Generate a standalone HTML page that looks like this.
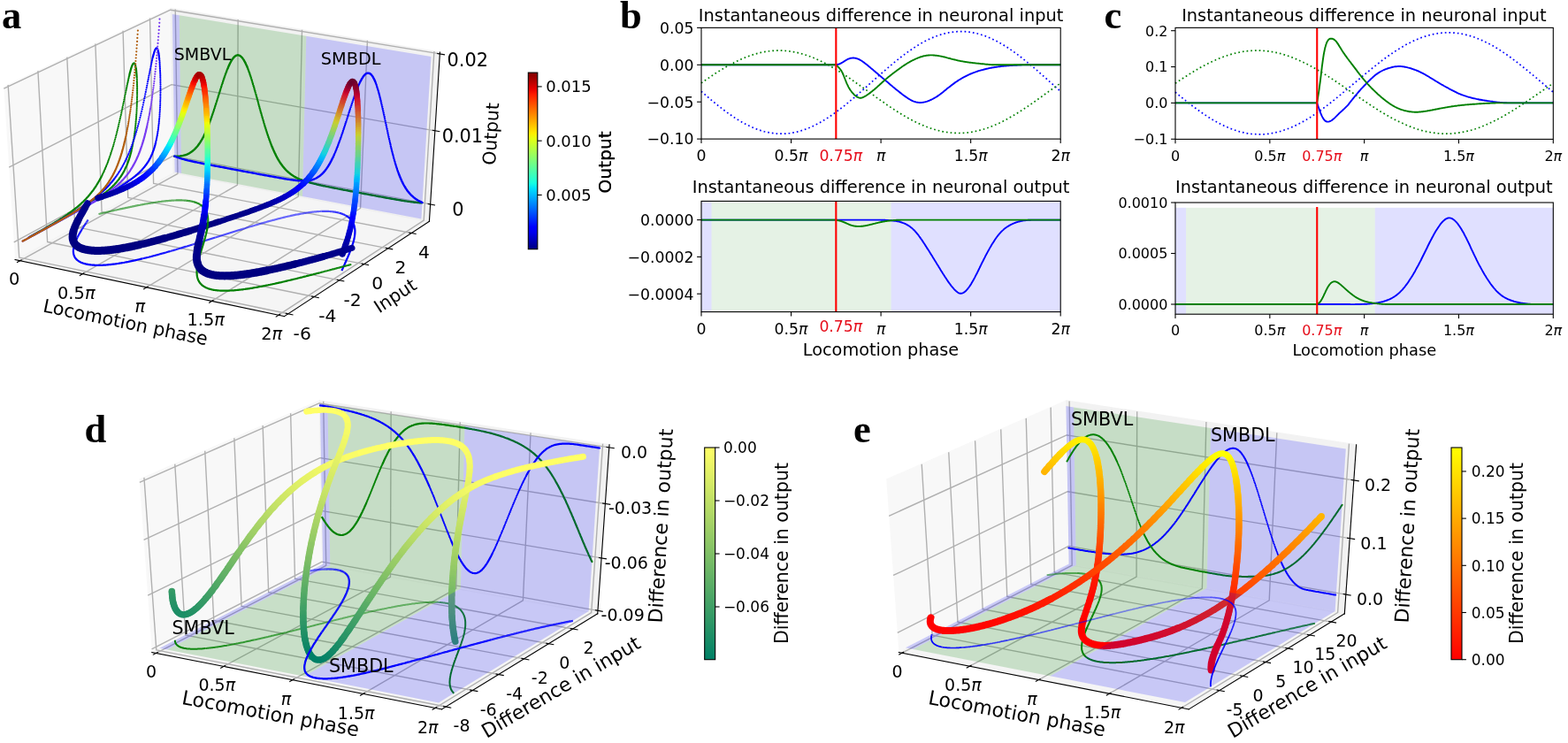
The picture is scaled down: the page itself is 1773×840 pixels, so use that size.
<!DOCTYPE html>
<html><head><meta charset="utf-8"><title>Figure</title>
<style>html,body{margin:0;padding:0;background:#fff;overflow:hidden}svg{display:block}</style></head>
<body>
<svg width="1773" height="840" viewBox="0 0 1276.56 604.80">
 <g id="figure_1" stroke-linejoin="round" stroke-linecap="butt">
  <g id="patch_1">
   <path d="M 0 604.8 
L 1276.56 604.8 
L 1276.56 0 
L 0 0 
z
" style="fill: #ffffff"/>
  </g>
  <g id="pane3d_1">
   <g id="patch_2">
    <path d="M 12.276018 211.436747 
L 140.888732 140.595865 
L 138.752524 6.84565 
L 3.013566 70.82768 
" style="fill: #f2f2f2; opacity: 0.5; stroke: #f2f2f2; stroke-linejoin: miter"/>
   </g>
  </g>
  <g id="pane3d_2">
   <g id="patch_3">
    <path d="M 140.888732 140.595865 
L 349.497506 180.225838 
L 358.179074 42.578621 
L 138.752524 6.84565 
" style="fill: #e6e6e6; opacity: 0.5; stroke: #e6e6e6; stroke-linejoin: miter"/>
   </g>
  </g>
  <g id="pane3d_3">
   <g id="patch_4">
    <path d="M 12.276018 211.436747 
L 231.538515 257.45241 
L 349.497506 180.225838 
L 140.888732 140.595865 
" style="fill: #ececec; opacity: 0.5; stroke: #ececec; stroke-linejoin: miter"/>
   </g>
  </g>
  <g id="grid3d_1">
   <g id="Line3DCollection_1">
    <path d="M 16.240963 212.268853 
L 144.672976 141.314768 
L 142.724705 7.492508 
" style="fill: none; stroke: #b0b0b0"/>
    <path d="M 67.208249 222.965135 
L 193.278152 150.548425 
L 193.770983 15.805245 
" style="fill: none; stroke: #b0b0b0"/>
    <path d="M 119.271057 233.891329 
L 242.852917 159.966277 
L 245.887652 24.292292 
" style="fill: none; stroke: #b0b0b0"/>
    <path d="M 172.465094 245.054929 
L 293.426577 169.573892 
L 299.108736 32.959189 
" style="fill: none; stroke: #b0b0b0"/>
    <path d="M 226.827633 256.463758 
L 345.029627 179.377063 
L 353.469716 41.811716 
" style="fill: none; stroke: #b0b0b0"/>
   </g>
  </g>
  <g id="grid3d_2">
   <g id="Line3DCollection_2">
    <path d="M 6.576123 69.14843 
L 15.63906 209.584358 
L 234.632669 255.426699 
" style="fill: none; stroke: #b0b0b0"/>
    <path d="M 30.897745 57.68417 
L 38.616512 196.928198 
L 255.759023 241.595486 
" style="fill: none; stroke: #b0b0b0"/>
    <path d="M 54.581526 46.520563 
L 61.021465 184.587376 
L 276.335573 228.124224 
" style="fill: none; stroke: #b0b0b0"/>
    <path d="M 77.652233 35.645935 
L 82.875053 172.55025 
L 296.383507 214.999042 
" style="fill: none; stroke: #b0b0b0"/>
    <path d="M 100.133367 25.049209 
L 104.197381 160.805746 
L 315.922937 202.206773 
" style="fill: none; stroke: #b0b0b0"/>
    <path d="M 122.047242 14.719866 
L 125.007588 149.343322 
L 334.972968 189.734909 
" style="fill: none; stroke: #b0b0b0"/>
   </g>
  </g>
  <g id="grid3d_3">
   <g id="Line3DCollection_3">
    <path d="M 350.37826 166.26139 
L 140.671597 127.000822 
L 11.337749 197.193309 
" style="fill: none; stroke: #b0b0b0"/>
    <path d="M 354.150973 106.444611 
L 139.742559 68.832766 
L 7.315053 136.126599 
" style="fill: none; stroke: #b0b0b0"/>
    <path d="M 358.098264 43.859869 
L 138.772367 8.088004 
L 3.099926 72.138676 
" style="fill: none; stroke: #b0b0b0"/>
   </g>
  </g>
  <g id="axis3d_1">
   <g id="line2d_1">
    <path d="M 12.276018 211.436747 
L 231.538515 257.45241 
" style="fill: none; stroke: #000000; stroke-width: 0.8; stroke-linecap: square"/>
   </g>
   <g id="xtick_1">
    <g id="line2d_2">
     <path d="M 17.345719 211.658515 
L 14.027422 213.491756 
" style="fill: none; stroke: #000000; stroke-width: 0.8; stroke-linecap: square"/>
    </g>
   </g>
   <g id="xtick_2">
    <g id="line2d_3">
     <path d="M 68.293493 222.341752 
L 65.033761 224.214198 
" style="fill: none; stroke: #000000; stroke-width: 0.8; stroke-linecap: square"/>
    </g>
   </g>
   <g id="xtick_3">
    <g id="line2d_4">
     <path d="M 120.335691 233.254479 
L 117.137824 235.167401 
" style="fill: none; stroke: #000000; stroke-width: 0.8; stroke-linecap: square"/>
    </g>
   </g>
   <g id="xtick_4">
    <g id="line2d_5">
     <path d="M 173.507961 244.404171 
L 170.375432 246.358896 
" style="fill: none; stroke: #000000; stroke-width: 0.8; stroke-linecap: square"/>
    </g>
   </g>
   <g id="xtick_5">
    <g id="line2d_6">
     <path d="M 227.847515 255.79863 
L 224.783985 257.796545 
" style="fill: none; stroke: #000000; stroke-width: 0.8; stroke-linecap: square"/>
    </g>
   </g>
  </g>
  <g id="axis3d_2">
   <g id="line2d_7">
    <path d="M 349.497506 180.225838 
L 231.538515 257.45241 
" style="fill: none; stroke: #000000; stroke-width: 0.8; stroke-linecap: square"/>
   </g>
   <g id="xtick_6">
    <g id="line2d_8">
     <path d="M 232.801337 255.043343 
L 238.299352 256.194252 
" style="fill: none; stroke: #000000; stroke-width: 0.8; stroke-linecap: square"/>
    </g>
   </g>
   <g id="xtick_7">
    <g id="line2d_9">
     <path d="M 253.944208 241.22217 
L 259.392582 242.342927 
" style="fill: none; stroke: #000000; stroke-width: 0.8; stroke-linecap: square"/>
    </g>
   </g>
   <g id="xtick_8">
    <g id="line2d_10">
     <path d="M 274.537042 227.760558 
L 279.936481 228.852333 
" style="fill: none; stroke: #000000; stroke-width: 0.8; stroke-linecap: square"/>
    </g>
   </g>
   <g id="xtick_9">
    <g id="line2d_11">
     <path d="M 294.601027 214.644657 
L 299.95223 215.70856 
" style="fill: none; stroke: #000000; stroke-width: 0.8; stroke-linecap: square"/>
    </g>
   </g>
   <g id="xtick_10">
    <g id="line2d_12">
     <path d="M 314.156277 201.861318 
L 319.459939 202.898402 
" style="fill: none; stroke: #000000; stroke-width: 0.8; stroke-linecap: square"/>
    </g>
   </g>
   <g id="xtick_11">
    <g id="line2d_13">
     <path d="M 333.221899 189.398051 
L 338.478708 190.409317 
" style="fill: none; stroke: #000000; stroke-width: 0.8; stroke-linecap: square"/>
    </g>
   </g>
  </g>
  <g id="axis3d_3">
   <g id="line2d_14">
    <path d="M 349.497506 180.225838 
L 358.179074 42.578621 
" style="fill: none; stroke: #000000; stroke-width: 0.8; stroke-linecap: square"/>
   </g>
   <g id="xtick_12">
    <g id="line2d_15">
     <path d="M 348.629663 165.934024 
L 353.879036 166.916793 
" style="fill: none; stroke: #000000; stroke-width: 0.8; stroke-linecap: square"/>
    </g>
   </g>
   <g id="xtick_13">
    <g id="line2d_16">
     <path d="M 352.361532 106.130705 
L 357.733604 107.073082 
" style="fill: none; stroke: #000000; stroke-width: 0.8; stroke-linecap: square"/>
    </g>
   </g>
   <g id="xtick_14">
    <g id="line2d_17">
     <path d="M 356.266027 43.561033 
L 361.766666 44.458182 
" style="fill: none; stroke: #000000; stroke-width: 0.8; stroke-linecap: square"/>
    </g>
   </g>
  </g>
  <g id="axes_1"/>
  <g id="pane3d_4">
   <g id="patch_5">
    <path d="M 123.697811 530.977229 
L 262.172992 459.787952 
L 259.821202 326.174883 
L 113.472647 390.424714 
" style="fill: #f2f2f2; opacity: 0.5; stroke: #f2f2f2; stroke-linejoin: miter"/>
   </g>
  </g>
  <g id="pane3d_5">
   <g id="patch_6">
    <path d="M 262.172992 459.787952 
L 486.52246 499.590237 
L 496.094791 362.034425 
L 259.821202 326.174883 
" style="fill: #e6e6e6; opacity: 0.5; stroke: #e6e6e6; stroke-linejoin: miter"/>
   </g>
  </g>
  <g id="pane3d_6">
   <g id="patch_7">
    <path d="M 123.697811 530.977229 
L 359.716682 577.317531 
L 486.52246 499.590237 
L 262.172992 459.787952 
" style="fill: #ececec; opacity: 0.5; stroke: #ececec; stroke-linejoin: miter"/>
   </g>
  </g>
  <g id="grid3d_4">
   <g id="Line3DCollection_4">
    <path d="M 127.162999 531.657589 
L 265.477705 460.374248 
L 263.293967 326.701949 
" style="fill: none; stroke: #b0b0b0"/>
    <path d="M 182.112708 542.446498 
L 317.839319 469.663825 
L 318.348525 335.057649 
" style="fill: none; stroke: #b0b0b0"/>
    <path d="M 238.268494 553.47221 
L 371.2661 479.142377 
L 374.581747 343.592237 
" style="fill: none; stroke: #b0b0b0"/>
    <path d="M 295.670507 564.742608 
L 425.790885 488.815728 
L 432.031894 352.311518 
" style="fill: none; stroke: #b0b0b0"/>
    <path d="M 354.360696 576.265929 
L 481.447874 498.689945 
L 490.7389 361.221555 
" style="fill: none; stroke: #b0b0b0"/>
   </g>
  </g>
  <g id="grid3d_5">
   <g id="Line3DCollection_5">
    <path d="M 117.30303 388.743102 
L 127.308144 529.121177 
L 363.033537 575.284421 
" style="fill: none; stroke: #b0b0b0"/>
    <path d="M 142.400016 377.725043 
L 150.98188 516.950649 
L 384.768551 561.961654 
" style="fill: none; stroke: #b0b0b0"/>
    <path d="M 166.855418 366.988651 
L 174.081395 505.075324 
L 405.952442 548.976705 
" style="fill: none; stroke: #b0b0b0"/>
    <path d="M 190.693528 356.523262 
L 196.627332 493.48459 
L 426.605909 536.316887 
" style="fill: none; stroke: #b0b0b0"/>
    <path d="M 213.937428 346.318743 
L 218.639353 482.168339 
L 446.748628 523.970138 
" style="fill: none; stroke: #b0b0b0"/>
    <path d="M 236.609061 336.36546 
L 240.136203 471.116935 
L 466.399314 511.924988 
" style="fill: none; stroke: #b0b0b0"/>
   </g>
  </g>
  <g id="grid3d_6">
   <g id="Line3DCollection_6">
    <path d="M 486.698097 497.066315 
L 262.129746 457.331032 
L 123.510518 528.402752 
" style="fill: none; stroke: #b0b0b0"/>
    <path d="M 489.677105 454.257521 
L 261.396787 415.689135 
L 120.331975 484.7113 
" style="fill: none; stroke: #b0b0b0"/>
    <path d="M 492.757134 409.997045 
L 260.640035 372.695515 
L 117.042 439.488139 
" style="fill: none; stroke: #b0b0b0"/>
    <path d="M 495.943411 364.20977 
L 259.858313 328.283272 
L 113.63463 392.651284 
" style="fill: none; stroke: #b0b0b0"/>
   </g>
  </g>
  <g id="axis3d_4">
   <g id="line2d_18">
    <path d="M 123.697811 530.977229 
L 359.716682 577.317531 
" style="fill: none; stroke: #000000; stroke-width: 0.8; stroke-linecap: square"/>
   </g>
   <g id="xtick_15">
    <g id="line2d_19">
     <path d="M 128.354273 531.043641 
L 124.776027 532.887764 
" style="fill: none; stroke: #000000; stroke-width: 0.8; stroke-linecap: square"/>
    </g>
   </g>
   <g id="xtick_16">
    <g id="line2d_20">
     <path d="M 183.282594 541.819153 
L 179.768545 543.703543 
" style="fill: none; stroke: #000000; stroke-width: 0.8; stroke-linecap: square"/>
    </g>
   </g>
   <g id="xtick_17">
    <g id="line2d_21">
     <path d="M 239.415761 552.831024 
L 235.969607 554.757015 
" style="fill: none; stroke: #000000; stroke-width: 0.8; stroke-linecap: square"/>
    </g>
   </g>
   <g id="xtick_18">
    <g id="line2d_22">
     <path d="M 296.793858 564.087119 
L 293.419495 566.056102 
" style="fill: none; stroke: #000000; stroke-width: 0.8; stroke-linecap: square"/>
    </g>
   </g>
   <g id="xtick_19">
    <g id="line2d_23">
     <path d="M 355.458763 575.595651 
L 352.160301 577.609084 
" style="fill: none; stroke: #000000; stroke-width: 0.8; stroke-linecap: square"/>
    </g>
   </g>
  </g>
  <g id="axis3d_5">
   <g id="line2d_24">
    <path d="M 486.52246 499.590237 
L 359.716682 577.317531 
" style="fill: none; stroke: #000000; stroke-width: 0.8; stroke-linecap: square"/>
   </g>
   <g id="xtick_20">
    <g id="line2d_25">
     <path d="M 361.060655 574.898061 
L 366.983715 576.058003 
" style="fill: none; stroke: #000000; stroke-width: 0.8; stroke-linecap: square"/>
    </g>
   </g>
   <g id="xtick_21">
    <g id="line2d_26">
     <path d="M 382.813003 561.585152 
L 388.683964 562.715489 
" style="fill: none; stroke: #000000; stroke-width: 0.8; stroke-linecap: square"/>
    </g>
   </g>
   <g id="xtick_22">
    <g id="line2d_27">
     <path d="M 404.013989 548.609688 
L 409.833573 549.711541 
" style="fill: none; stroke: #000000; stroke-width: 0.8; stroke-linecap: square"/>
    </g>
   </g>
   <g id="xtick_23">
    <g id="line2d_28">
     <path d="M 424.684314 535.959 
L 430.453236 537.033431 
" style="fill: none; stroke: #000000; stroke-width: 0.8; stroke-linecap: square"/>
    </g>
   </g>
   <g id="xtick_24">
    <g id="line2d_29">
     <path d="M 444.843655 523.621045 
L 450.562626 524.669066 
" style="fill: none; stroke: #000000; stroke-width: 0.8; stroke-linecap: square"/>
    </g>
   </g>
   <g id="xtick_25">
    <g id="line2d_30">
     <path d="M 464.510728 511.584369 
L 470.180453 512.606941 
" style="fill: none; stroke: #000000; stroke-width: 0.8; stroke-linecap: square"/>
    </g>
   </g>
  </g>
  <g id="axis3d_6">
   <g id="line2d_31">
    <path d="M 486.52246 499.590237 
L 496.094791 362.034425 
" style="fill: none; stroke: #000000; stroke-width: 0.8; stroke-linecap: square"/>
   </g>
   <g id="xtick_26">
    <g id="line2d_32">
     <path d="M 484.824567 496.734811 
L 490.449045 497.730011 
" style="fill: none; stroke: #000000; stroke-width: 0.8; stroke-linecap: square"/>
    </g>
   </g>
   <g id="xtick_27">
    <g id="line2d_33">
     <path d="M 487.771303 453.935532 
L 493.492731 454.902178 
" style="fill: none; stroke: #000000; stroke-width: 0.8; stroke-linecap: square"/>
    </g>
   </g>
   <g id="xtick_28">
    <g id="line2d_34">
     <path d="M 490.817929 409.685412 
L 496.639706 410.620979 
" style="fill: none; stroke: #000000; stroke-width: 0.8; stroke-linecap: square"/>
    </g>
   </g>
   <g id="xtick_29">
    <g id="line2d_35">
     <path d="M 493.969613 363.909405 
L 499.895316 364.811155 
" style="fill: none; stroke: #000000; stroke-width: 0.8; stroke-linecap: square"/>
    </g>
   </g>
  </g>
  <g id="axes_2"/>
  <g id="pane3d_7">
   <g id="patch_8">
    <path d="M 731.809811 530.977229 
L 870.284992 459.787952 
L 867.933202 326.174883 
L 721.584647 390.424714 
" style="fill: #f2f2f2; opacity: 0.5; stroke: #f2f2f2; stroke-linejoin: miter"/>
   </g>
  </g>
  <g id="pane3d_8">
   <g id="patch_9">
    <path d="M 870.284992 459.787952 
L 1094.63446 499.590237 
L 1104.206791 362.034425 
L 867.933202 326.174883 
" style="fill: #e6e6e6; opacity: 0.5; stroke: #e6e6e6; stroke-linejoin: miter"/>
   </g>
  </g>
  <g id="pane3d_9">
   <g id="patch_10">
    <path d="M 731.809811 530.977229 
L 967.828682 577.317531 
L 1094.63446 499.590237 
L 870.284992 459.787952 
" style="fill: #ececec; opacity: 0.5; stroke: #ececec; stroke-linejoin: miter"/>
   </g>
  </g>
  <g id="grid3d_7">
   <g id="Line3DCollection_7">
    <path d="M 734.442143 531.494065 
L 872.795449 460.233337 
L 870.571301 326.575271 
" style="fill: none; stroke: #b0b0b0"/>
    <path d="M 789.468297 542.297983 
L 925.231087 469.536048 
L 925.702866 334.942659 
" style="fill: none; stroke: #b0b0b0"/>
    <path d="M 845.704107 553.339407 
L 978.735087 479.028299 
L 982.016605 343.489466 
" style="fill: none; stroke: #b0b0b0"/>
    <path d="M 903.189903 564.626255 
L 1033.340437 488.715943 
L 1039.550953 352.221527 
" style="fill: none; stroke: #b0b0b0"/>
    <path d="M 961.967832 576.166803 
L 1089.081495 498.605075 
L 1098.34603 361.14493 
" style="fill: none; stroke: #b0b0b0"/>
   </g>
  </g>
  <g id="grid3d_8">
   <g id="Line3DCollection_8">
    <path d="M 750.400213 377.774126 
L 758.988346 517.004903 
L 992.783715 562.021011 
" style="fill: none; stroke: #b0b0b0"/>
    <path d="M 772.373455 368.12745 
L 779.741799 506.335675 
L 1011.817274 550.354137 
" style="fill: none; stroke: #b0b0b0"/>
    <path d="M 793.847744 358.699825 
L 800.047889 495.896433 
L 1030.422108 538.950055 
" style="fill: none; stroke: #b0b0b0"/>
    <path d="M 814.839882 349.483872 
L 819.920928 485.679821 
L 1048.612542 527.799986 
" style="fill: none; stroke: #b0b0b0"/>
    <path d="M 835.365927 340.472544 
L 839.374621 475.678792 
L 1066.402268 516.895536 
" style="fill: none; stroke: #b0b0b0"/>
    <path d="M 855.441234 331.659098 
L 858.422104 465.886593 
L 1083.804382 506.228678 
" style="fill: none; stroke: #b0b0b0"/>
   </g>
  </g>
  <g id="grid3d_9">
   <g id="Line3DCollection_9">
    <path d="M 1095.724252 483.92976 
L 870.016718 444.546442 
L 730.6475 515.000402 
" style="fill: none; stroke: #b0b0b0"/>
    <path d="M 1098.903326 438.245997 
L 869.234902 400.128824 
L 727.254233 468.357403 
" style="fill: none; stroke: #b0b0b0"/>
    <path d="M 1102.196979 390.915711 
L 868.426121 354.17925 
L 723.7345 419.976045 
" style="fill: none; stroke: #b0b0b0"/>
   </g>
  </g>
  <g id="axis3d_7">
   <g id="line2d_36">
    <path d="M 731.809811 530.977229 
L 967.828682 577.317531 
" style="fill: none; stroke: #000000; stroke-width: 0.8; stroke-linecap: square"/>
   </g>
   <g id="xtick_30">
    <g id="line2d_37">
     <path d="M 735.633736 530.880319 
L 732.054533 532.723835 
" style="fill: none; stroke: #000000; stroke-width: 0.8; stroke-linecap: square"/>
    </g>
   </g>
   <g id="xtick_31">
    <g id="line2d_38">
     <path d="M 790.638482 541.670823 
L 787.123535 543.554656 
" style="fill: none; stroke: #000000; stroke-width: 0.8; stroke-linecap: square"/>
    </g>
   </g>
   <g id="xtick_32">
    <g id="line2d_39">
     <path d="M 846.851651 552.698389 
L 843.404665 554.623875 
" style="fill: none; stroke: #000000; stroke-width: 0.8; stroke-linecap: square"/>
    </g>
   </g>
   <g id="xtick_33">
    <g id="line2d_40">
     <path d="M 904.313505 563.970914 
L 900.938389 565.939451 
" style="fill: none; stroke: #000000; stroke-width: 0.8; stroke-linecap: square"/>
    </g>
   </g>
   <g id="xtick_34">
    <g id="line2d_41">
     <path d="M 963.06612 575.496653 
L 959.766994 577.509701 
" style="fill: none; stroke: #000000; stroke-width: 0.8; stroke-linecap: square"/>
    </g>
   </g>
  </g>
  <g id="axis3d_8">
   <g id="line2d_42">
    <path d="M 1094.63446 499.590237 
L 967.828682 577.317531 
" style="fill: none; stroke: #000000; stroke-width: 0.8; stroke-linecap: square"/>
   </g>
   <g id="xtick_35">
    <g id="line2d_43">
     <path d="M 990.828089 561.644465 
L 996.699284 562.774934 
" style="fill: none; stroke: #000000; stroke-width: 0.8; stroke-linecap: square"/>
    </g>
   </g>
   <g id="xtick_36">
    <g id="line2d_44">
     <path d="M 1009.876998 549.986119 
L 1015.702061 551.090976 
" style="fill: none; stroke: #000000; stroke-width: 0.8; stroke-linecap: square"/>
    </g>
   </g>
   <g id="xtick_37">
    <g id="line2d_45">
     <path d="M 1028.496992 538.590278 
L 1034.276498 539.670385 
" style="fill: none; stroke: #000000; stroke-width: 0.8; stroke-linecap: square"/>
    </g>
   </g>
   <g id="xtick_38">
    <g id="line2d_46">
     <path d="M 1046.702393 527.448177 
L 1052.436916 528.504355 
" style="fill: none; stroke: #000000; stroke-width: 0.8; stroke-linecap: square"/>
    </g>
   </g>
   <g id="xtick_39">
    <g id="line2d_47">
     <path d="M 1064.506899 516.551433 
L 1070.197007 517.584469 
" style="fill: none; stroke: #000000; stroke-width: 0.8; stroke-linecap: square"/>
    </g>
   </g>
   <g id="xtick_40">
    <g id="line2d_48">
     <path d="M 1081.923605 505.89203 
L 1087.569863 506.902677 
" style="fill: none; stroke: #000000; stroke-width: 0.8; stroke-linecap: square"/>
    </g>
   </g>
  </g>
  <g id="axis3d_9">
   <g id="line2d_49">
    <path d="M 1094.63446 499.590237 
L 1104.206791 362.034425 
" style="fill: none; stroke: #000000; stroke-width: 0.8; stroke-linecap: square"/>
   </g>
   <g id="xtick_41">
    <g id="line2d_50">
     <path d="M 1093.840823 483.601124 
L 1099.495041 484.587719 
" style="fill: none; stroke: #000000; stroke-width: 0.8; stroke-linecap: square"/>
    </g>
   </g>
   <g id="xtick_42">
    <g id="line2d_51">
     <path d="M 1096.985444 437.927694 
L 1102.743162 438.88328 
" style="fill: none; stroke: #000000; stroke-width: 0.8; stroke-linecap: square"/>
    </g>
   </g>
   <g id="xtick_43">
    <g id="line2d_52">
     <path d="M 1100.243363 390.608706 
L 1106.108435 391.530386 
" style="fill: none; stroke: #000000; stroke-width: 0.8; stroke-linecap: square"/>
    </g>
   </g>
  </g>
  <g id="axes_3"/>
 </g>
<g transform="scale(0.72)">
<path d="M197.6 194.6L205.1 196.0L202.7 17.2L194.8 15.9Z" fill="#0000ff" fill-opacity="0.18"/>
<path d="M205.1 196.0L342.0 222.0L346.3 40.8L202.7 17.2Z" fill="#008000" fill-opacity="0.18"/>
<path d="M197.3 176.8h0L198.4 176.8L199.4 176.8L200.5 176.7L201.6 176.7L202.7 176.6L203.7 176.5L204.8 176.3L205.9 176.1L207.0 175.9L208.0 175.6L209.1 175.3L210.2 175.0L211.3 174.6L212.4 174.1L213.4 173.6L214.5 173.0L215.6 172.3L216.7 171.6L217.7 170.8L218.8 169.9L219.4 169.4L219.9 168.9L220.4 168.4L221.0 167.8L221.5 167.2L222.1 166.6L222.6 166.0L223.1 165.4L223.7 164.7L224.2 164.0L224.7 163.3L225.3 162.5L225.8 161.7L226.4 160.9L226.9 160.0L227.4 159.2L228.0 158.3L228.5 157.3L229.1 156.3L229.6 155.3L230.2 154.3L230.7 153.2L231.2 152.1L231.8 151.0L232.3 149.8L232.9 148.6L233.4 147.4L233.9 146.2L234.5 144.9L235.0 143.5L235.6 142.2L236.1 140.8M236.7 139.4h0M237.2 137.9h0M237.8 136.5h0M238.3 135.0h0M238.8 133.4h0M239.4 131.9h0M239.9 130.3h0M240.5 128.7h0M241.0 127.1h0M241.6 125.4h0M242.1 123.7h0M242.7 122.1h0M243.2 120.3h0M243.8 118.6h0M244.3 116.9h0M244.9 115.1h0M245.4 113.4h0M246.0 111.6h0M246.6 109.8h0M247.1 108.0h0M247.7 106.3h0M248.2 104.5h0M248.8 102.7h0M249.3 100.9h0M249.9 99.1h0M250.4 97.4h0M251.0 95.6h0M251.6 93.9h0M252.1 92.2h0M252.7 90.5h0M253.3 88.8h0M253.8 87.2h0M254.4 85.6h0M254.9 84.0h0M255.5 82.5h0M256.1 81.0h0M256.6 79.5h0M257.2 78.1h0L257.8 76.7L258.3 75.4L258.9 74.1L259.5 72.9L260.0 71.7L260.6 70.6L261.2 69.5L261.7 68.6L262.3 67.6L262.9 66.8L263.5 66.0L264.0 65.3L264.6 64.7L265.2 64.1L265.7 63.6L266.3 63.2L267.4 62.6L268.6 62.3L269.7 62.4L270.9 62.8L272.0 63.5L272.6 63.9L273.1 64.5L273.7 65.1L274.3 65.8L274.8 66.6L275.4 67.4L276.0 68.4L276.5 69.4L277.1 70.4L277.7 71.6L278.2 72.8L278.8 74.0L279.4 75.3L279.9 76.7M280.5 78.2h0M281.0 79.6h0M281.6 81.2h0M282.2 82.8h0M282.7 84.4h0M283.3 86.1h0M283.8 87.8h0M284.4 89.6h0M284.9 91.3h0M285.5 93.2h0M286.0 95.0h0M286.6 96.9h0M287.2 98.8h0M287.7 100.7h0M288.3 102.7h0M288.8 104.6h0M289.4 106.6h0M289.9 108.5h0M290.5 110.5h0M291.0 112.5h0M291.6 114.5h0M292.1 116.5h0M292.6 118.5h0M293.2 120.5h0M293.7 122.4h0M294.3 124.4h0M294.8 126.4h0M295.4 128.3h0M295.9 130.2h0M296.5 132.2h0M297.0 134.0h0M297.6 135.9h0M298.1 137.8h0M298.6 139.6h0M299.2 141.4h0M299.7 143.2h0M300.3 145.0h0M300.8 146.7h0M301.4 148.4h0M301.9 150.1h0M302.4 151.7h0M303.0 153.3h0M303.5 154.9h0M304.1 156.5h0M304.6 158.0h0M305.2 159.5h0M305.7 161.0h0M306.3 162.4h0M306.8 163.8h0L307.3 165.2L307.9 166.5L308.4 167.8L309.0 169.1L309.5 170.3L310.1 171.5L310.6 172.7L311.2 173.8L311.7 174.9L312.2 176.0L312.8 177.1L313.3 178.1L313.9 179.1L314.4 180.1L315.0 181.0L315.5 181.9L316.1 182.8L316.6 183.6L317.2 184.5L317.7 185.3L318.3 186.0L318.8 186.8L319.4 187.5L319.9 188.2L320.5 188.9L321.0 189.6L321.6 190.2L322.1 190.8L322.7 191.4L323.2 192.0L323.8 192.6L324.3 193.1L324.9 193.6L325.4 194.2L326.0 194.6L326.5 195.1L327.1 195.6L327.7 196.0L328.2 196.5L329.3 197.3L330.4 198.1L331.5 198.8L332.7 199.5L333.8 200.1L334.9 200.7L336.0 201.3L337.1 201.8L338.2 202.3L339.4 202.8L340.5 203.2L341.6 203.7L342.7 204.1L343.8 204.5L345.0 204.8L346.1 205.2L347.2 205.5L348.3 205.9L349.4 206.2L350.6 206.5L351.7 206.8L352.8 207.1L354.0 207.4L355.1 207.7L356.2 207.9L357.3 208.2L358.5 208.5L359.6 208.7L360.7 209.0L361.8 209.2L363.0 209.5L364.1 209.7L365.2 210.0L366.4 210.2L367.5 210.4L368.6 210.7L369.8 210.9L370.9 211.1L372.0 211.3L373.2 211.6L374.3 211.8L375.4 212.0L376.6 212.3L377.7 212.5L378.8 212.7L380.0 212.9L381.1 213.1L382.3 213.4L383.4 213.6L384.5 213.8L385.7 214.0L386.8 214.2L387.9 214.5L389.1 214.7L390.2 214.9L391.4 215.1L392.5 215.3L393.6 215.5L394.8 215.8L395.9 216.0L397.1 216.2L398.2 216.4L399.4 216.6L400.5 216.8L401.6 217.0L402.8 217.3L403.9 217.5L405.1 217.7L406.2 217.9L407.4 218.1L408.5 218.3L409.7 218.6L410.8 218.8L411.9 219.0L413.1 219.2L414.2 219.4L415.4 219.6L416.5 219.8L417.7 220.1L418.8 220.3L420.0 220.5L421.1 220.7L422.3 220.9L423.4 221.1L424.6 221.3L425.7 221.6L426.9 221.8L428.0 222.0L429.2 222.2L430.4 222.4L431.5 222.6L432.7 222.8L433.8 223.0L435.0 223.3L436.1 223.5L437.3 223.7L438.4 223.9L439.6 224.1L440.7 224.3L441.9 224.5L443.1 224.7L444.2 224.9L445.4 225.1L446.5 225.3L447.7 225.5L448.9 225.7L450.0 225.9L451.2 226.1L452.3 226.3L453.5 226.5L454.7 226.7L455.8 226.9L457.0 227.1L458.2 227.3L459.3 227.4L460.5 227.6L461.7 227.8L462.8 227.9L464.0 228.1L465.2 228.2L466.3 228.4L467.5 228.5L468.7 228.7L469.8 228.8L471.0 228.9L472.2 229.0L473.4 229.1L474.5 229.2L475.7 229.2L476.9 229.3" stroke="#008000" stroke-width="2.40" fill="none" stroke-linecap="round" stroke-linejoin="round"/>
<path d="M197.3 176.5h0L198.4 177.0L199.4 177.4L200.5 177.8L201.6 178.2L202.7 178.6L203.8 178.9L204.9 179.3L205.9 179.6L207.0 179.9L208.1 180.2L209.2 180.5L210.3 180.8L211.4 181.0L212.4 181.3L213.5 181.6L214.6 181.8L215.7 182.0L216.8 182.3L217.9 182.5L218.9 182.8L220.0 183.0L221.1 183.2L222.2 183.4L223.3 183.7L224.4 183.9L225.5 184.1L226.5 184.3L227.6 184.5L228.7 184.7L229.8 185.0L230.9 185.2L232.0 185.4L233.1 185.6L234.2 185.8L235.3 186.0L236.3 186.2L237.4 186.4L238.5 186.6L239.6 186.8L240.7 187.1L241.8 187.3L242.9 187.5L244.0 187.7L245.1 187.9L246.2 188.1L247.3 188.3L248.4 188.5L249.5 188.7L250.6 188.9L251.7 189.1L252.7 189.3L253.8 189.5L254.9 189.7L256.0 189.9L257.1 190.2L258.2 190.4L259.3 190.6L260.4 190.8L261.5 191.0L262.6 191.2L263.7 191.4L264.8 191.6L265.9 191.8L267.0 192.0L268.1 192.2L269.2 192.4L270.3 192.6L271.4 192.8L272.5 193.0L273.6 193.3L274.7 193.5L275.8 193.7L276.9 193.9L278.0 194.1L279.1 194.3L280.3 194.5L281.4 194.7L282.5 194.9L283.6 195.1L284.7 195.3L285.8 195.5L286.9 195.7L288.0 195.9L289.1 196.1L290.2 196.4L291.3 196.6L292.4 196.8L293.5 197.0L294.6 197.2L295.7 197.4L296.9 197.6L298.0 197.8L299.1 198.0L300.2 198.2L301.3 198.4L302.4 198.6L303.5 198.8L304.6 199.0L305.7 199.2L306.9 199.4L308.0 199.6L309.1 199.8L310.2 200.0L311.3 200.2L312.4 200.4L313.5 200.6L314.7 200.8L315.8 201.0L316.9 201.2L318.0 201.4L319.1 201.6L320.2 201.8L321.4 202.0L322.5 202.2L323.6 202.4L324.7 202.6L325.8 202.7L327.0 202.9L328.1 203.1L329.2 203.2L330.3 203.4L331.4 203.5L332.6 203.7L333.7 203.8L334.8 204.0L335.9 204.1L337.1 204.2L338.2 204.3L339.3 204.3L340.4 204.4L341.6 204.4L342.7 204.5L343.8 204.5L345.0 204.4L346.1 204.4L347.2 204.3L348.4 204.2L349.5 204.0L350.6 203.8L351.8 203.6L352.9 203.3L354.1 202.9L355.2 202.5L356.4 202.0L357.5 201.5L358.7 200.8L359.8 200.1L361.0 199.3L361.6 198.9L362.2 198.4L362.7 197.9L363.3 197.4L363.9 196.9L364.5 196.3L365.1 195.7L365.7 195.1L366.3 194.4L366.9 193.7L367.5 193.0L368.1 192.2L368.7 191.4L369.3 190.6L369.9 189.7L370.5 188.8L371.1 187.9L371.7 186.9L372.3 185.9L372.9 184.9L373.5 183.8L374.1 182.6L374.7 181.5L375.3 180.2L375.9 179.0L376.6 177.7L377.2 176.4M377.8 175.0h0M378.4 173.6h0M379.1 172.1h0M379.7 170.6h0M380.3 169.1h0M380.9 167.5h0M381.6 165.9h0M382.2 164.2h0M382.8 162.5h0M383.5 160.8h0M384.1 159.0h0M384.8 157.2h0M385.4 155.4h0M386.1 153.5h0M386.7 151.6h0M387.4 149.7h0M388.0 147.7h0M388.7 145.8h0M389.3 143.8h0M390.0 141.8h0M390.6 139.7h0M391.3 137.7h0M392.0 135.6h0M392.6 133.6h0M393.3 131.5h0M393.9 129.4h0M394.6 127.3h0M395.3 125.3h0M395.9 123.2h0M396.6 121.1h0M397.3 119.1h0M397.9 117.1h0M398.6 115.1h0M399.3 113.1h0M399.9 111.2h0M400.6 109.2h0M401.3 107.4h0M401.9 105.5h0M402.6 103.7h0M403.2 102.0h0M403.9 100.3h0M404.6 98.7h0M405.2 97.1h0M405.9 95.6h0M406.5 94.2h0M407.2 92.8h0L407.8 91.5L408.5 90.3L409.1 89.1L409.8 88.1L410.4 87.1L411.0 86.2L411.7 85.4L412.3 84.7L412.9 84.1L413.5 83.6L414.1 83.2L415.4 82.7L416.6 82.6L417.7 82.9L418.9 83.6L419.5 84.1L420.1 84.7L420.6 85.4L421.2 86.2L421.8 87.1L422.3 88.1L422.9 89.2L423.4 90.3L424.0 91.6L424.5 92.9M425.0 94.3h0M425.6 95.8h0M426.1 97.4h0M426.6 99.1h0M427.1 100.8h0M427.7 102.5h0M428.2 104.4h0M428.7 106.3h0M429.2 108.2h0M429.7 110.2h0M430.2 112.2h0M430.7 114.3h0M431.2 116.5h0M431.7 118.6h0M432.2 120.8h0M432.7 123.0h0M433.2 125.2h0M433.7 127.5h0M434.2 129.7h0M434.7 132.0h0M435.1 134.3h0M435.6 136.6h0M436.1 138.9h0M436.6 141.2h0M437.1 143.5h0M437.6 145.7h0M438.1 148.0h0M438.5 150.2h0M439.0 152.5h0M439.5 154.7h0M440.0 156.9h0M440.5 159.1h0M441.0 161.2h0M441.5 163.3h0M441.9 165.4h0M442.4 167.5h0M442.9 169.5h0M443.4 171.5h0M443.9 173.4h0M444.4 175.3h0M444.9 177.2h0M445.4 179.1h0M445.9 180.9h0M446.4 182.6h0M446.9 184.4h0M447.4 186.0h0M447.9 187.7h0M448.4 189.3h0M448.9 190.8h0M449.4 192.4h0M449.9 193.8h0M450.5 195.3h0L451.0 196.7L451.5 198.0L452.0 199.3L452.5 200.6L453.1 201.9L453.6 203.1L454.1 204.2L454.6 205.3L455.2 206.4L455.7 207.5L456.2 208.5L456.8 209.5L457.3 210.4L457.9 211.3L458.4 212.2L458.9 213.1L459.5 213.9L460.0 214.7L460.6 215.5L461.1 216.2L461.7 216.9L462.2 217.6L462.8 218.2L463.3 218.9L463.9 219.5L464.4 220.1L465.0 220.6L465.6 221.2L466.1 221.7L466.7 222.2L467.2 222.7L467.8 223.2L468.4 223.6L468.9 224.0L469.5 224.5L470.6 225.2L471.8 226.0L472.9 226.7L474.1 227.3L475.2 227.9L476.3 228.4L477.5 229.0" stroke="#0000ff" stroke-width="2.40" fill="none" stroke-linecap="round" stroke-linejoin="round"/>
<path d="M110.8 223.8h0L111.5 223.3L112.3 222.8L113.0 222.3L113.8 221.7L114.5 221.2L115.3 220.7L116.0 220.1L116.7 219.6L117.5 219.0L118.2 218.5L118.9 217.9L119.7 217.4L120.4 216.8L121.1 216.2L121.8 215.6L122.5 215.1L123.2 214.5L123.9 213.9L124.6 213.2L125.3 212.6L125.9 212.0L126.6 211.4L127.3 210.7L127.9 210.1L128.6 209.4L129.3 208.7L129.9 208.0L130.5 207.3L131.2 206.6L131.8 205.9L132.4 205.1L133.0 204.4L133.7 203.6L134.3 202.9L134.8 202.1L135.4 201.2L136.0 200.4L136.6 199.6L137.2 198.7L137.7 197.8L138.3 196.9L138.8 196.0L139.4 195.1L139.9 194.1L140.4 193.2L140.9 192.2L141.4 191.1L141.9 190.1L142.4 189.0L142.9 188.0L143.4 186.8L143.8 185.7L144.3 184.6L144.7 183.4L145.2 182.2L145.6 180.9L146.0 179.7L146.4 178.4L146.8 177.1L147.2 175.7L147.6 174.3L148.0 173.0L148.3 171.5L148.7 170.1M149.1 168.6h0M149.4 167.1h0M149.7 165.6h0M150.0 164.0h0M150.3 162.4h0M150.6 160.8h0M150.9 159.2h0M151.2 157.5h0M151.5 155.8h0M151.7 154.1h0M152.0 152.3h0M152.2 150.6h0M152.5 148.8h0M152.7 147.0h0M152.9 145.2h0M153.1 143.3h0M153.3 141.4h0M153.5 139.6h0M153.6 137.7h0M153.8 135.7h0M154.0 133.8h0M154.1 131.9h0M154.2 129.9h0M154.4 128.0h0M154.5 126.0h0M154.6 124.1h0M154.7 122.1h0M154.8 120.1h0M154.8 118.2h0M154.9 116.2h0M155.0 114.3h0M155.0 112.3h0M155.0 110.4h0M155.1 108.5h0M155.1 106.6h0M155.1 104.8h0M155.1 102.9h0M155.1 101.1h0M155.1 99.3h0M155.1 97.5h0M155.0 95.8h0M155.0 94.1h0M154.9 92.5h0M154.9 90.9h0M154.8 89.3h0M154.7 87.8h0L154.6 86.3L154.5 84.9L154.4 83.6L154.3 82.3L154.2 81.1L154.1 79.9L154.0 78.8L153.8 77.8L153.7 76.8L153.5 75.9L153.4 75.1L153.2 74.4L152.8 73.1L152.4 72.2L152.0 71.6L151.4 71.4L150.6 71.9L150.1 72.6L149.6 73.8L149.3 74.4L149.0 75.2L148.7 76.0L148.4 76.9L148.1 77.9L147.8 79.0L147.5 80.1L147.2 81.4L146.8 82.6L146.5 84.0L146.2 85.4M145.8 86.9h0M145.5 88.4h0M145.1 90.0h0M144.8 91.7h0M144.4 93.4h0M144.0 95.1h0M143.6 96.9h0M143.3 98.8h0M142.9 100.7h0M142.5 102.6h0M142.1 104.6h0M141.7 106.5h0M141.2 108.6h0M140.8 110.6h0M140.4 112.7h0M140.0 114.8h0M139.5 116.9h0M139.1 119.0h0M138.6 121.2h0M138.2 123.3h0M137.7 125.5h0M137.3 127.7h0M136.8 129.9h0M136.3 132.0h0M135.8 134.2h0M135.3 136.4h0M134.8 138.5h0M134.3 140.7h0M133.8 142.9h0M133.3 145.0h0M132.8 147.1h0M132.3 149.2h0M131.8 151.3h0M131.2 153.4h0M130.7 155.5h0M130.1 157.5h0M129.6 159.5h0M129.0 161.5h0M128.5 163.5h0M127.9 165.4h0M127.3 167.3h0M126.7 169.2h0M126.1 171.1h0M125.5 172.9h0M125.0 174.7h0M124.3 176.5h0M123.7 178.3h0M123.1 180.0h0M122.5 181.7h0M121.9 183.4h0M121.3 185.0h0M120.6 186.6h0M120.0 188.2h0M119.3 189.7h0M118.7 191.2h0M118.0 192.7h0M117.4 194.2h0M116.7 195.6h0M116.0 197.0h0M115.4 198.4h0M114.7 199.7h0L114.0 201.0L113.3 202.3L112.6 203.6L111.9 204.8L111.2 206.0L110.5 207.2L109.8 208.3L109.1 209.5L108.4 210.6L107.7 211.7L106.9 212.7L106.2 213.8L105.5 214.8L104.8 215.8L104.0 216.7L103.3 217.7L102.5 218.6L101.8 219.5L101.1 220.4L100.3 221.3L99.6 222.2L98.8 223.0L98.1 223.8L97.3 224.7L96.5 225.5L95.8 226.2L95.0 227.0L94.3 227.8L93.5 228.5L92.7 229.2L92.0 229.9L91.2 230.6L90.4 231.3L89.6 232.0L88.9 232.7L88.1 233.3L87.3 234.0L86.6 234.6L85.8 235.2L85.0 235.8L84.3 236.4L83.5 237.0L82.7 237.6L82.0 238.2L81.2 238.8L80.4 239.4L79.7 239.9L78.9 240.5L78.1 241.0L77.4 241.5L76.6 242.1L75.9 242.6L75.1 243.1L74.3 243.6L73.6 244.1L72.8 244.6L72.1 245.1L71.4 245.6L70.6 246.1L69.9 246.6L69.2 247.0L68.4 247.5L67.7 248.0L67.0 248.4L66.3 248.9L65.5 249.3L64.8 249.8L64.1 250.2L63.4 250.6L62.7 251.0L62.0 251.5L61.4 251.9L60.7 252.3L60.0 252.7L59.3 253.1L58.7 253.5L58.0 253.9L57.4 254.3L56.7 254.6L56.1 255.0L55.4 255.4L54.8 255.8L54.2 256.1L53.6 256.5L53.0 256.8L51.8 257.5L50.6 258.2L49.5 258.9L48.4 259.5L47.3 260.1L46.3 260.7L45.3 261.3L44.3 261.8L43.4 262.3L42.5 262.8L41.6 263.3L40.8 263.8L40.0 264.2L39.3 264.6L38.5 265.0L37.9 265.4L37.3 265.7L36.4 266.2L35.7 266.6L35.0 267.0L34.3 267.4L33.6 267.8L34.4 267.4L35.1 267.0L35.8 266.6L36.5 266.2L37.4 265.8L38.3 265.3L39.0 264.9L39.7 264.5L40.4 264.1L41.2 263.7L42.0 263.2L42.9 262.8L43.7 262.3L44.7 261.8L45.6 261.3L46.6 260.7L47.6 260.2L48.6 259.6L49.7 259.0L50.8 258.4L51.9 257.8L53.1 257.2L54.3 256.5L55.5 255.9L56.7 255.2L57.3 254.9L57.9 254.5L58.6 254.2L59.2 253.8L59.9 253.5L60.5 253.1L61.2 252.7L61.8 252.4L62.5 252.0L63.2 251.6L63.8 251.3L64.5 250.9L65.2 250.5L65.9 250.1L66.6 249.7L67.3 249.4L68.0 249.0L68.7 248.6L69.4 248.2L70.1 247.8L70.9 247.4L71.6 247.0L72.3 246.6L73.0 246.2L73.8 245.8L74.5 245.4L75.3 244.9L76.0 244.5L76.8 244.1L77.5 243.7L78.3 243.3L79.0 242.8L79.8 242.4L80.5 242.0L81.3 241.6L82.1 241.1L82.8 240.7L83.6 240.3L84.4 239.8L85.1 239.4L85.9 238.9L86.7 238.5L87.5 238.0L88.2 237.6L89.0 237.2L89.8 236.7L90.6 236.3L91.4 235.8L92.1 235.3L92.9 234.9L93.7 234.4L94.5 234.0L95.3 233.5L96.1 233.0L96.8 232.6L97.6 232.1L98.4 231.6L99.2 231.2L100.0 230.7L100.7 230.2L101.5 229.7L102.3 229.3L103.1 228.8L103.9 228.3L104.6 227.8L105.4 227.3L106.2 226.8L106.9 226.3L107.7 225.8L108.5 225.3L109.2 224.8L110.0 224.3L110.8 223.8" stroke="#008000" stroke-width="2.20" fill="none" stroke-linecap="round" stroke-linejoin="round"/>
<path d="M98.9 230.0h0L97.9 230.6L96.9 231.3L95.9 232.0L94.9 232.6L93.9 233.3L93.0 233.9L92.0 234.6L91.0 235.2L90.0 235.8L89.0 236.4L88.1 237.0L87.1 237.6L86.1 238.2L85.2 238.8L84.2 239.4L83.3 240.0L82.3 240.6L81.4 241.1L80.4 241.7L79.5 242.3L78.6 242.8L77.6 243.4L76.7 243.9L75.8 244.4L74.9 245.0L74.0 245.5L73.1 246.0L72.2 246.5L71.4 247.0L70.5 247.5L69.6 248.0L68.8 248.5L67.9 249.0L67.1 249.5L66.2 249.9L65.4 250.4L64.6 250.9L63.8 251.3L63.0 251.8L62.2 252.2L61.4 252.7L60.6 253.1L59.9 253.5L59.1 253.9L58.4 254.4L57.6 254.8L56.9 255.2L56.2 255.6L55.5 256.0L54.8 256.4L54.1 256.7L53.4 257.1L52.7 257.5L52.1 257.9L51.4 258.2L50.8 258.6L50.2 258.9L49.6 259.3L48.4 259.9L47.2 260.6L46.1 261.2L45.0 261.8L44.0 262.4L43.0 262.9L42.0 263.4L41.1 263.9L40.3 264.4L39.4 264.8L38.7 265.3L37.9 265.7L37.2 266.0L36.6 266.4L35.7 266.9L34.9 267.3L34.2 267.7L33.5 268.1L32.7 268.5L32.1 268.8L32.8 268.5L33.5 268.1L34.3 267.6L35.0 267.3L35.9 266.8L36.8 266.3L37.5 265.9L38.2 265.5L38.9 265.1L39.8 264.7L40.6 264.2L41.5 263.7L42.5 263.2L43.5 262.7L44.5 262.1L45.6 261.5L46.8 260.9L48.0 260.2L49.2 259.5L49.8 259.2L50.5 258.8L51.2 258.5L51.8 258.1L52.5 257.7L53.2 257.4L53.9 257.0L54.6 256.6L55.4 256.2L56.1 255.8L56.8 255.4L57.6 255.0L58.4 254.5L59.2 254.1L60.0 253.7L60.8 253.2L61.6 252.8L62.4 252.3L63.2 251.9L64.1 251.4L64.9 251.0L65.8 250.5L66.7 250.0L67.6 249.5L68.5 249.0L69.4 248.5L70.3 248.0L71.2 247.5L72.1 247.0L73.1 246.5L74.0 246.0L75.0 245.5L75.9 245.0L76.9 244.4L77.9 243.9L78.9 243.3L79.8 242.8L80.8 242.3L81.8 241.7L82.9 241.1L83.9 240.6L84.9 240.0L85.9 239.5L87.0 238.9L88.0 238.3L89.0 237.7L90.1 237.2L91.2 236.6L92.2 236.0L93.3 235.4L94.3 234.8L95.4 234.2L96.5 233.6L97.6 233.1L98.6 232.5L99.7 231.9L100.8 231.3L101.9 230.7L103.0 230.0L104.1 229.4L105.1 228.8L106.2 228.2L107.3 227.6L108.4 227.0L109.5 226.4L110.6 225.8L111.7 225.2L112.8 224.6L113.8 223.9L114.9 223.3L116.0 222.7L117.1 222.1L118.2 221.5L119.2 220.9L120.3 220.3L121.4 219.6L122.4 219.0L123.5 218.4L124.6 217.8L125.6 217.2L126.7 216.6L127.7 215.9L128.7 215.3L129.8 214.7L130.8 214.1L131.8 213.5L132.8 212.9L133.8 212.2L134.8 211.6L135.8 211.0L136.8 210.4L137.8 209.8L138.8 209.1L139.7 208.5L140.7 207.9L141.6 207.3L142.6 206.6L143.5 206.0L144.4 205.4L145.3 204.7L146.2 204.1L147.1 203.5L148.0 202.8L148.9 202.2L149.8 201.5L150.6 200.9L151.5 200.2L152.3 199.5L153.1 198.9L153.9 198.2L154.7 197.5L155.5 196.8L156.3 196.1L157.1 195.4L157.8 194.7L158.6 193.9L159.3 193.2L160.0 192.5L160.7 191.7L161.4 190.9L162.1 190.1L162.8 189.3L163.5 188.5L164.1 187.7L164.8 186.8L165.4 186.0L166.0 185.1L166.6 184.2L167.2 183.3L167.8 182.4L168.4 181.4L168.9 180.4L169.5 179.4L170.0 178.4L170.5 177.4L171.0 176.3L171.5 175.2L172.0 174.1L172.4 172.9L172.9 171.7L173.3 170.5L173.8 169.3L174.2 168.0L174.6 166.7L175.0 165.4L175.4 164.0L175.7 162.6L176.1 161.2M176.4 159.7h0M176.8 158.2h0M177.1 156.7h0M177.4 155.1h0M177.7 153.5h0M178.0 151.9h0M178.3 150.2h0M178.5 148.6h0M178.8 146.8h0M179.0 145.1h0M179.2 143.3h0M179.4 141.4h0M179.7 139.6h0M179.8 137.7h0M180.0 135.7h0M180.2 133.8h0M180.4 131.8h0M180.5 129.8h0M180.6 127.8h0M180.8 125.7h0M180.9 123.6h0M181.0 121.5h0M181.1 119.4h0M181.2 117.3h0M181.2 115.1h0M181.3 113.0h0M181.4 110.8h0M181.4 108.6h0M181.4 106.5h0M181.5 104.3h0M181.5 102.1h0M181.5 99.9h0M181.5 97.8h0M181.5 95.6h0M181.4 93.5h0M181.4 91.4h0M181.4 89.3h0M181.3 87.2h0M181.3 85.2h0M181.2 83.2h0M181.1 81.2h0M181.0 79.3h0M180.9 77.4h0M180.8 75.6h0M180.7 73.8h0M180.6 72.1h0M180.5 70.4h0M180.4 68.8h0M180.2 67.3h0L180.1 65.9L179.9 64.5L179.8 63.2L179.6 61.9L179.4 60.8L179.3 59.7L179.1 58.8L178.9 57.9L178.7 57.1L178.5 56.4L178.0 55.3L177.6 54.6L176.8 54.4L176.1 55.1L175.5 56.0L175.2 56.7L174.9 57.4L174.6 58.3L174.3 59.2L174.0 60.2L173.7 61.4L173.3 62.6L173.0 63.9L172.6 65.3M172.3 66.8h0M171.9 68.3h0M171.6 70.0h0M171.2 71.7h0M170.8 73.5h0M170.5 75.3h0M170.1 77.3h0M169.7 79.2h0M169.3 81.3h0M168.9 83.4h0M168.4 85.5h0M168.0 87.7h0M167.6 89.9h0M167.1 92.2h0M166.7 94.5h0M166.2 96.8h0M165.8 99.2h0M165.3 101.5h0M164.8 103.9h0M164.3 106.4h0M163.8 108.8h0M163.3 111.2h0M162.8 113.7h0M162.3 116.1h0M161.8 118.6h0M161.2 121.0h0M160.7 123.4h0M160.1 125.9h0M159.5 128.3h0M159.0 130.7h0M158.4 133.1h0M157.8 135.5h0M157.2 137.8h0M156.6 140.1h0M156.0 142.4h0M155.3 144.7h0M154.7 147.0h0M154.1 149.2h0M153.4 151.4h0M152.7 153.6h0M152.1 155.7h0M151.4 157.8h0M150.7 159.8h0M150.0 161.9h0M149.3 163.9h0M148.6 165.8h0M147.9 167.8h0M147.1 169.7h0M146.4 171.5h0M145.6 173.3h0M144.9 175.1h0M144.1 176.9h0M143.3 178.6h0M142.5 180.2h0M141.7 181.9h0M140.9 183.5h0M140.1 185.1h0M139.3 186.6h0M138.5 188.1h0M137.6 189.6h0M136.8 191.0h0M136.0 192.4h0M135.1 193.8h0M134.2 195.1h0M133.4 196.5h0M132.5 197.7h0M131.6 199.0h0M130.7 200.2h0M129.8 201.4h0L128.9 202.6L128.0 203.8L127.1 204.9L126.2 206.0L125.2 207.1L124.3 208.1L123.4 209.2L122.4 210.2L121.5 211.2L120.5 212.2L119.6 213.1L118.6 214.1L117.6 215.0L116.7 215.9L115.7 216.8L114.7 217.7L113.8 218.5L112.8 219.4L111.8 220.2L110.8 221.0L109.8 221.8L108.8 222.6L107.8 223.4L106.9 224.2L105.9 224.9L104.9 225.7L103.9 226.4L102.9 227.1L101.9 227.9L100.9 228.6L99.9 229.3L98.9 230.0" stroke="#0000ff" stroke-width="2.20" fill="none" stroke-linecap="round" stroke-linejoin="round"/>
<path d="M25.7 272.6h0L26.4 272.2L27.2 271.8L28.0 271.4L28.8 270.9L29.6 270.5L30.3 270.1L31.1 269.7L31.9 269.2L32.7 268.8L33.4 268.4L34.2 268.0L35.0 267.5L35.8 267.1L36.6 266.7L37.3 266.3L38.1 265.9L38.9 265.4L39.7 265.0L40.4 264.6L41.2 264.2L42.0 263.7L42.7 263.3L43.5 262.9L44.3 262.5L45.1 262.1L45.8 261.6L46.6 261.2L47.4 260.8L48.1 260.4L48.9 260.0L49.7 259.5L50.4 259.1L51.2 258.7L52.0 258.3L52.7 257.9L53.5 257.5L54.3 257.0L55.0 256.6L55.8 256.2L56.6 255.8L57.3 255.4L58.1 255.0L58.8 254.5L59.6 254.1L60.4 253.7L61.1 253.3L61.9 252.9L62.7 252.5L63.4 252.0L64.2 251.6L64.9 251.2L65.7 250.8L66.4 250.4L67.2 250.0L68.0 249.5L68.7 249.1L69.5 248.7L70.2 248.3L71.0 247.9L71.7 247.5L72.5 247.1L73.2 246.6L74.0 246.2L74.7 245.8L75.5 245.4L76.2 245.0L77.0 244.6L77.7 244.1L78.5 243.7L79.2 243.3L80.0 242.9L80.7 242.5L81.5 242.1L82.2 241.7L83.0 241.2L83.7 240.8L84.5 240.4L85.2 240.0L86.0 239.6L86.7 239.2L87.5 238.7L88.2 238.3L88.9 237.9L89.7 237.5L90.4 237.1L91.2 236.6L91.9 236.2L92.7 235.8L93.4 235.4L94.1 235.0L94.9 234.5L95.6 234.1L96.4 233.7L97.1 233.3L97.8 232.8L98.6 232.4L99.3 232.0L100.0 231.6L100.8 231.1L101.5 230.7L102.2 230.3L103.0 229.8L103.7 229.4L104.4 229.0L105.2 228.5L105.9 228.1L106.6 227.7L107.4 227.2L108.1 226.8L108.8 226.3L109.6 225.9L110.3 225.4L111.0 225.0L111.7 224.5L112.5 224.1L113.2 223.6L113.9 223.1L114.7 222.7L115.4 222.2L116.1 221.7L116.8 221.2L117.6 220.8L118.3 220.3L119.0 219.8L119.7 219.3L120.4 218.8L121.2 218.3L121.9 217.8L122.6 217.3L123.3 216.8L124.0 216.2L124.8 215.7L125.5 215.2L126.2 214.6L126.9 214.1L127.6 213.5L128.3 212.9L129.1 212.4L129.8 211.8L130.5 211.2L131.2 210.6L131.9 210.0L132.6 209.4L133.3 208.7L134.0 208.1L134.7 207.4L135.5 206.7L136.2 206.1L136.9 205.4L137.6 204.6L138.3 203.9L139.0 203.2L139.7 202.4L140.4 201.6L141.1 200.8L141.8 200.0L142.5 199.1L143.2 198.3L143.9 197.4L144.6 196.5L145.3 195.5L146.0 194.6L146.7 193.6L147.4 192.5L148.0 191.5L148.7 190.4L149.4 189.3L150.1 188.1L150.8 186.9L151.1 186.3L151.5 185.7L151.8 185.0L152.2 184.4L152.5 183.7L152.9 183.1L153.2 182.4L153.5 181.7L153.9 181.0L154.2 180.3L154.6 179.5L154.9 178.8L155.2 178.0L155.6 177.3L155.9 176.5L156.3 175.7L156.6 174.9L156.9 174.0L157.3 173.2L157.6 172.3L157.9 171.5L158.3 170.6L158.6 169.7L158.9 168.7L159.3 167.8L159.6 166.8L159.9 165.8L160.3 164.8L160.6 163.8L160.9 162.8L161.3 161.7L161.6 160.6L161.9 159.5L162.3 158.4L162.6 157.2L162.9 156.1L163.3 154.9L163.6 153.6L163.9 152.4L164.2 151.1L164.6 149.8L164.9 148.5L165.2 147.1L165.5 145.7L165.9 144.3L166.2 142.9M166.5 141.4h0M166.8 139.9h0M167.2 138.3h0M167.5 136.8h0M167.8 135.2h0M168.1 133.5h0M168.4 131.8h0M168.8 130.1h0M169.1 128.4h0M169.4 126.6h0M169.7 124.7h0M170.0 122.9h0M170.3 121.0h0M170.7 119.0h0M171.0 117.0h0M171.3 115.0h0M171.6 112.9h0M171.9 110.7h0M172.2 108.5h0M172.5 106.3h0M172.8 104.0h0M173.1 101.7h0M173.5 99.3h0M173.8 96.8h0M174.1 94.3h0M174.4 91.8h0M174.7 89.1h0M175.0 86.5h0M175.3 83.7h0M175.6 80.9h0M175.9 78.0h0M176.2 75.1h0M176.5 72.1h0M176.8 69.0h0M177.1 65.8h0M177.4 62.6h0M177.7 59.3h0M178.0 55.9h0M178.2 52.5h0M178.5 48.9h0M178.8 45.3h0M179.1 41.6h0M179.4 37.8h0M179.7 33.9h0M180.0 29.9h0M180.3 25.8h0M180.5 21.6h0" stroke="#783bf2" stroke-width="2.20" fill="none" stroke-linecap="round" stroke-linejoin="round"/>
<path d="M25.6 272.6h0L26.4 272.2L27.2 271.8L28.0 271.3L28.8 270.9L29.6 270.5L30.3 270.1L31.1 269.6L31.9 269.2L32.7 268.8L33.4 268.4L34.2 267.9L35.0 267.5L35.8 267.1L36.6 266.7L37.3 266.2L38.1 265.8L38.9 265.4L39.7 265.0L40.4 264.5L41.2 264.1L42.0 263.7L42.7 263.3L43.5 262.8L44.3 262.4L45.1 262.0L45.8 261.6L46.6 261.1L47.4 260.7L48.1 260.3L48.9 259.9L49.7 259.5L50.4 259.0L51.2 258.6L52.0 258.2L52.7 257.8L53.5 257.3L54.3 256.9L55.0 256.5L55.8 256.1L56.6 255.6L57.3 255.2L58.1 254.8L58.8 254.4L59.6 253.9L60.4 253.5L61.1 253.1L61.9 252.7L62.6 252.2L63.4 251.8L64.2 251.4L64.9 251.0L65.7 250.5L66.4 250.1L67.2 249.7L67.9 249.2L68.7 248.8L69.4 248.4L70.2 248.0L71.0 247.5L71.7 247.1L72.5 246.7L73.2 246.2L74.0 245.8L74.7 245.3L75.5 244.9L76.2 244.5L77.0 244.0L77.7 243.6L78.5 243.1L79.2 242.7L80.0 242.3L80.7 241.8L81.5 241.4L82.2 240.9L82.9 240.5L83.7 240.0L84.4 239.5L85.2 239.1L85.9 238.6L86.7 238.2L87.4 237.7L88.2 237.2L88.9 236.8L89.6 236.3L90.4 235.8L91.1 235.3L91.9 234.8L92.6 234.4L93.3 233.9L94.1 233.4L94.8 232.9L95.5 232.4L96.3 231.8L97.0 231.3L97.7 230.8L98.5 230.3L99.2 229.7L99.9 229.2L100.7 228.7L101.4 228.1L102.1 227.6L102.9 227.0L103.6 226.4L104.3 225.8L105.0 225.2L105.8 224.6L106.5 224.0L107.2 223.4L107.9 222.8L108.7 222.1L109.4 221.5L110.1 220.8L110.8 220.1L111.6 219.4L112.3 218.7L113.0 218.0L113.7 217.3L114.4 216.5L115.1 215.7L115.8 214.9L116.6 214.1L117.3 213.3L118.0 212.5L118.7 211.6L119.4 210.7L120.1 209.8L120.8 208.8L121.5 207.8L122.2 206.8L122.9 205.8L123.6 204.7L124.3 203.6L125.0 202.5L125.7 201.3L126.4 200.1L126.8 199.5L127.1 198.9L127.5 198.2L127.8 197.6L128.2 196.9L128.5 196.3L128.9 195.6L129.2 194.9L129.5 194.2L129.9 193.5L130.2 192.7L130.6 192.0L130.9 191.2L131.3 190.4L131.6 189.7L131.9 188.9L132.3 188.0L132.6 187.2L133.0 186.4L133.3 185.5L133.6 184.6L134.0 183.7L134.3 182.8L134.6 181.9L135.0 180.9L135.3 180.0L135.7 179.0L136.0 178.0L136.3 177.0L136.7 175.9L137.0 174.8L137.3 173.8L137.7 172.6L138.0 171.5L138.3 170.4L138.6 169.2L139.0 168.0L139.3 166.8L139.6 165.5L140.0 164.2L140.3 162.9L140.6 161.6L140.9 160.2L141.3 158.8L141.6 157.4L141.9 156.0M142.2 154.5h0M142.6 153.0h0M142.9 151.4h0M143.2 149.9h0M143.5 148.3h0M143.8 146.6h0M144.1 144.9h0M144.5 143.2h0M144.8 141.5h0M145.1 139.7h0M145.4 137.8h0M145.7 136.0h0M146.0 134.0h0M146.3 132.1h0M146.6 130.1h0M147.0 128.0h0M147.3 125.9h0M147.6 123.8h0M147.9 121.6h0M148.2 119.4h0M148.5 117.1h0M148.8 114.7h0M149.1 112.3h0M149.4 109.9h0M149.7 107.4h0M150.0 104.8h0M150.3 102.2h0M150.6 99.5h0M150.9 96.8h0M151.2 94.0h0M151.4 91.1h0M151.7 88.1h0M152.0 85.1h0M152.3 82.1h0M152.6 78.9h0M152.9 75.7h0M153.2 72.4h0M153.4 69.0h0M153.7 65.5h0M154.0 62.0h0M154.3 58.3h0M154.5 54.6h0M154.8 50.8h0M155.1 46.9h0M155.3 42.9h0M155.6 38.8h0M155.9 34.6h0" stroke="#b05c0a" stroke-width="2.20" fill="none" stroke-linecap="round" stroke-linejoin="round"/>
<path d="M99.7 248.5L99.2 249.2L98.8 249.8L98.4 250.5L97.9 251.1L97.5 251.8" stroke="#0000ff" stroke-width="2.20" fill="none" stroke-linejoin="round" stroke-linecap="butt" stroke-opacity="0.75"/>
<path d="M97.5 251.8L97.1 252.4L96.6 253.1L96.2 253.7L95.8 254.4L95.4 255.0L94.9 255.7L94.5 256.3L94.1 257.0L93.7 257.6L93.3 258.3L92.9 258.9" stroke="#0000ff" stroke-width="2.20" fill="none" stroke-linejoin="round" stroke-linecap="butt" stroke-opacity="0.83"/>
<path d="M92.9 258.9L92.5 259.5L92.1 260.2L91.8 260.8L91.4 261.4L91.0 262.1L90.7 262.7L90.3 263.3L90.0 263.9L89.6 264.5L89.3 265.1L89.0 265.7L88.6 266.3L88.3 266.9L88.0 267.5L87.7 268.1L87.4 268.7" stroke="#0000ff" stroke-width="2.20" fill="none" stroke-linejoin="round" stroke-linecap="butt" stroke-opacity="0.92"/>
<path d="M87.4 268.7L87.1 269.3L86.9 269.9L86.6 270.4L86.3 271.0L86.1 271.6L85.8 272.1L85.6 272.7L85.4 273.2L85.2 273.8L85.0 274.3L84.8 274.9L84.6 275.4L84.4 275.9L84.2 276.5L84.1 277.0L83.9 277.5L83.8 278.0L83.7 278.5L83.5 279.0L83.4 279.5L83.3 280.0L83.3 280.4L83.2 280.9L83.1 281.4L83.1 281.9L83.0 282.3L83.0 282.8L82.9 283.2L82.9 283.7L82.9 284.1L82.9 284.5L82.9 284.9L83.0 285.4L83.0 285.8L83.1 286.2L83.1 286.6L83.2 287.0L83.3 287.4L83.4 287.8L83.5 288.1L83.6 288.5L83.7 288.9L83.9 289.2L84.0 289.6L84.2 289.9L84.3 290.3L84.5 290.6L84.7 290.9L84.9 291.3L85.1 291.6L85.3 291.9L85.6 292.2L85.8 292.5L86.1 292.8L86.3 293.1L86.6 293.4L86.9 293.6L87.2 293.9L87.5 294.2L87.8 294.4L88.2 294.7L88.5 294.9L88.9 295.2L89.2 295.4L89.6 295.6L90.0 295.9L90.4 296.1L90.8 296.3L91.2 296.5L91.7 296.7L92.1 296.9L92.5 297.1L93.0 297.2L93.5 297.4L94.0 297.6L94.4 297.7L95.0 297.9L95.5 298.1L96.0 298.2L96.5 298.3L97.1 298.5L97.6 298.6L98.2 298.7L98.8 298.8L99.4 298.9L100.0 299.1L100.6 299.1L101.2 299.2L101.8 299.3L102.5 299.4L103.1 299.5L103.8 299.5L104.5 299.6L105.1 299.7L105.8 299.7L106.6 299.7L107.3 299.8L108.0 299.8L108.7 299.8L109.5 299.8L110.3 299.9L111.0 299.9L111.8 299.9L112.6 299.9L113.4 299.8L114.2 299.8L115.1 299.8L115.9 299.8L116.8 299.7L117.6 299.7L118.5 299.6L119.4 299.6L120.3 299.5L121.2 299.4L122.1 299.3L123.0 299.2L124.0 299.2L124.9 299.1L125.9 298.9L126.9 298.8L127.8 298.7L128.8 298.6L129.9 298.5L130.9 298.3L131.9 298.2L133.0 298.0L134.0 297.9L135.1 297.7L136.2 297.5L137.2 297.3L138.3 297.1L139.5 297.0L140.6 296.8L141.7 296.5L142.9 296.3L144.0 296.1L145.2 295.9L146.4 295.6L147.6 295.4L148.8 295.2L150.0 294.9L151.2 294.6L152.5 294.4L153.7 294.1L155.0 293.8L156.2 293.5L157.5 293.2L158.8 292.9L160.1 292.6L161.4 292.3" stroke="#0000ff" stroke-width="2.20" fill="none" stroke-linejoin="round" stroke-linecap="butt"/>
<path d="M161.4 292.3L162.7 292.0L164.1 291.7L165.4 291.3L166.8 291.0L168.1 290.7L169.5 290.3L170.9 290.0L172.3 289.6L173.7 289.2L175.1 288.9L176.5 288.5L177.9 288.1L179.4 287.7L180.8 287.3L182.3 286.9L183.7 286.5L185.2 286.1L186.7 285.7L188.2 285.3L189.7 284.8L191.2 284.4L192.7 284.0" stroke="#0000ff" stroke-width="2.20" fill="none" stroke-linejoin="round" stroke-linecap="butt" stroke-opacity="0.92"/>
<path d="M192.7 284.0L194.2 283.5L195.7 283.1L197.3 282.6L198.8 282.2L200.3 281.7L201.9 281.3L203.4 280.8L205.0 280.4L206.6 279.9L208.1 279.4L209.7 278.9L211.3 278.5L212.9 278.0L214.5 277.5L216.1 277.0L217.7 276.5" stroke="#0000ff" stroke-width="2.20" fill="none" stroke-linejoin="round" stroke-linecap="butt" stroke-opacity="0.83"/>
<path d="M217.7 276.5L219.3 276.0L220.9 275.5L222.5 275.0L224.1 274.5L225.7 274.0L227.3 273.5L228.9 273.0L230.5 272.5L232.1 272.0L233.7 271.5L235.4 271.0L237.0 270.5L238.6 270.0L240.2 269.5L241.8 269.0L243.5 268.5" stroke="#0000ff" stroke-width="2.20" fill="none" stroke-linejoin="round" stroke-linecap="butt" stroke-opacity="0.75"/>
<path d="M243.5 268.5L245.1 268.0L246.7 267.5L248.3 267.0L249.9 266.5L251.5 266.0L253.1 265.5L254.7 265.0L256.3 264.5L257.9 264.0L259.5 263.5L261.1 263.0L262.7 262.5L264.3 262.0L265.9 261.5L267.4 261.0L269.0 260.5L270.6 260.0L272.1 259.6L273.7 259.1" stroke="#0000ff" stroke-width="2.20" fill="none" stroke-linejoin="round" stroke-linecap="butt" stroke-opacity="0.67"/>
<path d="M273.7 259.1L275.2 258.6L276.8 258.2L278.3 257.7L279.8 257.2L281.3 256.8L282.9 256.3L284.4 255.9L285.9 255.4L287.4 255.0L288.8 254.5L290.3 254.1L291.8 253.7L293.2 253.3L294.7 252.8L296.1 252.4L297.6 252.0L299.0 251.6L300.4 251.2L301.8 250.8L303.2 250.4L304.6 250.0L306.0 249.7L307.4 249.3L308.7 248.9L310.1 248.6L311.4 248.2L312.7 247.9L314.0 247.5L315.4 247.2L316.6 246.9L317.9 246.5L319.2 246.2L320.5 245.9L321.7 245.6L323.0 245.3L324.2 245.0L325.4 244.7L326.6 244.5L327.8 244.2L329.0 243.9L330.2 243.7L331.3 243.4L332.5 243.2L333.6 242.9L334.8 242.7L335.9 242.5L337.0 242.3L338.1 242.1L339.2 241.9L340.2 241.7L341.3 241.5L342.4 241.3L343.4 241.1L344.4 240.9L345.4 240.8L346.4 240.6L347.4 240.5L348.4 240.3L349.4 240.2L350.4 240.1L351.3 239.9L352.2 239.8L353.2 239.7L354.1 239.6L355.0 239.5L355.9 239.4L356.8 239.3L357.6 239.3L358.5 239.2L359.4 239.1L360.2 239.1L361.0 239.0L361.9 239.0L362.7 238.9L363.5 238.9" stroke="#0000ff" stroke-width="2.20" fill="none" stroke-linejoin="round" stroke-linecap="butt" stroke-opacity="0.58"/>
<path d="M363.5 238.9L364.3 238.9L365.0 238.8L365.8 238.8L366.6 238.8L367.3 238.8L368.1 238.8L368.8 238.8L369.5 238.8L370.2 238.9L370.9 238.9L371.6 238.9L372.3 239.0L373.0 239.0L373.6 239.1L374.3 239.1L374.9 239.2L375.6 239.2" stroke="#0000ff" stroke-width="2.20" fill="none" stroke-linejoin="round" stroke-linecap="butt" stroke-opacity="0.67"/>
<path d="M375.6 239.2L376.2 239.3L376.8 239.4L377.5 239.5L378.1 239.6L378.7 239.6L379.2 239.7L379.8 239.9L380.4 240.0L381.0 240.1L381.5 240.2L382.1 240.3L382.6 240.4L383.1 240.6L383.6 240.7" stroke="#0000ff" stroke-width="2.20" fill="none" stroke-linejoin="round" stroke-linecap="butt" stroke-opacity="0.75"/>
<path d="M383.6 240.7L384.2 240.9L384.7 241.0L385.2 241.2L385.7 241.3L386.1 241.5L386.6 241.7L387.1 241.8L387.5 242.0L388.0 242.2L388.4 242.4L388.9 242.6L389.3 242.8L389.7 243.0L390.1 243.2L390.6 243.4L391.0 243.6" stroke="#0000ff" stroke-width="2.20" fill="none" stroke-linejoin="round" stroke-linecap="butt" stroke-opacity="0.83"/>
<path d="M391.0 243.6L391.3 243.8L391.7 244.1L392.1 244.3L392.5 244.5L392.8 244.8L393.2 245.0L393.5 245.3L393.9 245.5L394.2 245.8L394.5 246.1L394.9 246.3L395.2 246.6L395.5 246.9L395.8 247.2L396.1 247.5L396.3 247.7L396.6 248.0L396.9 248.4L397.1 248.7L397.4 249.0L397.6 249.3L397.9 249.6L398.1 249.9L398.3 250.3L398.5 250.6L398.8 251.0L399.0 251.3L399.1 251.7L399.3 252.0L399.5 252.4L399.7 252.8" stroke="#0000ff" stroke-width="2.20" fill="none" stroke-linejoin="round" stroke-linecap="butt" stroke-opacity="0.92"/>
<path d="M399.7 252.8L399.8 253.1L400.0 253.5L400.1 253.9L400.3 254.3L400.4 254.7L400.5 255.1L400.6 255.5L400.7 255.9L400.8 256.3L400.9 256.7L401.0 257.2L401.1 257.6L401.2 258.0L401.2 258.5L401.3 258.9L401.3 259.4L401.3 259.8L401.4 260.3L401.4 260.8L401.4 261.2L401.4 261.7L401.4 262.2L401.4 262.7L401.4 263.2L401.3 263.7L401.3 264.2L401.3 264.7L401.2 265.2L401.1 265.7L401.1 266.3L401.0 266.8L400.9 267.3L400.8 267.9L400.7 268.4L400.6 269.0L400.5 269.5L400.4 270.1L400.3 270.7L400.2 271.2L400.0 271.8L399.9 272.4L399.7 273.0L399.6 273.6L399.4 274.2L399.2 274.8L399.0 275.4L398.8 276.0L398.6 276.6L398.4 277.2L398.2 277.8L398.0 278.5L397.8 279.1L397.6 279.7L397.4 280.4L397.1 281.0L396.9 281.7L396.6 282.3L396.4 283.0L396.1 283.6L395.9 284.3L395.6 285.0L395.3 285.6L395.1 286.3L394.8 287.0L394.5 287.7L394.2 288.4L393.9 289.0L393.6 289.7L393.4 290.4L393.1 291.1L392.8 291.8L392.4 292.5L392.1 293.2L391.8 293.9L391.5 294.6L391.2 295.3L390.9 296.0L390.6 296.7L390.3 297.4L389.9 298.1L389.6 298.9L389.3 299.6L389.0 300.3L388.7 301.0L388.3 301.7L388.0 302.4L387.7 303.2L387.4 303.9L387.1 304.6L386.7 305.3L386.4 306.0" stroke="#0000ff" stroke-width="2.20" fill="none" stroke-linejoin="round" stroke-linecap="butt"/>
<g fill="none" stroke-linecap="round" stroke-linejoin="round"><path d="M98.9 230.0h0L98.5 230.7L98.0 231.5L97.6 232.3L97.1 233.1L96.7 233.8" stroke="#000096" stroke-width="7.5"/><path d="M96.3 234.6h0L95.9 235.3" stroke="#000089" stroke-width="7.5"/><path d="M95.4 236.1h0L95.0 236.8L94.6 237.5L94.2 238.3L93.8 239.0L93.4 239.7L93.0 240.4L92.6 241.1L92.2 241.8L91.8 242.5L91.4 243.1L91.0 243.8L90.6 244.5L90.3 245.2L89.9 245.8L89.6 246.5L89.2 247.1L88.9 247.8L88.5 248.4" stroke="#000089" stroke-width="8.0"/><path d="M88.2 249.0h0L87.9 249.7L87.6 250.3L87.3 250.9" stroke="#000089" stroke-width="8.5"/><path d="M87.0 251.5h0L86.7 252.1L86.4 252.7L86.1 253.3L85.8 253.9L85.6 254.5L85.3 255.1L85.1 255.6L84.8 256.2L84.6 256.8L84.4 257.3L84.2 257.9L84.0 258.4L83.8 259.0L83.6 259.5L83.5 260.0L83.3 260.5L83.2 261.1" stroke="#000080" stroke-width="8.5"/><path d="M83.0 261.6h0L82.9 262.1L82.8 262.6L82.7 263.1L82.5 264.0L82.3 265.0L82.2 265.9L82.2 266.8L82.1 267.7L82.2 268.6L82.2 269.4L82.3 270.2L82.5 271.0L82.7 271.7L82.9 272.5L83.2 273.2L83.6 273.9L83.9 274.5L84.3 275.2L84.8 275.8L85.3 276.4L85.9 277.0L86.5 277.5L87.1 278.0L87.8 278.5L88.5 279.0L88.9 279.2L89.3 279.4L89.6 279.7L90.1 279.9L90.5 280.1L90.9 280.3L91.4 280.5L91.8 280.6L92.3 280.8L92.7 281.0L93.2 281.2L93.7 281.3L94.2 281.5L94.7 281.6L95.3 281.8L95.8 281.9L96.4 282.1L96.9 282.2L97.5 282.3L98.1 282.4L98.7 282.5L99.3 282.6L99.9 282.7L100.5 282.8L101.1 282.9L101.8 283.0L102.4 283.0L103.1 283.1L103.8 283.2L104.5 283.2L105.2 283.3L105.9 283.3L106.6 283.4L107.3 283.4L108.1 283.4L108.8 283.4L109.6 283.4L110.4 283.4L111.2 283.4L112.0 283.4L112.8 283.4L113.6 283.4L114.4 283.4L115.3 283.3L116.1 283.3L117.0 283.2L117.9 283.2L118.8 283.1L119.7 283.1L120.6 283.0L121.5 282.9L122.4 282.8L123.4 282.7L124.3 282.6L125.3 282.5L126.3 282.4L127.3 282.3L128.3 282.2L129.3 282.0L130.3 281.9L131.3 281.7L132.4 281.6L133.5 281.4L134.5 281.3L135.6 281.1L136.7 280.9L137.8 280.7L138.9 280.5L140.1 280.3L141.2 280.1L142.4 279.9L143.5 279.7L144.7 279.5L145.9 279.2L147.1 279.0L148.3 278.8L149.5 278.5L150.7 278.2L152.0 278.0L153.2 277.7L154.5 277.4L155.8 277.1L157.1 276.8" stroke="#000080" stroke-width="9.0"/><path d="M158.4 276.5h0L159.7 276.2L161.0 275.9L162.3 275.6L163.7 275.3L165.0 275.0L166.4 274.6L167.7 274.3L169.1 273.9L170.5 273.6L171.9 273.2L173.3 272.8L174.7 272.5L176.2 272.1L177.6 271.7L179.0 271.3L180.5 270.9L182.0 270.5L183.4 270.1L184.9 269.7L186.4 269.3" stroke="#000080" stroke-width="8.5"/><path d="M187.9 268.9h0L189.4 268.5L190.9 268.0L192.4 267.6L193.9 267.2L195.5 266.7L197.0 266.3L198.5 265.8L200.1 265.4L201.6 264.9L203.2 264.4L204.8 264.0L206.4 263.5L207.9 263.0L209.5 262.6L211.1 262.1L212.7 261.6L214.3 261.1" stroke="#000080" stroke-width="8.0"/><path d="M215.9 260.6h0L217.5 260.1L219.1 259.6L220.7 259.1L222.3 258.6L223.9 258.1L225.5 257.6L227.2 257.1L228.8 256.6L230.4 256.1L232.0 255.6" stroke="#000080" stroke-width="7.5"/><path d="M233.7 255.1h0L235.3 254.5L236.9 254.0L238.5 253.5L240.2 253.0L241.8 252.5L243.4 251.9L245.0 251.4L246.6 250.9" stroke="#000080" stroke-width="7.0"/><path d="M248.3 250.4h0" stroke="#000080" stroke-width="6.5"/><path d="M249.9 249.8h0L251.5 249.3L253.1 248.8L254.7 248.3L256.3 247.7L257.9 247.2L259.5 246.7L261.1 246.1L262.7 245.6L264.3 245.1L265.9 244.6L267.5 244.0L269.1 243.5L270.6 243.0L272.2 242.4L273.8 241.9L275.3 241.4L276.9 240.8L278.4 240.3L279.9 239.8L281.5 239.3L283.0 238.7L284.5 238.2L286.0 237.6L287.5 237.1" stroke="#000089" stroke-width="6.5"/><path d="M289.0 236.6h0L290.5 236.0L292.0 235.5L293.4 234.9L294.9 234.4L296.4 233.8L297.8 233.3L299.2 232.7L300.7 232.2L302.1 231.6" stroke="#000096" stroke-width="6.5"/><path d="M303.5 231.1h0L304.9 230.5L306.3 229.9L307.6 229.3L309.0 228.7L310.4 228.1" stroke="#0000a4" stroke-width="6.5"/><path d="M311.7 227.5h0L313.1 226.9L314.4 226.3L315.7 225.7L317.0 225.1" stroke="#0000ad" stroke-width="6.5"/><path d="M318.3 224.4h0L319.6 223.8L320.9 223.1L322.1 222.4" stroke="#0000bb" stroke-width="6.5"/><path d="M323.4 221.7h0L324.7 221.0L325.9 220.3" stroke="#0000c8" stroke-width="6.5"/><path d="M327.1 219.6h0L328.3 218.8L329.5 218.1" stroke="#0000d1" stroke-width="6.5"/><path d="M330.7 217.3h0L331.9 216.5L333.1 215.7" stroke="#0000df" stroke-width="6.5"/><path d="M334.2 214.9h0L335.4 214.0" stroke="#0000ed" stroke-width="6.5"/><path d="M336.5 213.1h0L337.7 212.2" stroke="#0000f6" stroke-width="6.5"/><path d="M338.8 211.3h0L339.9 210.4" stroke="#0000ff" stroke-width="6.5"/><path d="M341.0 209.4h0L342.1 208.4" stroke="#0000ff" stroke-width="6.5"/><path d="M343.2 207.4h0" stroke="#000cff" stroke-width="6.5"/><path d="M344.2 206.4h0L345.3 205.3" stroke="#0014ff" stroke-width="6.5"/><path d="M346.3 204.2h0" stroke="#0020ff" stroke-width="6.5"/><path d="M347.4 203.1h0L348.4 201.9" stroke="#002cff" stroke-width="6.5"/><path d="M349.4 200.7h0" stroke="#0034ff" stroke-width="6.5"/><path d="M350.4 199.5h0" stroke="#0040ff" stroke-width="6.5"/><path d="M351.4 198.2h0L352.4 196.9" stroke="#004cff" stroke-width="6.5"/><path d="M353.4 195.6h0" stroke="#0054ff" stroke-width="6.5"/><path d="M354.4 194.3h0" stroke="#0060ff" stroke-width="6.5"/><path d="M355.4 192.9h0" stroke="#006cff" stroke-width="6.5"/><path d="M356.3 191.5h0" stroke="#0074ff" stroke-width="6.5"/><path d="M357.2 190.0h0" stroke="#0080ff" stroke-width="6.5"/><path d="M358.2 188.5h0" stroke="#008cff" stroke-width="6.5"/><path d="M359.1 187.0h0" stroke="#0098ff" stroke-width="6.5"/><path d="M360.0 185.4h0" stroke="#00a0ff" stroke-width="6.5"/><path d="M360.9 183.8h0" stroke="#00acff" stroke-width="6.5"/><path d="M361.8 182.2h0" stroke="#00b8ff" stroke-width="6.5"/><path d="M362.7 180.5h0" stroke="#00c0ff" stroke-width="6.5"/><path d="M363.6 178.8h0" stroke="#00d8ff" stroke-width="6.5"/><path d="M364.5 177.1h0" stroke="#00e0fb" stroke-width="6.5"/><path d="M365.3 175.3h0" stroke="#06ecf1" stroke-width="6.5"/><path d="M366.2 173.6h0" stroke="#0ff8e7" stroke-width="6.5"/><path d="M367.0 171.7h0" stroke="#1fffd7" stroke-width="6.5"/><path d="M367.9 169.9h0" stroke="#29ffce" stroke-width="6.5"/><path d="M368.7 168.0h0" stroke="#33ffc4" stroke-width="6.5"/><path d="M369.5 166.1h0" stroke="#39ffbe" stroke-width="6.5"/><path d="M370.4 164.1h0" stroke="#4dffaa" stroke-width="6.5"/><path d="M371.2 162.1h0" stroke="#53ffa4" stroke-width="6.5"/><path d="M372.0 160.2h0" stroke="#66ff90" stroke-width="6.5"/><path d="M372.8 158.1h0" stroke="#6dff8a" stroke-width="6.5"/><path d="M373.5 156.1h0" stroke="#77ff80" stroke-width="6.5"/><path d="M374.3 154.0h0" stroke="#8aff6d" stroke-width="6.5"/><path d="M375.1 152.0h0" stroke="#90ff66" stroke-width="6.5"/><path d="M375.8 149.9h0" stroke="#a4ff53" stroke-width="6.5"/><path d="M376.6 147.8h0" stroke="#aaff4d" stroke-width="6.5"/><path d="M377.3 145.7h0" stroke="#beff39" stroke-width="6.5"/><path d="M378.1 143.6h0" stroke="#c4ff33" stroke-width="6.5"/><path d="M378.8 141.5h0" stroke="#d7ff1f" stroke-width="6.5"/><path d="M379.5 139.3h0" stroke="#deff19" stroke-width="6.5"/><path d="M380.2 137.2h0" stroke="#f1fc06" stroke-width="6.5"/><path d="M380.9 135.1h0" stroke="#fbf100" stroke-width="6.5"/><path d="M381.6 133.0h0" stroke="#ffde00" stroke-width="6.5"/><path d="M382.3 130.9h0" stroke="#ffd300" stroke-width="6.5"/><path d="M383.0 128.9h0" stroke="#ffc100" stroke-width="6.5"/><path d="M383.7 126.8h0" stroke="#ffb600" stroke-width="6.5"/><path d="M384.3 124.8h0" stroke="#ffa300" stroke-width="6.5"/><path d="M385.0 122.8h0" stroke="#ff9800" stroke-width="6.5"/><path d="M385.6 120.8h0" stroke="#ff8600" stroke-width="6.5"/><path d="M386.3 118.9h0" stroke="#ff7a00" stroke-width="6.5"/><path d="M386.9 117.0h0" stroke="#ff6f00" stroke-width="6.5"/><path d="M387.5 115.1h0" stroke="#ff5d00" stroke-width="6.5"/><path d="M388.1 113.3h0" stroke="#ff5200" stroke-width="6.5"/><path d="M388.7 111.5h0" stroke="#ff4a00" stroke-width="6.5"/><path d="M389.3 109.8h0" stroke="#ff3400" stroke-width="6.5"/><path d="M389.9 108.2h0" stroke="#ff2d00" stroke-width="6.5"/><path d="M390.5 106.6h0" stroke="#ff2200" stroke-width="6.5"/><path d="M391.0 105.0h0" stroke="#ff1600" stroke-width="6.5"/><path d="M391.6 103.6h0" stroke="#f60b00" stroke-width="6.5"/><path d="M392.1 102.2h0" stroke="#ed0400" stroke-width="6.5"/><path d="M392.7 100.9h0" stroke="#df0000" stroke-width="6.5"/><path d="M393.2 99.7h0" stroke="#d10000" stroke-width="6.5"/><path d="M393.7 98.5h0" stroke="#c80000" stroke-width="6.5"/><path d="M394.2 97.4h0" stroke="#bb0000" stroke-width="6.5"/><path d="M394.7 96.5h0L395.2 95.6" stroke="#ad0000" stroke-width="6.5"/><path d="M395.6 94.8h0" stroke="#a40000" stroke-width="6.5"/><path d="M396.1 94.1h0L396.5 93.5" stroke="#960000" stroke-width="6.5"/><path d="M397.0 93.0h0L397.4 92.6L397.8 92.3" stroke="#890000" stroke-width="6.5"/><path d="M398.2 92.1h0L399.0 92.0L399.7 92.4L400.0 92.7L400.4 93.2L400.7 93.7" stroke="#800000" stroke-width="6.5"/><path d="M401.0 94.4h0L401.3 95.2L401.6 96.0" stroke="#890000" stroke-width="6.5"/><path d="M401.9 97.0h0L402.1 98.1" stroke="#960000" stroke-width="6.5"/><path d="M402.4 99.2h0" stroke="#a40000" stroke-width="6.5"/><path d="M402.6 100.5h0L402.9 101.9" stroke="#ad0000" stroke-width="6.5"/><path d="M403.1 103.3h0" stroke="#bb0000" stroke-width="6.5"/><path d="M403.3 104.9h0" stroke="#c80000" stroke-width="6.5"/><path d="M403.5 106.5h0" stroke="#d10000" stroke-width="6.5"/><path d="M403.7 108.2h0" stroke="#df0000" stroke-width="6.5"/><path d="M403.8 110.0h0" stroke="#ed0400" stroke-width="6.5"/><path d="M404.0 111.8h0" stroke="#f60b00" stroke-width="6.5"/><path d="M404.2 113.8h0" stroke="#ff1600" stroke-width="6.5"/><path d="M404.3 115.8h0" stroke="#ff2200" stroke-width="6.5"/><path d="M404.4 117.9h0" stroke="#ff2d00" stroke-width="6.5"/><path d="M404.5 120.0h0" stroke="#ff3400" stroke-width="6.5"/><path d="M404.7 122.2h0" stroke="#ff4a00" stroke-width="6.5"/><path d="M404.8 124.5h0" stroke="#ff5200" stroke-width="6.5"/><path d="M404.8 126.8h0" stroke="#ff5d00" stroke-width="6.5"/><path d="M404.9 129.1h0" stroke="#ff6f00" stroke-width="6.5"/><path d="M405.0 131.5h0" stroke="#ff7a00" stroke-width="6.5"/><path d="M405.1 134.0h0" stroke="#ff8600" stroke-width="6.5"/><path d="M405.1 136.4h0" stroke="#ff9800" stroke-width="6.5"/><path d="M405.2 138.9h0" stroke="#ffa300" stroke-width="6.5"/><path d="M405.2 141.5h0" stroke="#ffb600" stroke-width="6.5"/><path d="M405.2 144.0h0" stroke="#ffc100" stroke-width="6.5"/><path d="M405.2 146.6h0" stroke="#ffd300" stroke-width="6.5"/><path d="M405.2 149.2h0" stroke="#ffde00" stroke-width="6.5"/><path d="M405.2 151.8h0" stroke="#fbf100" stroke-width="6.5"/><path d="M405.2 154.4h0" stroke="#f1fc06" stroke-width="6.5"/><path d="M405.2 157.0h0" stroke="#deff19" stroke-width="6.5"/><path d="M405.2 159.7h0" stroke="#d7ff1f" stroke-width="6.5"/><path d="M405.1 162.3h0" stroke="#c4ff33" stroke-width="6.5"/><path d="M405.1 164.9h0" stroke="#beff39" stroke-width="6.5"/><path d="M405.0 167.5h0" stroke="#aaff4d" stroke-width="6.5"/><path d="M405.0 170.1h0" stroke="#a4ff53" stroke-width="6.5"/><path d="M404.9 172.7h0" stroke="#90ff66" stroke-width="6.5"/><path d="M404.9 175.3h0" stroke="#8aff6d" stroke-width="6.5"/><path d="M404.8 177.9h0" stroke="#80ff77" stroke-width="6.5"/><path d="M404.7 180.4h0" stroke="#6dff8a" stroke-width="6.5"/><path d="M404.6 183.0h0" stroke="#66ff90" stroke-width="6.5"/><path d="M404.5 185.5h0" stroke="#53ffa4" stroke-width="6.5"/><path d="M404.4 188.0h0" stroke="#4dffaa" stroke-width="6.5"/><path d="M404.3 190.4h0" stroke="#43ffb4" stroke-width="6.5"/><path d="M404.1 192.9h0" stroke="#33ffc4" stroke-width="6.5"/><path d="M404.0 195.3h0" stroke="#29ffce" stroke-width="6.5"/><path d="M403.9 197.7h0" stroke="#1fffd7" stroke-width="6.5"/><path d="M403.7 200.0h0" stroke="#0ff8e7" stroke-width="6.5"/><path d="M403.6 202.3h0" stroke="#06ecf1" stroke-width="6.5"/><path d="M403.4 204.6h0" stroke="#00e0fb" stroke-width="6.5"/><path d="M403.3 206.8h0" stroke="#00d8ff" stroke-width="6.5"/><path d="M403.1 209.0h0" stroke="#00c0ff" stroke-width="6.5"/><path d="M403.0 211.2h0" stroke="#00b8ff" stroke-width="6.5"/><path d="M402.8 213.4h0" stroke="#00acff" stroke-width="6.5"/><path d="M402.6 215.5h0" stroke="#00a0ff" stroke-width="6.5"/><path d="M402.4 217.5h0" stroke="#0098ff" stroke-width="6.5"/><path d="M402.2 219.6h0" stroke="#008cff" stroke-width="6.5"/><path d="M402.0 221.6h0" stroke="#0080ff" stroke-width="6.5"/><path d="M401.8 223.5h0" stroke="#0074ff" stroke-width="6.5"/><path d="M401.6 225.4h0" stroke="#006cff" stroke-width="6.5"/><path d="M401.4 227.3h0" stroke="#0060ff" stroke-width="6.5"/><path d="M401.2 229.2h0L400.9 231.0" stroke="#0054ff" stroke-width="6.5"/><path d="M400.7 232.8h0" stroke="#004cff" stroke-width="6.5"/><path d="M400.5 234.5h0" stroke="#0040ff" stroke-width="6.5"/><path d="M400.2 236.2h0" stroke="#0034ff" stroke-width="6.5"/><path d="M400.0 237.9h0L399.8 239.6" stroke="#002cff" stroke-width="6.5"/><path d="M399.5 241.2h0" stroke="#0020ff" stroke-width="6.5"/><path d="M399.2 242.8h0L399.0 244.3" stroke="#0014ff" stroke-width="6.5"/><path d="M398.7 245.8h0" stroke="#000cff" stroke-width="6.5"/><path d="M398.4 247.3h0L398.2 248.8" stroke="#0000ff" stroke-width="6.5"/><path d="M397.9 250.2h0L397.6 251.6" stroke="#0000ff" stroke-width="6.5"/><path d="M397.3 253.0h0L397.0 254.3" stroke="#0000f6" stroke-width="6.5"/><path d="M396.8 255.7h0L396.5 257.0" stroke="#0000ed" stroke-width="6.5"/><path d="M396.2 258.3h0L395.9 259.5L395.6 260.7" stroke="#0000df" stroke-width="6.5"/><path d="M395.2 261.9h0L394.9 263.1L394.6 264.3" stroke="#0000d1" stroke-width="6.5"/><path d="M394.3 265.5h0L394.0 266.6L393.7 267.7" stroke="#0000c8" stroke-width="6.5"/><path d="M393.4 268.8h0L393.0 269.9L392.7 270.9L392.4 272.0" stroke="#0000bb" stroke-width="6.5"/><path d="M392.1 273.0h0" stroke="#0000ad" stroke-width="6.5"/><path d="M391.7 274.0h0L391.4 275.0L391.1 276.0L390.7 277.0" stroke="#0000ad" stroke-width="7.0"/><path d="M390.4 277.9h0L390.1 278.9L389.7 279.8L389.4 280.8L389.1 281.7L388.8 282.6" stroke="#0000a4" stroke-width="7.0"/><path d="M388.4 283.5h0L388.1 284.4L387.8 285.2L387.4 286.1L387.1 287.0" stroke="#000096" stroke-width="7.5"/></g>
<path d="M342.0 222.0L476.4 247.5L487.5 63.9L346.3 40.8Z" fill="#0000ff" fill-opacity="0.18"/>
<path d="M111.5 242.0L112.8 241.7L114.1 241.4L115.4 241.1L116.7 240.8L118.0 240.5L119.3 240.2L120.6 239.9L121.9 239.6L123.1 239.3L124.4 239.0L125.7 238.7L127.0 238.4L128.2 238.1L129.5 237.8L130.7 237.5L132.0 237.3L133.3 237.0L134.5 236.7L135.7 236.4L137.0 236.2L138.2 235.9L139.4 235.6L140.7 235.4L141.9 235.1L143.1 234.8L144.3 234.6L145.5 234.3L146.7 234.1L147.9 233.8L149.1 233.6L150.2 233.3L151.4 233.1L152.6 232.9L153.7 232.6L154.9 232.4L156.0 232.2L157.2 232.0L158.3 231.8L159.4 231.5L160.5 231.3L161.6 231.1L162.8 230.9L163.8 230.7L164.9 230.5L166.0 230.3L167.1 230.2L168.2 230.0L169.2 229.8L170.3 229.6L171.3 229.4L172.4 229.3L173.4 229.1L174.4 229.0L175.4 228.8L176.4 228.7L177.4 228.5L178.4 228.4L179.4 228.2L180.4 228.1L181.4 228.0L182.3 227.9L183.3 227.7L184.2 227.6L185.1 227.5L186.1 227.4L187.0 227.3L187.9 227.2L188.8 227.1L189.7 227.1L190.5 227.0L191.4 226.9L192.3 226.8L193.1 226.8L194.0 226.7L194.8 226.7L195.6 226.6L196.5 226.6L197.3 226.5L198.1 226.5" stroke="#008000" stroke-width="2.20" fill="none" stroke-linejoin="round" stroke-linecap="butt" stroke-opacity="0.58"/>
<path d="M198.1 226.5L198.8 226.5L199.6 226.4L200.4 226.4L201.2 226.4L201.9 226.4L202.7 226.4L203.4 226.4L204.1 226.4L204.8 226.4L205.6 226.4L206.3 226.5L206.9 226.5L207.6 226.5L208.3 226.6L209.0 226.6L209.6 226.6L210.3 226.7" stroke="#008000" stroke-width="2.20" fill="none" stroke-linejoin="round" stroke-linecap="butt" stroke-opacity="0.67"/>
<path d="M210.3 226.7L210.9 226.8L211.5 226.8L212.1 226.9L212.7 227.0L213.3 227.1L213.9 227.1L214.5 227.2L215.1 227.3L215.6 227.4L216.2 227.5L216.7 227.6L217.3 227.8L217.8 227.9L218.3 228.0L218.8 228.1" stroke="#008000" stroke-width="2.20" fill="none" stroke-linejoin="round" stroke-linecap="butt" stroke-opacity="0.75"/>
<path d="M218.8 228.1L219.3 228.3L219.8 228.4L220.3 228.6L220.8 228.7L221.2 228.9L221.7 229.0L222.2 229.2L222.6 229.4L223.0 229.6L223.4 229.7L223.9 229.9L224.3 230.1L224.7 230.3L225.1 230.5L225.4 230.7L225.8 230.9L226.2 231.1" stroke="#008000" stroke-width="2.20" fill="none" stroke-linejoin="round" stroke-linecap="butt" stroke-opacity="0.83"/>
<path d="M226.2 231.1L226.5 231.4L226.9 231.6L227.2 231.8L227.6 232.1L227.9 232.3L228.2 232.5L228.5 232.8L228.8 233.0L229.1 233.3L229.4 233.6L229.7 233.8L229.9 234.1L230.2 234.4L230.5 234.7L230.7 235.0L230.9 235.2L231.2 235.5L231.4 235.8L231.6 236.1L231.8 236.4L232.0 236.8L232.2 237.1L232.4 237.4L232.6 237.7L232.8 238.0L233.0 238.4L233.1 238.7L233.3 239.1L233.4 239.4L233.6 239.8L233.7 240.1L233.8 240.5L234.0 240.8L234.1 241.2L234.2 241.6L234.3 241.9L234.4 242.3L234.5 242.7L234.6 243.1L234.7 243.5L234.7 243.8L234.8 244.2L234.9 244.6L234.9 245.0L235.0 245.5L235.0 245.9L235.1 246.3L235.1 246.7L235.1 247.1L235.2 247.5L235.2 248.0L235.2 248.4L235.2 248.8L235.2 249.3L235.2 249.7L235.2 250.1L235.2 250.6L235.2 251.0L235.1 251.5L235.1 252.0L235.1 252.4L235.0 252.9L235.0 253.3L235.0 253.8L234.9 254.3L234.9 254.8L234.8 255.2L234.7 255.7L234.7 256.2L234.6 256.7L234.5 257.2L234.4 257.7" stroke="#008000" stroke-width="2.20" fill="none" stroke-linejoin="round" stroke-linecap="butt" stroke-opacity="0.92"/>
<path d="M234.4 257.7L234.4 258.2L234.3 258.7L234.2 259.2L234.1 259.7L234.0 260.2L233.9 260.7L233.8 261.2L233.7 261.7L233.5 262.2L233.4 262.7L233.3 263.2L233.2 263.7L233.1 264.3L232.9 264.8L232.8 265.3L232.7 265.8L232.5 266.4L232.4 266.9L232.3 267.4L232.1 268.0L232.0 268.5L231.8 269.1L231.7 269.6L231.5 270.1L231.4 270.7L231.2 271.2L231.0 271.8L230.9 272.3L230.7 272.9L230.6 273.4L230.4 274.0L230.2 274.5L230.1 275.1L229.9 275.6L229.7 276.2L229.5 276.7L229.4 277.3L229.2 277.9L229.0 278.4L228.9 279.0L228.7 279.5L228.5 280.1L228.3 280.7L228.2 281.2L228.0 281.8L227.8 282.3L227.7 282.9L227.5 283.5L227.3 284.0L227.1 284.6L227.0 285.2L226.8 285.7L226.6 286.3L226.5 286.8L226.3 287.4L226.2 288.0L226.0 288.5L225.8 289.1L225.7 289.6L225.5 290.2L225.4 290.7L225.2 291.3L225.1 291.8L224.9 292.4L224.8 292.9L224.7 293.5L224.5 294.0L224.4 294.6L224.3 295.1L224.1 295.7L224.0 296.2L223.9 296.8L223.8 297.3L223.7 297.8L223.6 298.4L223.5 298.9L223.4 299.4L223.3 299.9L223.2 300.5L223.1 301.0L223.0 301.5L223.0 302.0L222.9 302.5L222.8 303.0L222.8 303.5L222.7 304.0L222.7 304.5L222.6 305.0L222.6 305.5L222.6 306.0L222.6 306.5L222.6 307.0L222.5 307.5L222.5 307.9L222.6 308.4L222.6 308.9L222.6 309.3L222.6 309.8L222.7 310.3L222.7 310.7L222.7 311.2L222.8 311.6L222.9 312.0L222.9 312.5L223.0 312.9L223.1 313.3L223.2 313.7L223.3 314.2L223.4 314.6L223.6 315.0L223.7 315.4L223.8 315.8L224.0 316.2L224.1 316.5L224.3 316.9L224.5 317.3L224.7 317.7L224.9 318.0L225.1 318.4L225.3 318.7L225.5 319.1L225.8 319.4L226.0 319.8L226.3 320.1L226.5 320.4L226.8 320.7L227.1 321.0L227.4 321.3L227.7 321.6L228.0 321.9L228.3 322.2L228.6 322.5L229.0 322.8L229.3 323.1L229.7 323.3L230.1 323.6L230.5 323.8L230.8 324.1L231.3 324.3L231.7 324.5L232.1 324.8L232.5 325.0L233.0 325.2L233.4 325.4L233.9 325.6L234.4 325.8L234.9 326.0L235.4 326.2L235.9 326.4L236.4 326.5L236.9 326.7L237.5 326.8L238.0 327.0L238.6 327.1L239.2 327.3L239.7 327.4L240.3 327.5L240.9 327.7L241.6 327.8L242.2 327.9L242.8 328.0L243.5 328.1L244.1 328.1L244.8 328.2L245.5 328.3L246.2 328.4L246.8 328.4L247.6 328.5L248.3 328.5L249.0 328.6L249.7 328.6L250.5 328.6L251.2 328.7L252.0 328.7L252.8 328.7L253.6 328.7L254.4 328.7L255.2 328.7L256.0 328.7L256.8 328.7L257.7 328.6L258.5 328.6L259.3 328.6L260.2 328.5L261.1 328.5L262.0 328.4L262.9 328.4L263.7 328.3L264.7 328.3L265.6 328.2L266.5 328.1L267.4 328.0L268.4 327.9L269.3 327.8L270.3 327.7L271.2 327.6L272.2 327.5L273.2 327.4L274.2 327.3L275.2 327.1L276.2 327.0L277.2 326.9L278.2 326.7L279.3 326.6L280.3 326.4L281.3 326.3L282.4 326.1L283.5 325.9L284.5 325.8L285.6 325.6L286.7 325.4L287.8 325.2L288.9 325.0L290.0 324.8L291.1 324.6L292.2 324.4L293.3 324.2L294.4 324.0L295.6 323.8L296.7 323.6L297.8 323.4L299.0 323.2L300.1 322.9L301.3 322.7L302.5 322.5L303.6 322.2L304.8 322.0L306.0 321.7L307.2 321.5L308.4 321.2L309.6 321.0L310.8 320.7L312.0 320.4L313.2 320.2L314.4 319.9L315.7 319.6L316.9 319.3L318.1 319.1L319.4 318.8L320.6 318.5L321.8 318.2L323.1 317.9L324.3 317.6L325.6 317.3L326.8 317.0L328.1 316.7L329.4 316.4L330.6 316.1L331.9 315.8L333.2 315.5L334.5 315.2L335.8 314.9L337.0 314.5L338.3 314.2L339.6 313.9L340.9 313.6L342.2 313.3L343.5 312.9L344.8 312.6L346.1 312.3L347.4 311.9L348.7 311.6L350.0 311.3L351.3 310.9L352.6 310.6L353.9 310.3L355.3 309.9L356.6 309.6L357.9 309.2L359.2 308.9L360.5 308.6L361.8 308.2" stroke="#008000" stroke-width="2.20" fill="none" stroke-linejoin="round" stroke-linecap="butt"/>
<path d="M361.8 308.2L363.2 307.9L364.5 307.5L365.8 307.2L367.1 306.8L368.4 306.5L369.7 306.2L371.1 305.8L372.4 305.5L373.7 305.1L375.0 304.8L376.3 304.4L377.7 304.1L379.0 303.7L380.3 303.4L381.6 303.0L382.9 302.7L384.2 302.4L385.5 302.0L386.9 301.7L388.2 301.3L389.5 301.0L390.8 300.6L392.1 300.3L393.4 300.0L394.7 299.6L396.0 299.3L397.3 299.0" stroke="#008000" stroke-width="2.20" fill="none" stroke-linejoin="round" stroke-linecap="butt" stroke-opacity="0.92"/>
<g fill="none" stroke-linecap="round" stroke-linejoin="round"><path d="M110.8 223.8h0L112.1 223.4L113.4 223.0L114.7 222.6" stroke="#000096" stroke-width="7.0"/><path d="M116.0 222.2h0L117.3 221.7L118.6 221.3L119.9 220.9L121.2 220.5" stroke="#000096" stroke-width="6.5"/><path d="M122.4 220.0h0L123.7 219.6L125.0 219.1L126.3 218.7L127.5 218.2L128.8 217.7L130.1 217.3L131.3 216.8" stroke="#0000a4" stroke-width="6.5"/><path d="M132.6 216.3h0L133.8 215.8L135.1 215.3L136.3 214.8L137.5 214.2L138.7 213.7" stroke="#0000ad" stroke-width="6.5"/><path d="M140.0 213.2h0L141.2 212.6L142.4 212.1L143.6 211.5" stroke="#0000bb" stroke-width="6.5"/><path d="M144.8 210.9h0L146.0 210.3L147.2 209.7L148.3 209.1" stroke="#0000c8" stroke-width="6.5"/><path d="M149.5 208.5h0L150.7 207.8L151.8 207.1" stroke="#0000d1" stroke-width="6.5"/><path d="M153.0 206.5h0L154.1 205.8L155.3 205.1" stroke="#0000df" stroke-width="6.5"/><path d="M156.4 204.3h0L157.5 203.6L158.7 202.8" stroke="#0000ed" stroke-width="6.5"/><path d="M159.8 202.1h0L160.9 201.3" stroke="#0000f6" stroke-width="6.5"/><path d="M162.0 200.5h0L163.1 199.6" stroke="#0000ff" stroke-width="6.5"/><path d="M164.2 198.8h0L165.2 197.9" stroke="#0000ff" stroke-width="6.5"/><path d="M166.3 197.0h0L167.4 196.1" stroke="#000cff" stroke-width="6.5"/><path d="M168.4 195.2h0L169.5 194.2" stroke="#0014ff" stroke-width="6.5"/><path d="M170.5 193.2h0L171.5 192.2" stroke="#0020ff" stroke-width="6.5"/><path d="M172.6 191.2h0" stroke="#002cff" stroke-width="6.5"/><path d="M173.6 190.1h0L174.6 189.0" stroke="#0034ff" stroke-width="6.5"/><path d="M175.6 187.9h0" stroke="#0040ff" stroke-width="6.5"/><path d="M176.6 186.8h0L177.5 185.6" stroke="#004cff" stroke-width="6.5"/><path d="M178.5 184.4h0" stroke="#0054ff" stroke-width="6.5"/><path d="M179.5 183.2h0" stroke="#0060ff" stroke-width="6.5"/><path d="M180.4 182.0h0" stroke="#006cff" stroke-width="6.5"/><path d="M181.4 180.7h0L182.3 179.4" stroke="#0074ff" stroke-width="6.5"/><path d="M183.2 178.1h0" stroke="#0080ff" stroke-width="6.5"/><path d="M184.2 176.7h0" stroke="#008cff" stroke-width="6.5"/><path d="M185.1 175.3h0" stroke="#0098ff" stroke-width="6.5"/><path d="M186.0 173.9h0" stroke="#00a0ff" stroke-width="6.5"/><path d="M186.9 172.5h0" stroke="#00acff" stroke-width="6.5"/><path d="M187.8 171.0h0" stroke="#00b8ff" stroke-width="6.5"/><path d="M188.6 169.5h0" stroke="#00c0ff" stroke-width="6.5"/><path d="M189.5 168.0h0" stroke="#00ccff" stroke-width="6.5"/><path d="M190.4 166.5h0" stroke="#00d8ff" stroke-width="6.5"/><path d="M191.2 164.9h0" stroke="#00e0fb" stroke-width="6.5"/><path d="M192.1 163.3h0" stroke="#06ecf1" stroke-width="6.5"/><path d="M192.9 161.7h0" stroke="#0ff8e7" stroke-width="6.5"/><path d="M193.7 160.1h0" stroke="#19ffde" stroke-width="6.5"/><path d="M194.5 158.4h0" stroke="#29ffce" stroke-width="6.5"/><path d="M195.3 156.7h0" stroke="#33ffc4" stroke-width="6.5"/><path d="M196.1 155.0h0" stroke="#39ffbe" stroke-width="6.5"/><path d="M196.9 153.2h0" stroke="#43ffb4" stroke-width="6.5"/><path d="M197.7 151.5h0" stroke="#4dffaa" stroke-width="6.5"/><path d="M198.5 149.7h0" stroke="#5dff9a" stroke-width="6.5"/><path d="M199.2 147.9h0" stroke="#66ff90" stroke-width="6.5"/><path d="M200.0 146.1h0" stroke="#6dff8a" stroke-width="6.5"/><path d="M200.7 144.3h0" stroke="#77ff80" stroke-width="6.5"/><path d="M201.5 142.5h0" stroke="#8aff6d" stroke-width="6.5"/><path d="M202.2 140.6h0" stroke="#90ff66" stroke-width="6.5"/><path d="M202.9 138.8h0" stroke="#9aff5d" stroke-width="6.5"/><path d="M203.6 136.9h0" stroke="#a4ff53" stroke-width="6.5"/><path d="M204.3 135.0h0" stroke="#b4ff43" stroke-width="6.5"/><path d="M205.0 133.2h0" stroke="#beff39" stroke-width="6.5"/><path d="M205.7 131.3h0" stroke="#c4ff33" stroke-width="6.5"/><path d="M206.4 129.4h0" stroke="#d7ff1f" stroke-width="6.5"/><path d="M207.0 127.6h0" stroke="#deff19" stroke-width="6.5"/><path d="M207.7 125.7h0" stroke="#e7ff0f" stroke-width="6.5"/><path d="M208.3 123.8h0" stroke="#fbf100" stroke-width="6.5"/><path d="M209.0 122.0h0" stroke="#ffea00" stroke-width="6.5"/><path d="M209.6 120.2h0" stroke="#ffde00" stroke-width="6.5"/><path d="M210.2 118.4h0" stroke="#ffcc00" stroke-width="6.5"/><path d="M210.8 116.6h0" stroke="#ffc100" stroke-width="6.5"/><path d="M211.5 114.8h0" stroke="#ffb600" stroke-width="6.5"/><path d="M212.0 113.0h0" stroke="#ffae00" stroke-width="6.5"/><path d="M212.6 111.3h0" stroke="#ff9800" stroke-width="6.5"/><path d="M213.2 109.6h0" stroke="#ff8d00" stroke-width="6.5"/><path d="M213.8 107.9h0" stroke="#ff8600" stroke-width="6.5"/><path d="M214.3 106.3h0" stroke="#ff7a00" stroke-width="6.5"/><path d="M214.9 104.7h0" stroke="#ff6f00" stroke-width="6.5"/><path d="M215.4 103.1h0" stroke="#ff5d00" stroke-width="6.5"/><path d="M216.0 101.6h0" stroke="#ff5200" stroke-width="6.5"/><path d="M216.5 100.1h0" stroke="#ff4a00" stroke-width="6.5"/><path d="M217.0 98.7h0" stroke="#ff3f00" stroke-width="6.5"/><path d="M217.5 97.4h0" stroke="#ff3400" stroke-width="6.5"/><path d="M218.1 96.0h0" stroke="#ff2d00" stroke-width="6.5"/><path d="M218.5 94.8h0" stroke="#ff2200" stroke-width="6.5"/><path d="M219.0 93.6h0" stroke="#ff1600" stroke-width="6.5"/><path d="M219.5 92.5h0L220.0 91.4" stroke="#f60b00" stroke-width="6.5"/><path d="M220.5 90.4h0" stroke="#ed0400" stroke-width="6.5"/><path d="M220.9 89.4h0" stroke="#df0000" stroke-width="6.5"/><path d="M221.4 88.6h0L221.8 87.8" stroke="#d10000" stroke-width="6.5"/><path d="M222.2 87.1h0L222.6 86.4" stroke="#c80000" stroke-width="6.5"/><path d="M223.1 85.8h0L223.5 85.4" stroke="#bb0000" stroke-width="6.5"/><path d="M223.9 85.0h0L224.3 84.6L224.6 84.4" stroke="#ad0000" stroke-width="6.5"/><path d="M225.0 84.2h0L225.8 84.2L226.5 84.5L226.8 84.8L227.1 85.1L227.4 85.6L227.8 86.1" stroke="#a40000" stroke-width="6.5"/><path d="M228.1 86.7h0L228.4 87.4L228.7 88.2" stroke="#ad0000" stroke-width="6.5"/><path d="M228.9 89.1h0L229.2 90.0" stroke="#bb0000" stroke-width="6.5"/><path d="M229.5 91.0h0L229.8 92.1" stroke="#c80000" stroke-width="6.5"/><path d="M230.0 93.3h0" stroke="#d10000" stroke-width="6.5"/><path d="M230.3 94.6h0L230.5 95.9" stroke="#df0000" stroke-width="6.5"/><path d="M230.7 97.3h0" stroke="#ed0400" stroke-width="6.5"/><path d="M231.0 98.8h0" stroke="#f60b00" stroke-width="6.5"/><path d="M231.2 100.3h0" stroke="#ff1600" stroke-width="6.5"/><path d="M231.4 101.9h0" stroke="#ff2200" stroke-width="6.5"/><path d="M231.6 103.6h0L231.8 105.3" stroke="#ff2d00" stroke-width="6.5"/><path d="M232.0 107.0h0" stroke="#ff3400" stroke-width="6.5"/><path d="M232.2 108.9h0" stroke="#ff3f00" stroke-width="6.5"/><path d="M232.4 110.7h0" stroke="#ff5200" stroke-width="6.5"/><path d="M232.5 112.7h0" stroke="#ff5d00" stroke-width="6.5"/><path d="M232.7 114.6h0" stroke="#ff6800" stroke-width="6.5"/><path d="M232.9 116.6h0" stroke="#ff6f00" stroke-width="6.5"/><path d="M233.0 118.7h0" stroke="#ff7a00" stroke-width="6.5"/><path d="M233.2 120.8h0" stroke="#ff8600" stroke-width="6.5"/><path d="M233.3 122.9h0" stroke="#ff8d00" stroke-width="6.5"/><path d="M233.4 125.0h0" stroke="#ffa300" stroke-width="6.5"/><path d="M233.6 127.2h0" stroke="#ffae00" stroke-width="6.5"/><path d="M233.7 129.4h0" stroke="#ffb600" stroke-width="6.5"/><path d="M233.8 131.7h0" stroke="#ffc100" stroke-width="6.5"/><path d="M233.9 133.9h0" stroke="#ffd300" stroke-width="6.5"/><path d="M234.0 136.2h0" stroke="#ffde00" stroke-width="6.5"/><path d="M234.1 138.4h0" stroke="#ffea00" stroke-width="6.5"/><path d="M234.2 140.7h0" stroke="#f1fc06" stroke-width="6.5"/><path d="M234.3 143.0h0" stroke="#e7ff0f" stroke-width="6.5"/><path d="M234.3 145.3h0" stroke="#deff19" stroke-width="6.5"/><path d="M234.4 147.6h0" stroke="#ceff29" stroke-width="6.5"/><path d="M234.5 149.9h0" stroke="#c4ff33" stroke-width="6.5"/><path d="M234.5 152.2h0" stroke="#beff39" stroke-width="6.5"/><path d="M234.6 154.5h0" stroke="#aaff4d" stroke-width="6.5"/><path d="M234.6 156.8h0" stroke="#a4ff53" stroke-width="6.5"/><path d="M234.7 159.1h0" stroke="#9aff5d" stroke-width="6.5"/><path d="M234.7 161.4h0" stroke="#8aff6d" stroke-width="6.5"/><path d="M234.7 163.7h0" stroke="#80ff77" stroke-width="6.5"/><path d="M234.7 165.9h0" stroke="#77ff80" stroke-width="6.5"/><path d="M234.8 168.2h0" stroke="#6dff8a" stroke-width="6.5"/><path d="M234.8 170.4h0" stroke="#5dff9a" stroke-width="6.5"/><path d="M234.8 172.6h0" stroke="#53ffa4" stroke-width="6.5"/><path d="M234.8 174.8h0" stroke="#4dffaa" stroke-width="6.5"/><path d="M234.8 177.0h0" stroke="#43ffb4" stroke-width="6.5"/><path d="M234.8 179.1h0" stroke="#39ffbe" stroke-width="6.5"/><path d="M234.8 181.3h0" stroke="#29ffce" stroke-width="6.5"/><path d="M234.7 183.4h0" stroke="#1fffd7" stroke-width="6.5"/><path d="M234.7 185.4h0" stroke="#19ffde" stroke-width="6.5"/><path d="M234.7 187.5h0" stroke="#0ff8e7" stroke-width="6.5"/><path d="M234.7 189.5h0" stroke="#06ecf1" stroke-width="6.5"/><path d="M234.6 191.5h0" stroke="#00e0fb" stroke-width="6.5"/><path d="M234.6 193.5h0" stroke="#00d8ff" stroke-width="6.5"/><path d="M234.5 195.4h0" stroke="#00ccff" stroke-width="6.5"/><path d="M234.5 197.4h0" stroke="#00c0ff" stroke-width="6.5"/><path d="M234.4 199.2h0" stroke="#00b8ff" stroke-width="6.5"/><path d="M234.4 201.1h0" stroke="#00acff" stroke-width="6.5"/><path d="M234.3 202.9h0" stroke="#00a0ff" stroke-width="6.5"/><path d="M234.2 204.7h0" stroke="#0098ff" stroke-width="6.5"/><path d="M234.1 206.5h0" stroke="#008cff" stroke-width="6.5"/><path d="M234.1 208.2h0" stroke="#0080ff" stroke-width="6.5"/><path d="M234.0 209.9h0" stroke="#0074ff" stroke-width="6.5"/><path d="M233.9 211.6h0L233.8 213.3" stroke="#006cff" stroke-width="6.5"/><path d="M233.7 214.9h0" stroke="#0060ff" stroke-width="6.5"/><path d="M233.6 216.5h0" stroke="#0054ff" stroke-width="6.5"/><path d="M233.5 218.0h0L233.4 219.6" stroke="#004cff" stroke-width="6.5"/><path d="M233.3 221.1h0" stroke="#0040ff" stroke-width="6.5"/><path d="M233.2 222.6h0" stroke="#0034ff" stroke-width="6.5"/><path d="M233.1 224.0h0L233.0 225.4" stroke="#002cff" stroke-width="6.5"/><path d="M232.8 226.8h0" stroke="#0020ff" stroke-width="6.5"/><path d="M232.7 228.2h0" stroke="#0020ff" stroke-width="7.0"/><path d="M232.6 229.5h0" stroke="#0014ff" stroke-width="7.0"/><path d="M232.5 230.8h0L232.3 232.1" stroke="#000cff" stroke-width="7.0"/><path d="M232.2 233.4h0L232.0 234.6" stroke="#0000ff" stroke-width="7.0"/><path d="M231.9 235.9h0L231.8 237.1L231.6 238.2" stroke="#0000ff" stroke-width="7.0"/><path d="M231.5 239.4h0L231.3 240.5" stroke="#0000f6" stroke-width="7.0"/><path d="M231.2 241.6h0L231.0 242.7" stroke="#0000ed" stroke-width="7.0"/><path d="M230.9 243.8h0" stroke="#0000ed" stroke-width="7.5"/><path d="M230.7 244.8h0L230.5 245.9" stroke="#0000df" stroke-width="7.5"/><path d="M230.4 246.9h0L230.2 247.9L230.0 248.8L229.9 249.8" stroke="#0000d1" stroke-width="7.5"/><path d="M229.7 250.8h0L229.5 251.7L229.4 252.6L229.2 253.5" stroke="#0000c8" stroke-width="7.5"/><path d="M229.0 254.4h0L228.9 255.3L228.7 256.1L228.5 257.0" stroke="#0000bb" stroke-width="7.5"/><path d="M228.4 257.8h0L228.2 258.6L228.0 259.5L227.8 260.3L227.7 261.0L227.5 261.8" stroke="#0000ad" stroke-width="8.0"/><path d="M227.3 262.6h0L227.2 263.4L227.0 264.1L226.8 264.9L226.7 265.6L226.5 266.3L226.3 267.0L226.2 267.7" stroke="#0000a4" stroke-width="8.0"/><path d="M226.0 268.4h0L225.8 269.1L225.7 269.8L225.5 270.5L225.4 271.2L225.2 271.8L225.1 272.5L224.9 273.2L224.8 273.8" stroke="#000096" stroke-width="8.0"/><path d="M224.6 274.5h0L224.5 275.1L224.4 275.7" stroke="#000096" stroke-width="8.5"/><path d="M224.2 276.3h0L224.1 277.0L224.0 277.6L223.9 278.2L223.7 278.8L223.6 279.4L223.5 280.0L223.4 280.6L223.3 281.1L223.2 281.7L223.1 282.3L223.0 282.9L223.0 283.4L222.9 284.0L222.8 284.5L222.7 285.1L222.7 285.6L222.6 286.7L222.5 287.7L222.4 288.8" stroke="#000089" stroke-width="8.5"/><path d="M222.4 289.3h0L222.4 290.3L222.4 291.3L222.4 292.2L222.5 293.2L222.6 294.1L222.7 295.0L222.9 295.9L223.1 296.8" stroke="#000089" stroke-width="9.0"/><path d="M223.3 297.6h0L223.6 298.4L223.8 299.2L224.2 300.0L224.5 300.7L224.9 301.5L225.4 302.2L225.9 302.9L226.4 303.5L226.9 304.2L227.2 304.5L227.5 304.8L227.8 305.1L228.2 305.3L228.5 305.6L228.9 305.9L229.2 306.2L229.6 306.4L229.9 306.7L230.3 307.0L230.7 307.2L231.1 307.4L231.6 307.7L232.0 307.9L232.4 308.1L232.9 308.3L233.3 308.6L233.8 308.8L234.3 309.0L234.8 309.1L235.3 309.3L235.8 309.5L236.3 309.7L236.8 309.8L237.4 310.0L237.9 310.1L238.5 310.3L239.1 310.4L239.7 310.6L240.3 310.7L240.9 310.8L241.5 310.9L242.1 311.0L242.8 311.1L243.4 311.2L244.1 311.3L244.7 311.4L245.4 311.4L246.1 311.5L246.8 311.6L247.5 311.6L248.2 311.7L249.0 311.7L249.7 311.8L250.5 311.8L251.2 311.8L252.0 311.8L252.8 311.8L253.6 311.9L254.4 311.9L255.2 311.8L256.0 311.8L256.8 311.8L257.7 311.8L258.5 311.8L259.4 311.7L260.2 311.7L261.1 311.6L262.0 311.6L262.9 311.5L263.8 311.5L264.7 311.4L265.6 311.3L266.5 311.2L267.5 311.2L268.4 311.1L269.4 311.0L270.3 310.9L271.3 310.8L272.3 310.7L273.3 310.5L274.3 310.4L275.3 310.3L276.3 310.2L277.3 310.0L278.3 309.9L279.4 309.7L280.4 309.6L281.5 309.4L282.5 309.3L283.6 309.1L284.7 308.9L285.7 308.7L286.8 308.6L287.9 308.4L289.0 308.2L290.1 308.0L291.2 307.8L292.4 307.6L293.5 307.4L294.6 307.2L295.7 307.0L296.9 306.7L298.0 306.5L299.2 306.3L300.4 306.1L301.5 305.8" stroke="#000080" stroke-width="9.0"/><path d="M302.7 305.6h0L303.9 305.4L305.1 305.1L306.2 304.9L307.4 304.6L308.6 304.3L309.8 304.1L311.1 303.8L312.3 303.6L313.5 303.3L314.7 303.0L315.9 302.7L317.2 302.5L318.4 302.2L319.7 301.9L320.9 301.6L322.2 301.3L323.4 301.0L324.7 300.7L325.9 300.4L327.2 300.1L328.5 299.8L329.7 299.5L331.0 299.2L332.3 298.9L333.6 298.5" stroke="#000080" stroke-width="8.5"/><path d="M334.9 298.2h0L336.1 297.9L337.4 297.6L338.7 297.2" stroke="#000080" stroke-width="8.0"/><path d="M340.0 296.9h0L341.3 296.6L342.6 296.3L343.9 295.9L345.2 295.6L346.5 295.2L347.8 294.9L349.2 294.5L350.5 294.2L351.8 293.8L353.1 293.5L354.4 293.1L355.7 292.8L357.1 292.4L358.4 292.1L359.7 291.7L361.0 291.3L362.3 291.0L363.7 290.6L365.0 290.2" stroke="#000089" stroke-width="8.0"/><path d="M366.3 289.9h0L367.6 289.5L369.0 289.1L370.3 288.7L371.6 288.4L373.0 288.0L374.3 287.6L375.6 287.2L376.9 286.8L378.3 286.4L379.6 286.0L380.9 285.6L382.2 285.2L383.6 284.8L384.9 284.4" stroke="#000089" stroke-width="7.5"/><path d="M386.2 284.0h0L387.5 283.6L388.8 283.2L390.2 282.8L391.5 282.4" stroke="#000089" stroke-width="7.0"/><path d="M392.8 282.0h0L394.1 281.6L395.4 281.1L396.7 280.7L398.0 280.3" stroke="#000096" stroke-width="7.0"/></g>
<path d="M365.1 637.8L373.3 639.3L370.5 457.8L361.9 456.5Z" fill="#0000ff" fill-opacity="0.18"/>
<path d="M373.3 639.3L520.8 665.4L525.5 481.4L370.5 457.8Z" fill="#008000" fill-opacity="0.18"/>
<path d="M180.5 732.7L189.0 734.4L373.3 639.3L365.1 637.8Z" fill="#0000ff" fill-opacity="0.18"/>
<path d="M364.2 584.9h0L364.8 585.9L365.4 586.9L366.0 587.9L366.6 588.8L367.2 589.7L367.8 590.7L368.4 591.5L369.0 592.4L369.6 593.2L370.2 594.0L370.8 594.8L371.4 595.6L372.0 596.3L372.6 597.0L373.1 597.7L373.7 598.3L374.3 598.9L374.9 599.5L375.5 600.1L376.1 600.6L376.7 601.1L377.3 601.6L377.9 602.0L378.5 602.4L379.1 602.8L380.3 603.5L381.4 604.0L382.6 604.4L383.8 604.7L385.0 604.9L386.1 605.0L387.3 604.9L388.5 604.6L389.6 604.3L390.8 603.8L392.0 603.2L393.2 602.4L393.7 602.0L394.3 601.6L394.9 601.1L395.5 600.6L396.1 600.0L396.7 599.4L397.2 598.8L397.8 598.1L398.4 597.5L399.0 596.7L399.6 596.0L400.2 595.2L400.7 594.4L401.3 593.6L401.9 592.7L402.5 591.8L403.1 590.9L403.7 589.9L404.3 589.0L404.9 587.9L405.4 586.9L406.0 585.8L406.6 584.8L407.2 583.6L407.8 582.5L408.4 581.3L409.0 580.1L409.6 578.9L410.1 577.7L410.7 576.4L411.3 575.2L411.9 573.9L412.5 572.5L413.1 571.2L413.7 569.9L414.3 568.5M414.9 567.1h0M415.5 565.7h0M416.1 564.3h0M416.7 562.8h0M417.3 561.4h0M417.9 559.9h0M418.5 558.5h0M419.1 557.0h0M419.7 555.5h0M420.3 554.1h0M420.9 552.6h0M421.5 551.1h0M422.1 549.6h0M422.7 548.1h0M423.3 546.6h0M423.9 545.1h0M424.5 543.6h0M425.1 542.1h0M425.7 540.7h0M426.3 539.2h0M426.9 537.7h0M427.5 536.2h0M428.1 534.8h0M428.7 533.3h0M429.3 531.9h0M429.9 530.5h0M430.5 529.1h0M431.1 527.6h0M431.7 526.3h0M432.4 524.9h0L433.0 523.5L433.6 522.2L434.2 520.8L434.8 519.5L435.4 518.2L436.0 516.9L436.6 515.7L437.3 514.4L437.9 513.2L438.5 512.0L439.1 510.8L439.7 509.7L440.3 508.5L441.0 507.4L441.6 506.3L442.2 505.2L442.8 504.2L443.4 503.2L444.1 502.2L444.7 501.2L445.3 500.2L445.9 499.3L446.5 498.4L447.2 497.5L447.8 496.6L448.4 495.8L449.0 495.0L449.7 494.2L450.3 493.4L450.9 492.7L451.5 491.9L452.1 491.2L452.8 490.5L453.4 489.9L454.0 489.3L454.6 488.6L455.3 488.1L455.9 487.5L456.5 486.9L457.1 486.4L457.8 485.9L458.4 485.4L459.0 485.0L459.6 484.5L460.3 484.1L460.9 483.7L461.5 483.3L462.2 482.9L462.8 482.6L463.4 482.3L464.7 481.7L465.9 481.1L467.2 480.7L468.4 480.2L469.7 479.9L470.9 479.6L472.2 479.3L473.4 479.1L474.7 478.9L475.9 478.8L477.2 478.6L478.5 478.6L479.7 478.5L481.0 478.5L482.2 478.5L483.5 478.5L484.7 478.5L486.0 478.6L487.2 478.6L488.5 478.7L489.8 478.8L491.0 478.9L492.3 479.0L493.5 479.2L494.8 479.3L496.1 479.4L497.3 479.6L498.6 479.7L499.8 479.9L501.1 480.0L502.4 480.2L503.6 480.4L504.9 480.6L506.1 480.7L507.4 480.9L508.7 481.1L509.9 481.3L511.2 481.5L512.5 481.7L513.7 481.9L515.0 482.0L516.3 482.2L517.5 482.4L518.8 482.6L520.1 482.9L521.3 483.1L522.6 483.3L523.9 483.5L525.1 483.7L526.4 483.9L527.7 484.1L528.9 484.3L530.2 484.6L531.5 484.8L532.7 485.0L534.0 485.3L535.3 485.5L536.5 485.7L537.8 486.0L539.1 486.2L540.4 486.5L541.6 486.7L542.9 487.0L544.2 487.3L545.5 487.5L546.7 487.8L548.0 488.1L549.3 488.4L550.5 488.7L551.8 489.0L553.1 489.3L554.4 489.6L555.6 489.9L556.9 490.3L558.2 490.6L559.5 491.0L560.7 491.4L562.0 491.7L563.3 492.1L564.6 492.5L565.8 492.9L567.1 493.4L568.4 493.8L569.7 494.2L570.9 494.7L572.2 495.2L573.5 495.6L574.7 496.1L576.0 496.6L577.3 497.2L578.6 497.7L579.8 498.2L581.1 498.8L582.4 499.4L583.0 499.7L583.6 500.0L584.3 500.3L584.9 500.6L585.5 500.9L586.2 501.3L586.8 501.6L587.4 501.9L588.1 502.3L588.7 502.6L589.3 502.9L590.0 503.3L590.6 503.7L591.2 504.0L591.9 504.4L592.5 504.8L593.1 505.2L593.8 505.6L594.4 506.0L595.0 506.4L595.7 506.8L596.3 507.2L596.9 507.6L597.6 508.1L598.2 508.5L598.8 509.0L599.4 509.4L600.1 509.9L600.7 510.4L601.3 510.9L601.9 511.4L602.6 511.9L603.2 512.4L603.8 512.9L604.4 513.5L605.1 514.0L605.7 514.6L606.3 515.1L606.9 515.7L607.6 516.3L608.2 516.9L608.8 517.5L609.4 518.2L610.0 518.8L610.7 519.5L611.3 520.1L611.9 520.8L612.5 521.5L613.1 522.2L613.7 522.9L614.4 523.7L615.0 524.4L615.6 525.2L616.2 525.9L616.8 526.7L617.4 527.5L618.0 528.3L618.6 529.1L619.2 530.0L619.8 530.8L620.4 531.7L621.1 532.5L621.7 533.4L622.3 534.3L622.9 535.2L623.5 536.2L624.1 537.1L624.7 538.1L625.3 539.0L625.9 540.0L626.5 541.0L627.1 542.0L627.7 543.0L628.2 544.0L628.8 545.1L629.4 546.1L630.0 547.2L630.6 548.3L631.2 549.4L631.8 550.5L632.4 551.6L633.0 552.7L633.6 553.9L634.1 555.0L634.7 556.2L635.3 557.4L635.9 558.5L636.5 559.7L637.1 560.9L637.6 562.2L638.2 563.4L638.8 564.6L639.4 565.8L640.0 567.1L640.5 568.4L641.1 569.6L641.7 570.9L642.3 572.2L642.8 573.5L643.4 574.8L644.0 576.1L644.5 577.4L645.1 578.7L645.7 580.0L646.3 581.3L646.8 582.7L647.4 584.0L648.0 585.3L648.5 586.7L649.1 588.0L649.7 589.4L650.2 590.7L650.8 592.1L651.4 593.5L651.9 594.8L652.5 596.2L653.1 597.5L653.6 598.9L654.2 600.2L654.7 601.6L655.3 603.0L655.9 604.3L656.4 605.7L657.0 607.0L657.6 608.4L658.1 609.7L658.7 611.1L659.2 612.4L659.8 613.7L660.4 615.0L660.9 616.4L661.5 617.7L662.0 619.0L662.6 620.3L663.2 621.6L663.7 622.8L664.3 624.1L664.9 625.4L665.4 626.6L666.0 627.9L666.6 629.1L667.1 630.3L667.7 631.5L668.2 632.7L668.8 633.9L669.4 635.0" stroke="#008000" stroke-width="2.20" fill="none" stroke-linecap="round" stroke-linejoin="round"/>
<path d="M362.0 458.3h0L363.2 458.5L364.4 458.7L365.6 458.9L366.8 459.1L368.0 459.3L369.3 459.5L370.5 459.7L371.7 459.9L372.9 460.2L374.1 460.4L375.4 460.6L376.6 460.8L377.8 461.1L379.0 461.3L380.2 461.5L381.4 461.8L382.7 462.0L383.9 462.3L385.1 462.5L386.3 462.8L387.6 463.0L388.8 463.3L390.0 463.6L391.2 463.8L392.4 464.1L393.7 464.4L394.9 464.7L396.1 465.0L397.3 465.3L398.6 465.6L399.8 465.9L401.0 466.3L402.3 466.6L403.5 466.9L404.7 467.3L405.9 467.6L407.2 468.0L408.4 468.4L409.6 468.8L410.9 469.1L412.1 469.6L413.3 470.0L414.5 470.4L415.8 470.8L417.0 471.3L418.2 471.8L419.5 472.2L420.7 472.7L421.9 473.3L423.2 473.8L424.4 474.3L425.6 474.9L426.9 475.5L428.1 476.1L429.3 476.7L430.6 477.4L431.2 477.7L431.8 478.1L432.4 478.4L433.0 478.8L433.6 479.1L434.3 479.5L434.9 479.9L435.5 480.2L436.1 480.6L436.7 481.0L437.3 481.4L438.0 481.8L438.6 482.2L439.2 482.7L439.8 483.1L440.4 483.5L441.0 484.0L441.7 484.4L442.3 484.9L442.9 485.4L443.5 485.9L444.1 486.3L444.7 486.8L445.4 487.4L446.0 487.9L446.6 488.4L447.2 488.9L447.8 489.5L448.4 490.1L449.1 490.6L449.7 491.2L450.3 491.8L450.9 492.4L451.5 493.0L452.1 493.7L452.7 494.3L453.4 495.0L454.0 495.6L454.6 496.3L455.2 497.0L455.8 497.7L456.4 498.4L457.0 499.2L457.7 499.9L458.3 500.7L458.9 501.5L459.5 502.3L460.1 503.1L460.7 503.9L461.3 504.7L461.9 505.6L462.6 506.5L463.2 507.3L463.8 508.2L464.4 509.1L465.0 510.1L465.6 511.0L466.2 512.0L466.8 512.9L467.4 513.9L468.0 514.9L468.7 515.9L469.3 517.0L469.9 518.0L470.5 519.1L471.1 520.1L471.7 521.2L472.3 522.3L472.9 523.5L473.5 524.6L474.1 525.7L474.7 526.9L475.3 528.1L475.9 529.2L476.5 530.4L477.1 531.6L477.7 532.9L478.3 534.1L478.9 535.4L479.5 536.6L480.1 537.9L480.7 539.2L481.3 540.5L481.9 541.8L482.5 543.1L483.1 544.4L483.7 545.8L484.3 547.1L484.9 548.5L485.5 549.9M486.1 551.3h0M486.7 552.7h0M487.3 554.1h0M487.9 555.5h0M488.5 556.9h0M489.1 558.3h0M489.7 559.8h0M490.3 561.2h0M490.9 562.7h0M491.4 564.1h0M492.0 565.6h0M492.6 567.1h0M493.2 568.6h0M493.8 570.0h0M494.4 571.5h0M495.0 573.0h0M495.6 574.5h0M496.2 576.0h0M496.7 577.5h0M497.3 579.0h0M497.9 580.5h0M498.5 582.0h0M499.1 583.6h0M499.7 585.1h0M500.3 586.6h0M500.8 588.1h0M501.4 589.6h0M502.0 591.1h0M502.6 592.6h0M503.2 594.1h0M503.8 595.6h0M504.3 597.0h0M504.9 598.5h0M505.5 600.0h0M506.1 601.4h0M506.7 602.9h0M507.3 604.3h0M507.8 605.8h0M508.4 607.2h0M509.0 608.6h0M509.6 610.0h0M510.2 611.4h0L510.7 612.8L511.3 614.1L511.9 615.5L512.5 616.8L513.1 618.1L513.7 619.4L514.2 620.7L514.8 621.9L515.4 623.2L516.0 624.4L516.6 625.6L517.1 626.8L517.7 627.9L518.3 629.0L518.9 630.1L519.5 631.2L520.1 632.3L520.7 633.3L521.2 634.3L521.8 635.2L522.4 636.2L523.0 637.1L523.6 638.0L524.2 638.8L524.8 639.6L525.4 640.4L525.9 641.2L526.5 641.9L527.1 642.6L527.7 643.2L528.3 643.8L528.9 644.4L529.5 644.9L530.1 645.4L530.7 645.9L531.3 646.3L531.9 646.7L533.1 647.3L534.3 647.8L535.5 648.0L536.8 648.2L538.0 648.1L539.2 647.8L540.5 647.4L541.7 646.7L542.3 646.3L543.0 645.9L543.6 645.4L544.2 644.9L544.9 644.3L545.5 643.6L546.1 642.9L546.8 642.2L547.4 641.4L548.1 640.6L548.7 639.7L549.4 638.8L550.0 637.8L550.7 636.8L551.3 635.8L552.0 634.7L552.6 633.5L553.3 632.4L553.9 631.2L554.6 629.9L555.3 628.7L555.9 627.4L556.6 626.0M557.3 624.7h0M557.9 623.3h0M558.6 621.9h0M559.3 620.4h0M560.0 619.0h0M560.6 617.5h0M561.3 615.9h0M562.0 614.4h0M562.7 612.8h0M563.4 611.3h0M564.1 609.7h0M564.7 608.0h0M565.4 606.4h0M566.1 604.8h0M566.8 603.1h0M567.5 601.4h0M568.2 599.8h0M568.9 598.1h0M569.6 596.4h0M570.3 594.7h0M571.0 593.0h0M571.7 591.2h0M572.4 589.5h0M573.1 587.8h0M573.8 586.1h0M574.5 584.3h0M575.2 582.6h0M575.9 580.9h0M576.6 579.2h0M577.3 577.4h0M578.0 575.7h0M578.7 574.0h0M579.4 572.3h0M580.1 570.6h0M580.8 568.9h0M581.5 567.3h0M582.2 565.6h0M582.9 563.9h0M583.6 562.3h0M584.3 560.6h0M585.0 559.0h0M585.7 557.4h0M586.4 555.8h0M587.1 554.3h0M587.8 552.7h0M588.6 551.2h0M589.3 549.6h0M590.0 548.1h0M590.7 546.6h0M591.4 545.2h0M592.1 543.7h0M592.8 542.3h0M593.5 540.9h0M594.2 539.5h0M594.9 538.2h0M595.6 536.8h0L596.3 535.5L597.0 534.2L597.7 533.0L598.4 531.7L599.1 530.5L599.8 529.3L600.5 528.2L601.2 527.0L601.9 525.9L602.6 524.8L603.3 523.8L604.0 522.8L604.7 521.8L605.4 520.8L606.1 519.8L606.8 518.9L607.5 518.0L608.2 517.1L608.9 516.3L609.6 515.5L610.2 514.7L610.9 513.9L611.6 513.2L612.3 512.5L613.0 511.8L613.7 511.1L614.4 510.5L615.0 509.9L615.7 509.3L616.4 508.8L617.1 508.2L617.8 507.7L618.4 507.2L619.1 506.8L619.8 506.4L620.5 506.0L621.1 505.6L621.8 505.2L622.5 504.9L623.2 504.6L623.8 504.3L624.5 504.0L625.2 503.7L625.8 503.5L626.5 503.3L627.8 502.9L629.2 502.6L630.5 502.3L631.8 502.1L633.2 501.9L634.5 501.8L635.8 501.7L637.1 501.6L638.4 501.6L639.8 501.6L641.1 501.6L642.4 501.6L643.7 501.7L645.0 501.8L646.4 501.9L647.7 502.0L649.0 502.2L650.3 502.3L651.6 502.5L652.9 502.7L654.2 502.9L655.5 503.1L656.9 503.3L658.2 503.5L659.5 503.7L660.8 503.9L662.1 504.1L663.4 504.3L664.8 504.5L666.1 504.7L667.4 504.9L668.7 505.1L670.0 505.3L671.4 505.5L672.7 505.7L674.0 505.9L675.3 506.1L676.6 506.3L678.0 506.5" stroke="#0000ff" stroke-width="2.20" fill="none" stroke-linecap="round" stroke-linejoin="round"/>
<path d="M520.8 665.4L665.6 691.1L678.1 504.6L525.5 481.4Z" fill="#0000ff" fill-opacity="0.18"/>
<path d="M189.0 734.4L343.7 764.6L520.8 665.4L373.3 639.3Z" fill="#008000" fill-opacity="0.18"/>
<path d="M197.9 723.8L197.9 724.2L197.9 724.6L198.0 725.0L198.0 725.4L198.1 725.8L198.2 726.2L198.3 726.5L198.5 726.9L198.6 727.2L198.8 727.6L199.0 727.9L199.2 728.2L199.5 728.5L199.7 728.8L200.0 729.1L200.3 729.4L200.6 729.7L200.9 729.9L201.2 730.2L201.6 730.4L202.0 730.7L202.4 730.9L202.8 731.1L203.2 731.3L203.7 731.5L204.2 731.7L204.7 731.9L205.2 732.1L205.7 732.2L206.2 732.4L206.8 732.5L207.3 732.6L207.9 732.8L208.5 732.9L209.2 733.0L209.8 733.1L210.4 733.2L211.1 733.3" stroke="#008000" stroke-width="2.00" fill="none" stroke-linejoin="round" stroke-linecap="butt"/>
<path d="M211.1 733.3L211.8 733.4L212.5 733.4L213.2 733.5L213.9 733.6L214.7 733.6L215.4 733.7L216.2 733.7L217.0 733.7L217.8 733.7L218.6 733.7L219.5 733.7L220.3 733.7L221.2 733.7L222.0 733.7L222.9 733.7L223.8 733.6L224.7 733.6L225.7 733.5L226.6 733.5L227.6 733.4L228.5 733.4L229.5 733.3L230.5 733.2L231.5 733.1L232.5 733.0" stroke="#008000" stroke-width="2.00" fill="none" stroke-linejoin="round" stroke-linecap="butt" stroke-opacity="0.92"/>
<path d="M232.5 733.0L233.6 732.9L234.6 732.8L235.6 732.7L236.7 732.6L237.8 732.5L238.9 732.3L240.0 732.2L241.1 732.0L242.2 731.9L243.3 731.7L244.5 731.6L245.6 731.4L246.8 731.2L248.0 731.1L249.1 730.9L250.3 730.7L251.5 730.5L252.8 730.3L254.0 730.1L255.2 729.9L256.4 729.7L257.7 729.4" stroke="#008000" stroke-width="2.00" fill="none" stroke-linejoin="round" stroke-linecap="butt" stroke-opacity="0.83"/>
<path d="M257.7 729.4L259.0 729.2L260.2 729.0L261.5 728.8L262.8 728.5L264.1 728.3L265.4 728.0L266.7 727.8L268.0 727.5L269.3 727.3L270.7 727.0L272.0 726.7L273.3 726.4L274.7 726.2L276.1 725.9L277.4 725.6L278.8 725.3L280.2 725.0L281.6 724.7L283.0 724.4L284.4 724.1L285.8 723.8L287.2 723.5" stroke="#008000" stroke-width="2.00" fill="none" stroke-linejoin="round" stroke-linecap="butt" stroke-opacity="0.75"/>
<path d="M287.2 723.5L288.6 723.2L290.0 722.9L291.5 722.6L292.9 722.2L294.3 721.9L295.8 721.6L297.2 721.2L298.7 720.9L300.2 720.6L301.6 720.2L303.1 719.9L304.6 719.5L306.0 719.2L307.5 718.8L309.0 718.5L310.5 718.1L312.0 717.8L313.5 717.4L315.0 717.1L316.5 716.7L318.0 716.3L319.5 716.0L321.0 715.6L322.5 715.2" stroke="#008000" stroke-width="2.00" fill="none" stroke-linejoin="round" stroke-linecap="butt" stroke-opacity="0.67"/>
<path d="M322.5 715.2L324.1 714.9L325.6 714.5L327.1 714.1L328.6 713.7L330.2 713.4L331.7 713.0L333.2 712.6L334.8 712.2L336.3 711.8L337.8 711.4L339.4 711.1L340.9 710.7L342.4 710.3L344.0 709.9L345.5 709.5L347.1 709.1L348.6 708.7L350.1 708.4L351.7 708.0L353.2 707.6L354.8 707.2L356.3 706.8L357.9 706.4L359.4 706.0L360.9 705.6L362.5 705.2L364.0 704.9L365.5 704.5L367.1 704.1" stroke="#008000" stroke-width="2.00" fill="none" stroke-linejoin="round" stroke-linecap="butt" stroke-opacity="0.58"/>
<path d="M367.1 704.1L368.6 703.7L370.1 703.3L371.7 702.9L373.2 702.5L374.7 702.2L376.2 701.8L377.7 701.4L379.2 701.0L380.8 700.6L382.3 700.3L383.8 699.9L385.3 699.5L386.8 699.2L388.2 698.8L389.7 698.4L391.2 698.1L392.7 697.7L394.2 697.3L395.6 697.0L397.1 696.6L398.6 696.3L400.0 695.9L401.5 695.6L402.9 695.2L404.4 694.9L405.8 694.5L407.2 694.2L408.7 693.9L410.1 693.5L411.5 693.2L412.9 692.9L414.3 692.6L415.7 692.3L417.1 691.9L418.4 691.6L419.8 691.3L421.2 691.0L422.5 690.7L423.9 690.4L425.2 690.1L426.6 689.8L427.9 689.5L429.2 689.3L430.6 689.0L431.9 688.7L433.2 688.4L434.5 688.2L435.7 687.9L437.0 687.7L438.3 687.4L439.6 687.1L440.8 686.9L442.1 686.7L443.3 686.4L444.5 686.2L445.7 686.0L447.0 685.7L448.2 685.5L449.4 685.3L450.5 685.1L451.7 684.9L452.9 684.7L454.1 684.5L455.2 684.3L456.4 684.1L457.5 683.9L458.6 683.7L459.7 683.6L460.9 683.4L462.0 683.2L463.1 683.1L464.1 682.9L465.2 682.8L466.3 682.6L467.3 682.5L468.4 682.4L469.4 682.2L470.4 682.1L471.5 682.0L472.5 681.9L473.5 681.8L474.5 681.7L475.4 681.6L476.4 681.5L477.4 681.4L478.3 681.3L479.3 681.2L480.2 681.1L481.1 681.1" stroke="#008000" stroke-width="2.00" fill="none" stroke-linejoin="round" stroke-linecap="butt" stroke-opacity="0.50"/>
<path d="M481.1 681.1L482.0 681.0L482.9 681.0L483.8 680.9L484.7 680.9L485.6 680.8L486.4 680.8L487.3 680.8L488.1 680.8L489.0 680.7L489.8 680.7L490.6 680.7L491.4 680.7L492.2 680.7L493.0 680.8L493.7 680.8L494.5 680.8L495.2 680.8L496.0 680.9L496.7 680.9" stroke="#008000" stroke-width="2.00" fill="none" stroke-linejoin="round" stroke-linecap="butt" stroke-opacity="0.58"/>
<path d="M496.7 680.9L497.4 681.0L498.1 681.0L498.8 681.1L499.5 681.2L500.2 681.2L500.8 681.3L501.5 681.4L502.1 681.5L502.8 681.6L503.4 681.7L504.0 681.8L504.6 681.9L505.2 682.0L505.8 682.1" stroke="#008000" stroke-width="2.00" fill="none" stroke-linejoin="round" stroke-linecap="butt" stroke-opacity="0.67"/>
<path d="M505.8 682.1L506.4 682.2L507.0 682.4L507.5 682.5L508.1 682.7L508.6 682.8L509.2 683.0L509.7 683.1L510.2 683.3L510.7 683.5L511.2 683.6L511.7 683.8L512.2 684.0L512.6 684.2L513.1 684.4" stroke="#008000" stroke-width="2.00" fill="none" stroke-linejoin="round" stroke-linecap="butt" stroke-opacity="0.75"/>
<path d="M513.1 684.4L513.5 684.6L514.0 684.8L514.4 685.0L514.9 685.2L515.3 685.4L515.7 685.7L516.1 685.9L516.5 686.1L516.9 686.4L517.2 686.6L517.6 686.9L518.0 687.1L518.3 687.4L518.7 687.6L519.0 687.9L519.3 688.2L519.6 688.5L519.9 688.7" stroke="#008000" stroke-width="2.00" fill="none" stroke-linejoin="round" stroke-linecap="butt" stroke-opacity="0.83"/>
<path d="M519.9 688.7L520.2 689.0L520.5 689.3L520.8 689.6L521.1 689.9L521.4 690.2L521.6 690.5L521.9 690.9L522.1 691.2L522.4 691.5L522.6 691.8L522.8 692.2L523.0 692.5L523.3 692.9L523.5 693.2L523.7 693.6L523.8 693.9L524.0 694.3L524.2 694.7L524.4 695.0L524.5 695.4L524.7 695.8L524.8 696.2L524.9 696.6L525.1 696.9L525.2 697.3L525.3 697.7L525.4 698.1L525.5 698.6L525.6 699.0L525.7 699.4L525.8 699.8L525.9 700.2L525.9 700.7L526.0 701.1L526.0 701.5L526.1 702.0L526.1 702.4L526.2 702.9L526.2 703.3L526.2 703.8L526.2 704.3L526.2 704.7L526.2 705.2L526.2 705.7L526.2 706.2L526.2 706.7L526.2 707.1L526.2 707.6L526.1 708.1L526.1 708.6L526.0 709.1L526.0 709.6L525.9 710.1L525.9 710.7L525.8 711.2L525.7 711.7L525.6 712.2L525.5 712.8L525.4 713.3L525.3 713.8L525.2 714.4L525.1 714.9L525.0 715.5L524.9 716.0L524.8 716.6L524.6 717.1L524.5 717.7L524.3 718.3L524.2 718.8L524.0 719.4L523.9 720.0L523.7 720.6L523.5 721.1L523.4 721.7L523.2 722.3L523.0 722.9L522.8 723.5L522.6 724.1L522.4 724.7L522.2 725.3L522.0 725.9L521.8 726.5L521.6 727.1L521.4 727.8L521.2 728.4L521.0 729.0L520.7 729.6L520.5 730.2L520.3 730.9L520.1 731.5L519.8 732.1L519.6 732.7L519.4 733.4" stroke="#008000" stroke-width="2.00" fill="none" stroke-linejoin="round" stroke-linecap="butt" stroke-opacity="0.92"/>
<path d="M519.4 733.4L519.1 734.0L518.9 734.6L518.7 735.3L518.4 735.9L518.2 736.5L517.9 737.2L517.7 737.8L517.5 738.4L517.2 739.1L517.0 739.7L516.7 740.4L516.5 741.0L516.2 741.6L516.0 742.3L515.8 742.9L515.5 743.6L515.3 744.2L515.0 744.8L514.8 745.5L514.6 746.1L514.3 746.8L514.1 747.4L513.9 748.0L513.7 748.7L513.4 749.3L513.2 749.9L513.0 750.6L512.8 751.2L512.6 751.8L512.4 752.5L512.2 753.1L512.0 753.7L511.8 754.3L511.6 754.9L511.4 755.6L511.2 756.2L511.0 756.8L510.9 757.4L510.7 758.0L510.5 758.6L510.4 759.2L510.2 759.8L510.1 760.4L509.9 761.0L509.8 761.6L509.6 762.2L509.5 762.8L509.4 763.4L509.3 763.9L509.2 764.5L509.1 765.1L509.0 765.7L508.9 766.2L508.8 766.8L508.8 767.3L508.7 767.9L508.7 768.4L508.6 769.0L508.6 769.5L508.6 770.0L508.5 770.6L508.5 771.1L508.5 771.6L508.5 772.1L508.6 772.6L508.6 773.1L508.6 773.6L508.7 774.1L508.8 774.6L508.8 775.1L508.9 775.5L509.0 776.0L509.1 776.5L509.2 776.9L509.3 777.4L509.5 777.8L509.6 778.2L509.8 778.7L510.0 779.1L510.1 779.5L510.3 779.9L510.6 780.3L510.8 780.7L511.0 781.1L511.3 781.4L511.5 781.8L511.8 782.1L512.1 782.5L512.4 782.8L512.7 783.2L513.0 783.5L513.4 783.8" stroke="#008000" stroke-width="2.00" fill="none" stroke-linejoin="round" stroke-linecap="butt"/>
<g fill="none" stroke-linecap="round" stroke-linejoin="round"><path d="M194.3 668.5h0" stroke="#389c66" stroke-width="7.5"/><path d="M194.4 669.9h0L194.5 671.2" stroke="#359a66" stroke-width="7.5"/><path d="M194.6 672.6h0" stroke="#339966" stroke-width="7.5"/><path d="M194.7 673.8h0L194.8 675.1" stroke="#309866" stroke-width="7.5"/><path d="M195.0 676.3h0L195.1 677.5L195.3 678.6" stroke="#2d9666" stroke-width="7.5"/><path d="M195.5 679.7h0L195.8 680.8" stroke="#2b9566" stroke-width="7.5"/><path d="M196.0 681.8h0L196.3 682.8" stroke="#289366" stroke-width="7.5"/><path d="M196.6 683.8h0L196.9 684.7L197.2 685.6" stroke="#259266" stroke-width="7.5"/><path d="M197.5 686.4h0L197.8 687.2L198.2 688.0L198.6 688.7" stroke="#239166" stroke-width="7.5"/><path d="M199.0 689.4h0L199.4 690.0L199.8 690.6L200.3 691.2" stroke="#209066" stroke-width="7.5"/><path d="M200.7 691.7h0L201.2 692.2L201.7 692.7L202.2 693.1L202.7 693.4L203.3 693.8L203.8 694.1L204.4 694.3L205.0 694.5L205.6 694.7L206.2 694.8L206.8 694.9L207.4 694.9L208.1 694.9L208.7 694.8L209.4 694.7L210.1 694.6L210.8 694.4L211.5 694.2L212.3 693.9" stroke="#1d8e66" stroke-width="7.5"/><path d="M213.0 693.6h0L213.8 693.3L214.6 692.9L215.3 692.5" stroke="#209066" stroke-width="7.5"/><path d="M216.1 692.0h0L217.0 691.5L217.8 691.0" stroke="#239166" stroke-width="7.5"/><path d="M218.6 690.4h0L219.5 689.7L220.3 689.0" stroke="#259266" stroke-width="7.5"/><path d="M221.2 688.3h0L222.1 687.6" stroke="#289366" stroke-width="7.5"/><path d="M223.0 686.8h0L223.9 685.9" stroke="#2b9566" stroke-width="7.5"/><path d="M224.8 685.0h0L225.7 684.1" stroke="#2d9666" stroke-width="7.5"/><path d="M226.7 683.2h0L227.6 682.2" stroke="#309866" stroke-width="7.5"/><path d="M228.6 681.1h0L229.6 680.1" stroke="#339966" stroke-width="7.5"/><path d="M230.6 678.9h0L231.6 677.8" stroke="#359a66" stroke-width="7.5"/><path d="M232.6 676.6h0" stroke="#389c66" stroke-width="7.5"/><path d="M233.6 675.4h0L234.6 674.1" stroke="#3b9d66" stroke-width="7.5"/><path d="M235.7 672.9h0" stroke="#3d9e66" stroke-width="7.5"/><path d="M236.7 671.5h0L237.8 670.2" stroke="#40a066" stroke-width="7.5"/><path d="M238.9 668.8h0" stroke="#43a166" stroke-width="7.5"/><path d="M240.0 667.4h0" stroke="#46a266" stroke-width="7.5"/><path d="M241.1 665.9h0L242.2 664.4" stroke="#48a366" stroke-width="7.5"/><path d="M243.3 662.9h0" stroke="#4ba566" stroke-width="7.5"/><path d="M244.4 661.4h0" stroke="#4ea666" stroke-width="7.5"/><path d="M245.5 659.8h0" stroke="#50a866" stroke-width="7.5"/><path d="M246.7 658.2h0L247.8 656.6" stroke="#53a966" stroke-width="7.5"/><path d="M249.0 654.9h0" stroke="#56ab66" stroke-width="7.5"/><path d="M250.2 653.3h0" stroke="#58ac66" stroke-width="7.5"/><path d="M251.4 651.6h0" stroke="#5bad66" stroke-width="7.5"/><path d="M252.6 649.8h0" stroke="#5eae66" stroke-width="7.5"/><path d="M253.8 648.1h0" stroke="#61b066" stroke-width="7.5"/><path d="M255.0 646.3h0L256.2 644.5" stroke="#63b166" stroke-width="7.5"/><path d="M257.4 642.7h0" stroke="#66b266" stroke-width="7.5"/><path d="M258.7 640.9h0" stroke="#69b466" stroke-width="7.5"/><path d="M259.9 639.1h0" stroke="#6bb566" stroke-width="7.5"/><path d="M261.2 637.2h0" stroke="#6eb666" stroke-width="7.5"/><path d="M262.5 635.3h0" stroke="#71b866" stroke-width="7.5"/><path d="M263.7 633.5h0" stroke="#73b966" stroke-width="7.5"/><path d="M265.0 631.6h0" stroke="#76bb66" stroke-width="7.5"/><path d="M266.3 629.7h0" stroke="#79bc66" stroke-width="7.5"/><path d="M267.6 627.8h0" stroke="#7bbd66" stroke-width="7.5"/><path d="M268.9 625.8h0" stroke="#7ebe66" stroke-width="7.5"/><path d="M270.3 623.9h0" stroke="#81c066" stroke-width="7.5"/><path d="M271.6 622.0h0L272.9 620.1" stroke="#84c266" stroke-width="7.5"/><path d="M274.3 618.1h0" stroke="#86c266" stroke-width="7.5"/><path d="M275.6 616.2h0" stroke="#89c466" stroke-width="7.5"/><path d="M277.0 614.3h0" stroke="#8cc666" stroke-width="7.5"/><path d="M278.4 612.4h0" stroke="#8ec666" stroke-width="7.5"/><path d="M279.8 610.4h0" stroke="#91c866" stroke-width="7.5"/><path d="M281.1 608.5h0" stroke="#94ca66" stroke-width="7.5"/><path d="M282.5 606.6h0" stroke="#96cb66" stroke-width="7.5"/><path d="M283.9 604.7h0" stroke="#99cc66" stroke-width="7.5"/><path d="M285.4 602.8h0" stroke="#9cce66" stroke-width="7.5"/><path d="M286.8 600.9h0" stroke="#9ece66" stroke-width="7.5"/><path d="M288.2 599.0h0L289.6 597.1" stroke="#a1d066" stroke-width="7.5"/><path d="M291.1 595.2h0" stroke="#a4d266" stroke-width="7.5"/><path d="M292.5 593.4h0" stroke="#a7d366" stroke-width="7.5"/><path d="M294.0 591.5h0" stroke="#a9d466" stroke-width="7.5"/><path d="M295.4 589.7h0" stroke="#acd666" stroke-width="7.5"/><path d="M296.9 587.9h0" stroke="#afd766" stroke-width="7.5"/><path d="M298.4 586.1h0L299.9 584.3" stroke="#b1d866" stroke-width="7.5"/><path d="M301.3 582.5h0" stroke="#b4da66" stroke-width="7.5"/><path d="M302.8 580.8h0" stroke="#b7db66" stroke-width="7.5"/><path d="M304.3 579.0h0" stroke="#b9dc66" stroke-width="7.5"/><path d="M305.8 577.3h0L307.3 575.6" stroke="#bcde66" stroke-width="7.5"/><path d="M308.9 573.9h0" stroke="#bfdf66" stroke-width="7.5"/><path d="M310.4 572.3h0" stroke="#c2e066" stroke-width="7.5"/><path d="M311.9 570.6h0L313.4 569.0" stroke="#c4e266" stroke-width="7.5"/><path d="M315.0 567.4h0" stroke="#c7e366" stroke-width="7.5"/><path d="M316.5 565.8h0L318.1 564.3" stroke="#cae466" stroke-width="7.5"/><path d="M319.6 562.7h0" stroke="#cce666" stroke-width="7.5"/><path d="M321.2 561.2h0L322.7 559.7" stroke="#cfe766" stroke-width="7.5"/><path d="M324.3 558.3h0L325.9 556.8" stroke="#d2e866" stroke-width="7.5"/><path d="M327.4 555.4h0" stroke="#d4ea66" stroke-width="7.5"/><path d="M329.0 554.0h0L330.6 552.7" stroke="#d7eb66" stroke-width="7.5"/><path d="M332.1 551.3h0L333.7 550.0" stroke="#daec66" stroke-width="7.5"/><path d="M335.3 548.7h0L336.9 547.4" stroke="#dcee66" stroke-width="7.5"/><path d="M338.5 546.2h0L340.1 544.9" stroke="#dfef66" stroke-width="7.5"/><path d="M341.7 543.7h0L343.3 542.6" stroke="#e2f066" stroke-width="7.5"/><path d="M344.9 541.4h0L346.5 540.3L348.1 539.2" stroke="#e5f266" stroke-width="7.5"/><path d="M349.7 538.1h0L351.3 537.0" stroke="#e7f366" stroke-width="7.5"/><path d="M352.9 536.0h0L354.5 535.0L356.1 534.0" stroke="#eaf466" stroke-width="7.5"/><path d="M357.7 533.0h0L359.3 532.1L360.9 531.1" stroke="#edf666" stroke-width="7.5"/><path d="M362.5 530.2h0L364.1 529.3L365.7 528.5" stroke="#eff766" stroke-width="7.5"/><path d="M367.3 527.6h0" stroke="#eff766" stroke-width="7.0"/><path d="M368.9 526.8h0L370.5 526.0L372.1 525.2L373.6 524.5" stroke="#f2f866" stroke-width="7.0"/><path d="M375.2 523.7h0L376.8 523.0L378.4 522.3L380.0 521.6L381.5 520.9" stroke="#f5fa66" stroke-width="7.0"/><path d="M383.1 520.3h0L384.7 519.6L386.2 519.0L387.8 518.4L389.4 517.8L390.9 517.2" stroke="#f7fb66" stroke-width="7.0"/><path d="M392.5 516.6h0L394.0 516.1L395.5 515.5L397.1 515.0L398.6 514.5L400.1 514.0L401.7 513.5L403.2 513.0L404.7 512.6L406.2 512.1" stroke="#fafc66" stroke-width="7.0"/><path d="M407.7 511.7h0L409.2 511.2L410.6 510.8L412.1 510.4L413.6 510.0L415.1 509.6L416.5 509.2L418.0 508.8L419.4 508.4L420.8 508.1L422.3 507.7L423.7 507.4L425.1 507.0L426.5 506.7L427.9 506.4L429.3 506.1L430.7 505.8L432.1 505.4L433.4 505.2L434.8 504.9L436.2 504.6L437.5 504.3" stroke="#fdfe66" stroke-width="7.0"/><path d="M438.8 504.0h0L440.2 503.8L441.5 503.5L442.8 503.3L444.1 503.0L445.4 502.8L446.7 502.5L447.9 502.3L449.2 502.1L450.5 501.9L451.7 501.7L453.0 501.4L454.2 501.2L455.4 501.0L456.6 500.9L457.8 500.7L459.0 500.5L460.2 500.3L461.4 500.1L462.6 500.0L463.7 499.8L464.9 499.7L466.0 499.5L467.1 499.4L468.3 499.2L469.4 499.1L470.5 499.0L471.6 498.9L472.6 498.7L473.7 498.6L474.8 498.5L475.8 498.4L476.9 498.3L477.9 498.2L478.9 498.2L479.9 498.1L480.9 498.0L481.9 497.9L482.9 497.9L483.9 497.8L484.8 497.8L485.8 497.7L486.7 497.7L487.6 497.6L488.5 497.6L489.5 497.6L490.3 497.6L491.2 497.6L492.1 497.6L493.0 497.6L493.8 497.6L494.7 497.6L495.5 497.6L496.3 497.6L497.1 497.6L497.9 497.7L498.7 497.7L499.5 497.8L500.2 497.8L501.0 497.9L501.7 497.9L502.4 498.0L503.2 498.1L503.9 498.2L504.6 498.3L505.3 498.4L505.9 498.5L506.6 498.6L507.3 498.7L507.9 498.8L508.6 498.9L509.2 499.0L509.8 499.2L510.4 499.3L511.0 499.5L511.6 499.6L512.2 499.8" stroke="#ffff66" stroke-width="7.0"/><path d="M512.8 499.9h0L513.3 500.1L513.9 500.3L514.4 500.5L514.9 500.6L515.5 500.8L516.0 501.0L516.5 501.2L517.0 501.5L517.5 501.7L517.9 501.9L518.4 502.1L518.9 502.4L519.3 502.6L519.7 502.9L520.2 503.1L520.6 503.4L521.0 503.6L521.4 503.9L521.8 504.2L522.2 504.5L522.6 504.8L522.9 505.1L523.3 505.4L523.6 505.7L524.0 506.0L524.3 506.3L524.6 506.7L525.0 507.0L525.3 507.4L525.6 507.7L525.9 508.1" stroke="#fdfe66" stroke-width="7.0"/><path d="M526.1 508.4h0L526.4 508.8L526.7 509.2L526.9 509.6L527.2 510.0L527.4 510.4L527.7 510.8L527.9 511.2L528.1 511.6L528.3 512.1L528.5 512.5L528.7 512.9L528.9 513.4L529.1 513.8L529.3 514.3L529.4 514.8L529.6 515.3" stroke="#fafc66" stroke-width="7.0"/><path d="M529.7 515.8h0L529.9 516.2L530.0 516.7L530.1 517.3L530.2 517.8L530.4 518.3L530.5 518.8L530.6 519.4L530.6 519.9L530.7 520.4L530.8 521.0" stroke="#f7fb66" stroke-width="7.0"/><path d="M530.9 521.6h0L530.9 522.1L531.0 522.7L531.0 523.3L531.1 523.9L531.1 524.5L531.1 525.1L531.2 525.8L531.2 526.4L531.2 527.0" stroke="#f5fa66" stroke-width="7.0"/><path d="M531.2 527.7h0L531.2 528.3L531.1 529.0L531.1 529.7L531.1 530.3L531.1 531.0L531.0 531.7L531.0 532.4" stroke="#f2f866" stroke-width="7.0"/><path d="M530.9 533.2h0L530.9 533.9L530.8 534.6L530.7 535.4L530.6 536.1L530.5 536.9" stroke="#eff766" stroke-width="7.0"/><path d="M530.4 537.7h0L530.4 538.5L530.2 539.3L530.1 540.1L530.0 540.9L529.9 541.8" stroke="#edf666" stroke-width="7.0"/><path d="M529.8 542.6h0L529.6 543.5L529.5 544.3L529.3 545.2L529.2 546.1" stroke="#eaf466" stroke-width="7.0"/><path d="M529.0 547.0h0L528.9 547.9L528.7 548.9L528.5 549.8" stroke="#e7f366" stroke-width="7.0"/><path d="M528.3 550.8h0L528.1 551.8L527.9 552.7L527.7 553.7" stroke="#e5f266" stroke-width="7.0"/><path d="M527.5 554.8h0L527.3 555.8L527.1 556.8L526.9 557.9" stroke="#e2f066" stroke-width="7.0"/><path d="M526.7 559.0h0L526.5 560.1L526.2 561.2" stroke="#dfef66" stroke-width="7.0"/><path d="M526.0 562.3h0L525.8 563.4L525.5 564.6L525.3 565.7" stroke="#dcee66" stroke-width="7.0"/><path d="M525.0 566.9h0L524.8 568.1" stroke="#daec66" stroke-width="7.0"/><path d="M524.5 569.3h0L524.3 570.5" stroke="#d7eb66" stroke-width="7.0"/><path d="M524.0 571.7h0" stroke="#d7eb66" stroke-width="7.5"/><path d="M523.8 573.0h0L523.5 574.3L523.2 575.6" stroke="#d4ea66" stroke-width="7.5"/><path d="M523.0 576.8h0L522.7 578.2" stroke="#d2e866" stroke-width="7.5"/><path d="M522.4 579.5h0L522.2 580.8L521.9 582.2" stroke="#cfe766" stroke-width="7.5"/><path d="M521.6 583.6h0L521.4 584.9" stroke="#cce666" stroke-width="7.5"/><path d="M521.1 586.3h0L520.8 587.8" stroke="#cae466" stroke-width="7.5"/><path d="M520.5 589.2h0L520.3 590.6" stroke="#c7e366" stroke-width="7.5"/><path d="M520.0 592.1h0L519.7 593.6" stroke="#c4e266" stroke-width="7.5"/><path d="M519.5 595.1h0L519.2 596.6" stroke="#c2e066" stroke-width="7.5"/><path d="M518.9 598.1h0L518.7 599.6" stroke="#bfdf66" stroke-width="7.5"/><path d="M518.4 601.1h0L518.1 602.7" stroke="#bcde66" stroke-width="7.5"/><path d="M517.9 604.3h0L517.6 605.9" stroke="#b9dc66" stroke-width="7.5"/><path d="M517.3 607.4h0L517.1 609.1" stroke="#b7db66" stroke-width="7.5"/><path d="M516.8 610.7h0L516.6 612.3" stroke="#b4da66" stroke-width="7.5"/><path d="M516.3 613.9h0" stroke="#b1d866" stroke-width="7.5"/><path d="M516.1 615.6h0L515.8 617.3" stroke="#afd766" stroke-width="7.5"/><path d="M515.6 618.9h0L515.4 620.6" stroke="#acd666" stroke-width="7.5"/><path d="M515.1 622.3h0" stroke="#a9d466" stroke-width="7.5"/><path d="M514.9 624.0h0L514.7 625.7" stroke="#a7d366" stroke-width="7.5"/><path d="M514.4 627.4h0L514.2 629.2" stroke="#a4d266" stroke-width="7.5"/><path d="M514.0 630.9h0" stroke="#a1d066" stroke-width="7.5"/><path d="M513.8 632.7h0L513.6 634.4" stroke="#9ece66" stroke-width="7.5"/><path d="M513.4 636.2h0" stroke="#9cce66" stroke-width="7.5"/><path d="M513.2 637.9h0L513.0 639.7" stroke="#99cc66" stroke-width="7.5"/><path d="M512.9 641.5h0" stroke="#96cb66" stroke-width="7.5"/><path d="M512.7 643.3h0L512.5 645.1" stroke="#94ca66" stroke-width="7.5"/><path d="M512.3 646.9h0" stroke="#91c866" stroke-width="7.5"/><path d="M512.2 648.7h0L512.0 650.5" stroke="#8ec666" stroke-width="7.5"/><path d="M511.9 652.3h0" stroke="#8cc666" stroke-width="7.5"/><path d="M511.8 654.1h0" stroke="#89c466" stroke-width="7.5"/><path d="M511.6 655.9h0L511.5 657.7" stroke="#86c266" stroke-width="7.5"/><path d="M511.4 659.5h0" stroke="#84c266" stroke-width="7.5"/><path d="M511.3 661.3h0L511.2 663.2" stroke="#81c066" stroke-width="7.5"/><path d="M511.1 665.0h0" stroke="#7ebe66" stroke-width="7.5"/><path d="M511.0 666.8h0" stroke="#7bbd66" stroke-width="7.5"/><path d="M510.9 668.6h0L510.9 670.4" stroke="#79bc66" stroke-width="7.5"/><path d="M510.8 672.2h0" stroke="#76bb66" stroke-width="7.5"/><path d="M510.8 674.0h0L510.7 675.8" stroke="#73b966" stroke-width="7.5"/><path d="M510.7 677.7h0" stroke="#71b866" stroke-width="7.5"/><path d="M510.7 679.4h0" stroke="#6eb666" stroke-width="7.5"/><path d="M510.7 681.2h0L510.7 683.0" stroke="#6bb566" stroke-width="7.5"/><path d="M510.7 684.8h0" stroke="#69b466" stroke-width="7.5"/><path d="M510.7 686.6h0" stroke="#66b266" stroke-width="7.5"/><path d="M510.8 688.3h0L510.8 690.1" stroke="#63b166" stroke-width="7.5"/><path d="M510.9 691.8h0" stroke="#61b066" stroke-width="7.5"/><path d="M510.9 693.6h0L511.0 695.3" stroke="#5eae66" stroke-width="7.5"/><path d="M511.1 697.0h0" stroke="#5bad66" stroke-width="7.5"/><path d="M511.2 698.7h0" stroke="#58ac66" stroke-width="7.5"/><path d="M511.3 700.4h0L511.4 702.1" stroke="#56ab66" stroke-width="7.5"/><path d="M511.6 703.8h0" stroke="#53a966" stroke-width="7.5"/><path d="M511.7 705.4h0L511.9 707.1" stroke="#50a866" stroke-width="7.5"/><path d="M512.0 708.7h0" stroke="#4ea666" stroke-width="7.5"/><path d="M512.2 710.3h0L512.4 711.9" stroke="#4ba566" stroke-width="7.5"/><path d="M512.6 713.4h0" stroke="#48a366" stroke-width="7.5"/><path d="M512.9 715.0h0L513.1 716.5" stroke="#46a266" stroke-width="7.5"/><path d="M513.4 718.1h0" stroke="#43a166" stroke-width="7.5"/><path d="M513.6 719.6h0L513.9 721.0" stroke="#40a066" stroke-width="7.5"/><path d="M514.2 722.5h0" stroke="#3d9e66" stroke-width="7.5"/><path d="M514.5 723.9h0L514.8 725.3" stroke="#3b9d66" stroke-width="7.5"/></g>
<g fill="none" stroke-linecap="round" stroke-linejoin="round"><path d="M346.7 465.1h0L347.8 464.9L349.0 464.8L350.1 464.7" stroke="#ffff66" stroke-width="7.0"/><path d="M351.3 464.5h0L352.4 464.4L353.4 464.3L354.5 464.2L355.6 464.1L356.6 464.0L357.6 463.9L358.6 463.9L359.6 463.8L360.6 463.8L361.5 463.7L362.4 463.7L363.4 463.6L364.3 463.6L365.2 463.6L366.0 463.6L366.9 463.6L367.7 463.6L368.5 463.6L369.4 463.6L370.2 463.7L370.9 463.7L371.7 463.8L372.4 463.8L373.2 463.9L373.9 464.0L374.6 464.0L375.3 464.1L376.0 464.2L376.6 464.3L377.3 464.4L377.9 464.5L378.5 464.7L379.1 464.8L379.7 464.9L380.3 465.1L380.9 465.2L381.4 465.4L381.9 465.5L382.5 465.7L383.0 465.9" stroke="#ffff66" stroke-width="6.5"/><path d="M383.5 466.1h0L384.0 466.3L384.4 466.5L384.9 466.7L385.3 466.9L385.7 467.1L386.2 467.4L386.6 467.6L387.0 467.8L387.3 468.1L387.7 468.4L388.1 468.6L388.4 468.9L388.7 469.2L389.0 469.5L389.3 469.8L389.9 470.4L390.4 471.0L390.9 471.7L391.4 472.4L391.7 473.1" stroke="#fdfe66" stroke-width="6.5"/><path d="M391.9 473.5h0" stroke="#fdfe66" stroke-width="7.0"/><path d="M392.2 474.3h0L392.5 475.1L392.7 475.9L392.9 476.8L393.1 477.7L393.2 478.7L393.2 479.6L393.2 480.6" stroke="#fafc66" stroke-width="7.0"/><path d="M393.2 481.6h0L393.2 482.7L393.1 483.8L393.0 484.4L392.9 484.9L392.8 485.5L392.7 486.1L392.6 486.7L392.5 487.3L392.4 487.9" stroke="#f7fb66" stroke-width="7.0"/><path d="M392.3 488.5h0L392.1 489.2L392.0 489.8L391.8 490.4L391.7 491.1L391.5 491.8L391.3 492.5L391.1 493.1L390.9 493.8" stroke="#f5fa66" stroke-width="7.0"/><path d="M390.7 494.5h0L390.5 495.3L390.3 496.0L390.0 496.7L389.8 497.5L389.5 498.2L389.3 499.0" stroke="#f2f866" stroke-width="7.0"/><path d="M389.0 499.8h0L388.7 500.6L388.5 501.4L388.2 502.2L387.9 503.0L387.6 503.8" stroke="#eff766" stroke-width="7.0"/><path d="M387.3 504.7h0L386.9 505.5L386.6 506.4L386.3 507.3L385.9 508.2L385.6 509.1" stroke="#edf666" stroke-width="7.0"/><path d="M385.2 510.0h0L384.9 510.9L384.5 511.9L384.1 512.8" stroke="#eaf466" stroke-width="7.0"/><path d="M383.7 513.8h0L383.3 514.8L383.0 515.8L382.6 516.8L382.1 517.8" stroke="#e7f366" stroke-width="7.0"/><path d="M381.7 518.8h0L381.3 519.9L380.9 521.0L380.4 522.0" stroke="#e5f266" stroke-width="7.0"/><path d="M380.0 523.1h0L379.6 524.2L379.1 525.4" stroke="#e2f066" stroke-width="7.0"/><path d="M378.7 526.5h0L378.2 527.7L377.8 528.8" stroke="#dfef66" stroke-width="7.0"/><path d="M377.3 530.0h0L376.8 531.2L376.3 532.4L375.9 533.6" stroke="#dcee66" stroke-width="7.0"/><path d="M375.4 534.9h0L374.9 536.1" stroke="#daec66" stroke-width="7.0"/><path d="M374.4 537.4h0L373.9 538.7L373.4 540.0" stroke="#d7eb66" stroke-width="7.0"/><path d="M373.0 541.4h0L372.5 542.7L372.0 544.1" stroke="#d4ea66" stroke-width="7.0"/><path d="M371.5 545.5h0L371.0 546.9" stroke="#d2e866" stroke-width="7.0"/><path d="M370.5 548.3h0L370.0 549.7" stroke="#cfe766" stroke-width="7.0"/><path d="M369.5 551.1h0" stroke="#cce666" stroke-width="7.0"/><path d="M368.9 552.6h0L368.4 554.1" stroke="#cce666" stroke-width="7.5"/><path d="M367.9 555.6h0L367.4 557.1" stroke="#cae466" stroke-width="7.5"/><path d="M366.9 558.6h0L366.4 560.2" stroke="#c7e366" stroke-width="7.5"/><path d="M365.9 561.7h0L365.4 563.3" stroke="#c4e266" stroke-width="7.5"/><path d="M364.9 564.9h0L364.4 566.5" stroke="#c2e066" stroke-width="7.5"/><path d="M363.9 568.2h0" stroke="#bfdf66" stroke-width="7.5"/><path d="M363.4 569.8h0L362.9 571.5" stroke="#bcde66" stroke-width="7.5"/><path d="M362.4 573.1h0L361.9 574.8" stroke="#b9dc66" stroke-width="7.5"/><path d="M361.4 576.5h0L360.9 578.2" stroke="#b7db66" stroke-width="7.5"/><path d="M360.4 580.0h0" stroke="#b4da66" stroke-width="7.5"/><path d="M359.9 581.7h0L359.4 583.5" stroke="#b1d866" stroke-width="7.5"/><path d="M359.0 585.3h0L358.5 587.1" stroke="#afd766" stroke-width="7.5"/><path d="M358.0 588.9h0" stroke="#acd666" stroke-width="7.5"/><path d="M357.5 590.7h0L357.1 592.5" stroke="#a9d466" stroke-width="7.5"/><path d="M356.6 594.3h0" stroke="#a7d366" stroke-width="7.5"/><path d="M356.1 596.2h0L355.7 598.1" stroke="#a4d266" stroke-width="7.5"/><path d="M355.2 599.9h0" stroke="#a1d066" stroke-width="7.5"/><path d="M354.8 601.8h0L354.4 603.7" stroke="#9ece66" stroke-width="7.5"/><path d="M353.9 605.6h0" stroke="#9cce66" stroke-width="7.5"/><path d="M353.5 607.6h0" stroke="#99cc66" stroke-width="7.5"/><path d="M353.1 609.5h0L352.6 611.4" stroke="#96cb66" stroke-width="7.5"/><path d="M352.2 613.4h0" stroke="#94ca66" stroke-width="7.5"/><path d="M351.8 615.4h0" stroke="#91c866" stroke-width="7.5"/><path d="M351.4 617.3h0L351.0 619.3" stroke="#8ec666" stroke-width="7.5"/><path d="M350.6 621.3h0" stroke="#8cc666" stroke-width="7.5"/><path d="M350.3 623.3h0" stroke="#89c466" stroke-width="7.5"/><path d="M349.9 625.3h0L349.5 627.3" stroke="#86c266" stroke-width="7.5"/><path d="M349.2 629.3h0" stroke="#84c266" stroke-width="7.5"/><path d="M348.8 631.3h0" stroke="#81c066" stroke-width="7.5"/><path d="M348.5 633.4h0L348.1 635.4" stroke="#7ebe66" stroke-width="7.5"/><path d="M347.8 637.4h0" stroke="#7bbd66" stroke-width="7.5"/><path d="M347.5 639.5h0" stroke="#79bc66" stroke-width="7.5"/><path d="M347.2 641.5h0" stroke="#76bb66" stroke-width="7.5"/><path d="M346.9 643.5h0L346.6 645.6" stroke="#73b966" stroke-width="7.5"/><path d="M346.3 647.6h0" stroke="#71b866" stroke-width="7.5"/><path d="M346.1 649.7h0" stroke="#6eb666" stroke-width="7.5"/><path d="M345.8 651.7h0" stroke="#6bb566" stroke-width="7.5"/><path d="M345.5 653.8h0" stroke="#69b466" stroke-width="7.5"/><path d="M345.3 655.8h0L345.1 657.9" stroke="#66b266" stroke-width="7.5"/><path d="M344.8 659.9h0" stroke="#63b166" stroke-width="7.5"/><path d="M344.6 662.0h0" stroke="#61b066" stroke-width="7.5"/><path d="M344.4 664.0h0" stroke="#5eae66" stroke-width="7.5"/><path d="M344.2 666.0h0" stroke="#5bad66" stroke-width="7.5"/><path d="M344.1 668.1h0L343.9 670.1" stroke="#58ac66" stroke-width="7.5"/><path d="M343.7 672.1h0" stroke="#56ab66" stroke-width="7.5"/><path d="M343.6 674.1h0" stroke="#53a966" stroke-width="7.5"/><path d="M343.5 676.1h0" stroke="#50a866" stroke-width="7.5"/><path d="M343.4 678.1h0" stroke="#4ea666" stroke-width="7.5"/><path d="M343.2 680.0h0L343.2 682.0" stroke="#4ba566" stroke-width="7.5"/><path d="M343.1 684.0h0" stroke="#48a366" stroke-width="7.5"/><path d="M343.0 685.9h0" stroke="#46a266" stroke-width="7.5"/><path d="M342.9 687.8h0" stroke="#43a166" stroke-width="7.5"/><path d="M342.9 689.7h0L342.9 691.6" stroke="#40a066" stroke-width="7.5"/><path d="M342.9 693.5h0" stroke="#3d9e66" stroke-width="7.5"/><path d="M342.8 695.3h0" stroke="#3b9d66" stroke-width="7.5"/><path d="M342.9 697.2h0" stroke="#389c66" stroke-width="7.5"/><path d="M342.9 699.0h0L342.9 700.8" stroke="#359a66" stroke-width="7.5"/><path d="M343.0 702.6h0" stroke="#339966" stroke-width="7.5"/><path d="M343.0 704.3h0" stroke="#309866" stroke-width="7.5"/><path d="M343.1 706.0h0L343.2 707.8" stroke="#2d9666" stroke-width="7.5"/><path d="M343.3 709.4h0" stroke="#2b9566" stroke-width="7.5"/><path d="M343.5 711.1h0" stroke="#289366" stroke-width="7.5"/><path d="M343.6 712.7h0L343.8 714.3" stroke="#259266" stroke-width="7.5"/><path d="M343.9 715.9h0" stroke="#239166" stroke-width="7.5"/><path d="M344.1 717.4h0L344.3 718.9" stroke="#209066" stroke-width="7.5"/><path d="M344.5 720.4h0L344.8 721.9" stroke="#1d8e66" stroke-width="7.5"/><path d="M345.0 723.3h0" stroke="#1a8c66" stroke-width="7.5"/><path d="M345.3 724.7h0L345.6 726.0" stroke="#188c66" stroke-width="7.5"/><path d="M345.9 727.3h0L346.2 728.6" stroke="#158a66" stroke-width="7.5"/><path d="M346.5 729.8h0" stroke="#128866" stroke-width="7.5"/><path d="M346.9 731.0h0L347.3 732.2L347.6 733.3" stroke="#108866" stroke-width="7.5"/><path d="M348.0 734.3h0L348.5 735.4" stroke="#0d8666" stroke-width="7.5"/><path d="M348.9 736.4h0L349.3 737.3" stroke="#0a8466" stroke-width="7.5"/><path d="M349.8 738.2h0L350.3 739.1L350.8 739.9" stroke="#088466" stroke-width="7.5"/><path d="M351.3 740.6h0L351.8 741.4L352.3 742.0" stroke="#058266" stroke-width="7.5"/><path d="M352.9 742.7h0L353.5 743.2L354.1 743.7L354.7 744.2L355.3 744.6L355.9 745.0" stroke="#028066" stroke-width="7.5"/><path d="M356.5 745.3h0L357.2 745.6L357.9 745.8L358.6 746.0L359.3 746.1L360.0 746.1L360.7 746.1L361.5 746.1L362.2 745.9" stroke="#008066" stroke-width="7.5"/><path d="M363.0 745.8h0L363.8 745.5L364.6 745.2L365.4 744.9L366.3 744.5" stroke="#028066" stroke-width="7.5"/><path d="M367.1 744.0h0L368.0 743.5L368.9 742.9" stroke="#058266" stroke-width="7.5"/><path d="M369.8 742.2h0L370.7 741.5L371.6 740.8" stroke="#088466" stroke-width="7.5"/><path d="M372.5 739.9h0L373.5 739.0" stroke="#0a8466" stroke-width="7.5"/><path d="M374.4 738.1h0L375.4 737.1" stroke="#0d8666" stroke-width="7.5"/><path d="M376.4 736.0h0" stroke="#108866" stroke-width="7.5"/><path d="M377.4 734.9h0L378.4 733.7" stroke="#128866" stroke-width="7.5"/><path d="M379.5 732.5h0" stroke="#158a66" stroke-width="7.5"/><path d="M380.5 731.2h0L381.6 729.9" stroke="#188c66" stroke-width="7.5"/><path d="M382.7 728.5h0" stroke="#1a8c66" stroke-width="7.5"/><path d="M383.8 727.1h0L384.9 725.6" stroke="#1d8e66" stroke-width="7.5"/><path d="M386.0 724.1h0" stroke="#209066" stroke-width="7.5"/><path d="M387.1 722.5h0" stroke="#239166" stroke-width="7.5"/><path d="M388.3 720.9h0" stroke="#259266" stroke-width="7.5"/><path d="M389.5 719.3h0" stroke="#289366" stroke-width="7.5"/><path d="M390.6 717.6h0L391.8 715.9" stroke="#2b9566" stroke-width="7.5"/><path d="M393.0 714.1h0" stroke="#2d9666" stroke-width="7.5"/><path d="M394.3 712.3h0" stroke="#309866" stroke-width="7.5"/><path d="M395.5 710.5h0" stroke="#339966" stroke-width="7.5"/><path d="M396.7 708.6h0" stroke="#359a66" stroke-width="7.5"/><path d="M398.0 706.7h0" stroke="#389c66" stroke-width="7.5"/><path d="M399.3 704.8h0" stroke="#3b9d66" stroke-width="7.5"/><path d="M400.6 702.8h0" stroke="#3d9e66" stroke-width="7.5"/><path d="M401.9 700.9h0" stroke="#40a066" stroke-width="7.5"/><path d="M403.2 698.8h0" stroke="#43a166" stroke-width="7.5"/><path d="M404.5 696.8h0" stroke="#46a266" stroke-width="7.5"/><path d="M405.9 694.8h0" stroke="#48a366" stroke-width="7.5"/><path d="M407.2 692.7h0" stroke="#4ba566" stroke-width="7.5"/><path d="M408.6 690.6h0" stroke="#4ea666" stroke-width="7.5"/><path d="M410.0 688.4h0" stroke="#50a866" stroke-width="7.5"/><path d="M411.4 686.3h0" stroke="#53a966" stroke-width="7.5"/><path d="M412.8 684.1h0" stroke="#56ab66" stroke-width="7.5"/><path d="M414.2 682.0h0" stroke="#58ac66" stroke-width="7.5"/><path d="M415.6 679.8h0" stroke="#5bad66" stroke-width="7.5"/><path d="M417.1 677.6h0" stroke="#61b066" stroke-width="7.5"/><path d="M418.5 675.4h0" stroke="#63b166" stroke-width="7.5"/><path d="M420.0 673.2h0" stroke="#66b266" stroke-width="7.5"/><path d="M421.5 670.9h0" stroke="#69b466" stroke-width="7.5"/><path d="M422.9 668.7h0" stroke="#6bb566" stroke-width="7.5"/><path d="M424.4 666.4h0" stroke="#6eb666" stroke-width="7.5"/><path d="M425.9 664.2h0" stroke="#71b866" stroke-width="7.5"/><path d="M427.4 661.9h0" stroke="#73b966" stroke-width="7.5"/><path d="M429.0 659.7h0" stroke="#76bb66" stroke-width="7.5"/><path d="M430.5 657.4h0" stroke="#79bc66" stroke-width="7.5"/><path d="M432.0 655.2h0" stroke="#7bbd66" stroke-width="7.5"/><path d="M433.6 652.9h0" stroke="#7ebe66" stroke-width="7.5"/><path d="M435.1 650.7h0" stroke="#81c066" stroke-width="7.5"/><path d="M436.7 648.4h0" stroke="#84c266" stroke-width="7.5"/><path d="M438.3 646.2h0" stroke="#86c266" stroke-width="7.5"/><path d="M439.8 644.0h0" stroke="#89c466" stroke-width="7.5"/><path d="M441.4 641.8h0" stroke="#8cc666" stroke-width="7.5"/><path d="M443.0 639.5h0" stroke="#91c866" stroke-width="7.5"/><path d="M444.6 637.3h0" stroke="#94ca66" stroke-width="7.5"/><path d="M446.2 635.1h0" stroke="#96cb66" stroke-width="7.5"/><path d="M447.8 632.9h0" stroke="#99cc66" stroke-width="7.5"/><path d="M449.4 630.8h0" stroke="#9cce66" stroke-width="7.5"/><path d="M451.0 628.6h0L452.7 626.5" stroke="#9ece66" stroke-width="7.5"/><path d="M454.3 624.3h0" stroke="#a1d066" stroke-width="7.5"/><path d="M455.9 622.2h0" stroke="#a4d266" stroke-width="7.5"/><path d="M457.5 620.1h0" stroke="#a7d366" stroke-width="7.5"/><path d="M459.2 618.0h0" stroke="#a9d466" stroke-width="7.5"/><path d="M460.8 616.0h0" stroke="#acd666" stroke-width="7.5"/><path d="M462.5 613.9h0" stroke="#afd766" stroke-width="7.5"/><path d="M464.1 611.9h0" stroke="#b1d866" stroke-width="7.5"/><path d="M465.8 609.9h0" stroke="#b4da66" stroke-width="7.5"/><path d="M467.4 607.9h0" stroke="#b7db66" stroke-width="7.5"/><path d="M469.1 606.0h0L470.7 604.1" stroke="#b9dc66" stroke-width="7.5"/><path d="M472.4 602.2h0" stroke="#bcde66" stroke-width="7.5"/><path d="M474.0 600.3h0" stroke="#bfdf66" stroke-width="7.5"/><path d="M475.7 598.4h0" stroke="#c2e066" stroke-width="7.5"/><path d="M477.4 596.6h0L479.0 594.8" stroke="#c4e266" stroke-width="7.5"/><path d="M480.7 593.0h0" stroke="#c7e366" stroke-width="7.5"/><path d="M482.3 591.2h0" stroke="#cae466" stroke-width="7.5"/><path d="M484.0 589.5h0L485.7 587.8" stroke="#cce666" stroke-width="7.5"/><path d="M487.3 586.1h0" stroke="#cfe766" stroke-width="7.5"/><path d="M489.0 584.5h0L490.7 582.8" stroke="#d2e866" stroke-width="7.5"/><path d="M492.3 581.2h0" stroke="#d4ea66" stroke-width="7.5"/><path d="M494.0 579.7h0L495.7 578.1" stroke="#d7eb66" stroke-width="7.5"/><path d="M497.3 576.6h0" stroke="#daec66" stroke-width="7.5"/><path d="M499.0 575.2h0L500.6 573.7" stroke="#dcee66" stroke-width="7.5"/><path d="M502.3 572.3h0L504.0 570.9" stroke="#dfef66" stroke-width="7.5"/><path d="M505.6 569.5h0L507.3 568.2" stroke="#e2f066" stroke-width="7.5"/><path d="M508.9 566.9h0L510.6 565.6" stroke="#e5f266" stroke-width="7.5"/><path d="M512.3 564.3h0L513.9 563.1" stroke="#e7f366" stroke-width="7.5"/><path d="M515.6 561.9h0L517.2 560.8L518.9 559.6" stroke="#eaf466" stroke-width="7.5"/><path d="M520.5 558.5h0L522.2 557.4" stroke="#edf666" stroke-width="7.5"/><path d="M523.8 556.4h0L525.4 555.3L527.1 554.3" stroke="#eff766" stroke-width="7.5"/><path d="M528.7 553.4h0L530.4 552.4L532.0 551.5L533.6 550.6" stroke="#f2f866" stroke-width="7.0"/><path d="M535.2 549.7h0L536.9 548.8L538.5 548.0L540.1 547.2" stroke="#f5fa66" stroke-width="7.0"/><path d="M541.7 546.4h0L543.3 545.7L545.0 544.9L546.6 544.2L548.2 543.5" stroke="#f7fb66" stroke-width="7.0"/><path d="M549.8 542.8h0L551.4 542.2L553.0 541.5L554.5 540.9L556.1 540.3L557.7 539.7L559.3 539.1" stroke="#fafc66" stroke-width="7.0"/><path d="M560.9 538.6h0L562.5 538.0L564.0 537.5L565.6 537.0L567.2 536.5L568.7 535.9L570.3 535.5L571.8 535.0L573.4 534.5L574.9 534.0L576.4 533.6L578.0 533.1" stroke="#fdfe66" stroke-width="7.0"/><path d="M579.5 532.7h0L581.0 532.2L582.6 531.8L584.1 531.4L585.6 531.0L587.1 530.6L588.6 530.2L590.1 529.8L591.6 529.4L593.1 529.1L594.6 528.7L596.1 528.4L597.5 528.0L599.0 527.7L600.5 527.3L601.9 527.0L603.4 526.7L604.8 526.4L606.3 526.1L607.7 525.8L609.2 525.5L610.6 525.2L612.0 524.9L613.4 524.6L614.8 524.3L616.2 524.0L617.7 523.7L619.0 523.5L620.4 523.2L621.8 522.9L623.2 522.6L624.6 522.4L626.0 522.1L627.3 521.8L628.7 521.6L630.0 521.3L631.4 521.1L632.7 520.8L634.0 520.6L635.4 520.3L636.7 520.1L638.0 519.9L639.3 519.6L640.6 519.4L641.9 519.2L643.2 518.9L644.5 518.7L645.8 518.5L647.0 518.3L648.3 518.1L649.6 517.9L650.8 517.7L652.1 517.5L653.3 517.3L654.5 517.1L655.8 516.9L657.0 516.7L658.2 516.5L659.4 516.3" stroke="#ffff66" stroke-width="7.0"/></g>
<path d="M350.5 645.3L351.6 645.1L352.7 645.0L353.8 644.8" stroke="#0000ff" stroke-width="2.30" fill="none" stroke-linejoin="round" stroke-linecap="butt" stroke-opacity="0.50"/>
<path d="M353.8 644.8L354.9 644.7L355.9 644.5L357.0 644.4L358.0 644.3L359.0 644.2L360.0 644.1L360.9 644.0L361.9 643.9L362.8 643.8L363.8 643.7L364.7 643.7L365.5 643.6L366.4 643.6L367.3 643.5L368.1 643.5L369.0 643.5" stroke="#0000ff" stroke-width="2.30" fill="none" stroke-linejoin="round" stroke-linecap="butt" stroke-opacity="0.58"/>
<path d="M369.0 643.5L369.8 643.5L370.6 643.4L371.4 643.4L372.1 643.4L372.9 643.5L373.6 643.5L374.4 643.5L375.1 643.5L375.8 643.6L376.5 643.6L377.1 643.7" stroke="#0000ff" stroke-width="2.30" fill="none" stroke-linejoin="round" stroke-linecap="butt" stroke-opacity="0.67"/>
<path d="M377.1 643.7L377.8 643.8L378.4 643.8L379.1 643.9L379.7 644.0L380.3 644.1L380.9 644.2L381.4 644.3L382.0 644.4L382.5 644.5L383.1 644.7L383.6 644.8" stroke="#0000ff" stroke-width="2.30" fill="none" stroke-linejoin="round" stroke-linecap="butt" stroke-opacity="0.75"/>
<path d="M383.6 644.8L384.1 644.9L384.6 645.1L385.1 645.2L385.6 645.4L386.0 645.6L386.5 645.7L386.9 645.9L387.3 646.1L387.7 646.3L388.1 646.5L388.5 646.7L388.9 646.9L389.3 647.2" stroke="#0000ff" stroke-width="2.30" fill="none" stroke-linejoin="round" stroke-linecap="butt" stroke-opacity="0.83"/>
<path d="M389.3 647.2L389.6 647.4L389.9 647.6L390.3 647.9L390.6 648.1L390.9 648.4L391.2 648.6L391.4 648.9L391.7 649.2L392.0 649.4L392.2 649.7L392.4 650.0L392.7 650.3L392.9 650.6L393.1 650.9L393.3 651.2L393.4 651.5L393.6 651.9L393.8 652.2L393.9 652.5L394.0 652.9L394.2 653.2L394.3 653.6L394.4 653.9L394.5 654.3L394.6 654.7L394.6 655.1L394.7 655.4L394.7 655.8L394.8 656.2L394.8 656.6L394.8 657.0L394.9 657.4L394.9 657.8L394.9 658.3L394.8 658.7L394.8 659.1L394.8 659.6L394.7 660.0L394.7 660.5L394.6 660.9L394.6 661.4L394.5 661.8L394.4 662.3L394.3 662.8L394.2 663.2L394.1 663.7L393.9 664.2L393.8 664.7L393.7 665.2L393.5 665.7L393.4 666.2L393.2 666.7L393.0 667.2L392.8 667.8L392.6 668.3L392.4 668.8L392.2 669.3L392.0 669.9L391.8 670.4L391.5 671.0L391.3 671.5L391.1 672.1L390.8 672.7L390.5 673.2L390.3 673.8L390.0 674.4L389.7 674.9L389.4 675.5L389.1 676.1L388.8 676.7L388.5 677.3L388.2 677.9L387.8 678.5L387.5 679.1L387.2 679.7L386.8 680.4L386.5 681.0L386.1 681.6L385.7 682.2L385.3 682.9L385.0 683.5L384.6 684.1L384.2 684.8L383.8 685.4L383.4 686.1L383.0 686.7L382.5 687.4L382.1 688.1L381.7 688.7L381.3 689.4L380.8 690.1L380.4 690.7L379.9 691.4L379.5 692.1L379.0 692.8L378.6 693.5L378.1 694.2L377.6 694.8L377.2 695.5L376.7 696.2L376.2 696.9L375.8 697.6L375.3 698.3L374.8 699.0L374.3 699.7L373.8 700.4L373.3 701.1L372.8 701.8L372.3 702.6L371.8 703.3L371.4 704.0L370.9 704.7L370.4 705.4L369.9 706.1L369.4 706.8L368.9 707.5L368.4 708.3L367.9 709.0L367.4 709.7L366.9 710.4L366.4 711.1L365.9 711.9L365.4 712.6L364.9 713.3L364.4 714.0L363.9 714.7" stroke="#0000ff" stroke-width="2.30" fill="none" stroke-linejoin="round" stroke-linecap="butt" stroke-opacity="0.92"/>
<path d="M363.9 714.7L363.4 715.4L362.9 716.2L362.4 716.9L361.9 717.6L361.5 718.3L361.0 719.0L360.5 719.7L360.0 720.4L359.5 721.1L359.1 721.9L358.6 722.6L358.2 723.3L357.7 724.0L357.2 724.7L356.8 725.4L356.4 726.1L355.9 726.8L355.5 727.5L355.0 728.1L354.6 728.8L354.2 729.5L353.8 730.2L353.4 730.9L353.0 731.6L352.6 732.2L352.2 732.9L351.8 733.6L351.4 734.2L351.1 734.9L350.7 735.6L350.4 736.2L350.0 736.9L349.7 737.5L349.4 738.2L349.0 738.8L348.7 739.4L348.4 740.1L348.1 740.7L347.8 741.3L347.6 741.9L347.3 742.5L347.0 743.2L346.8 743.8L346.5 744.4L346.3 744.9L346.1 745.5L345.9 746.1L345.7 746.7L345.5 747.3L345.3 747.8L345.2 748.4L345.0 748.9L344.9 749.5L344.8 750.0L344.7 750.5L344.5 751.1L344.5 751.6L344.4 752.1L344.3 752.6L344.3 753.1L344.2 753.6L344.2 754.1L344.2 754.6L344.2 755.0L344.2 755.5L344.3 755.9L344.3 756.4L344.4 756.8L344.5 757.2L344.6 757.7L344.7 758.1L344.8 758.5L344.9 758.9L345.1 759.3L345.3 759.6L345.5 760.0L345.7 760.4L345.9 760.7L346.2 761.1L346.4 761.4L346.7 761.7L347.0 762.0L347.3 762.3L347.6 762.6L348.0 762.9L348.3 763.2L348.7 763.5L349.1 763.7L349.5 764.0L349.9 764.2L350.4 764.4L350.8 764.7L351.3 764.9L351.8 765.1L352.3 765.3L352.8 765.4L353.4 765.6L353.9 765.8L354.5 766.0L355.1 766.1L355.7 766.2L356.3 766.4L357.0 766.5L357.6 766.6L358.3 766.7L359.0 766.8L359.7 766.9L360.4 767.0L361.1 767.0L361.9 767.1L362.6 767.2L363.4 767.2L364.2 767.2L365.0 767.3L365.8 767.3L366.7 767.3L367.5 767.3L368.4 767.3L369.3 767.3L370.2 767.3L371.1 767.2L372.0 767.2L373.0 767.1L373.9 767.1L374.9 767.0L375.9 766.9L376.9 766.9L377.9 766.8L378.9 766.7L380.0 766.6L381.0 766.5L382.1 766.3L383.2 766.2L384.3 766.1L385.4 765.9L386.5 765.8L387.6 765.6L388.8 765.4L390.0 765.3L391.1 765.1L392.3 764.9L393.5 764.7L394.7 764.5L396.0 764.3L397.2 764.0L398.5 763.8L399.8 763.6L401.0 763.3L402.3 763.1L403.6 762.8L405.0 762.5L406.3 762.3L407.6 762.0L409.0 761.7L410.4 761.4L411.7 761.1L413.1 760.8L414.5 760.5L415.9 760.2L417.3 759.8L418.7 759.5L420.2 759.2L421.6 758.8L423.1 758.5L424.5 758.2L426.0 757.8L427.5 757.4L428.9 757.1L430.4 756.7L431.9 756.3L433.4 756.0L434.9 755.6L436.4 755.2L437.9 754.8L439.5 754.4L441.0 754.0L442.5 753.6L444.1 753.2L445.6 752.8L447.1 752.4L448.7 752.0L450.2 751.6L451.8 751.2L453.4 750.8L454.9 750.4L456.5 750.0L458.0 749.6L459.6 749.1L461.2 748.7L462.8 748.3" stroke="#0000ff" stroke-width="2.30" fill="none" stroke-linejoin="round" stroke-linecap="butt"/>
<path d="M462.8 748.3L464.3 747.9L465.9 747.4L467.5 747.0L469.0 746.6L470.6 746.2L472.2 745.7L473.8 745.3L475.3 744.9L476.9 744.5L478.5 744.0L480.1 743.6L481.6 743.2L483.2 742.8L484.8 742.3L486.4 741.9L487.9 741.5L489.5 741.0L491.1 740.6L492.7 740.2L494.2 739.8L495.8 739.3L497.4 738.9L498.9 738.5L500.5 738.0L502.1 737.6L503.6 737.2L505.2 736.8L506.8 736.3L508.3 735.9L509.9 735.5L511.4 735.1L513.0 734.6L514.6 734.2L516.1 733.8L517.7 733.4L519.2 733.0L520.8 732.5L522.3 732.1L523.9 731.7L525.4 731.3L526.9 730.9L528.5 730.5L530.0 730.0L531.6 729.6L533.1 729.2L534.6 728.8L536.1 728.4L537.7 728.0L539.2 727.6L540.7 727.2L542.2 726.8L543.7 726.4L545.3 726.0L546.8 725.6L548.3 725.2L549.8 724.8L551.3 724.4L552.8 724.0L554.3 723.6L555.7 723.2" stroke="#0000ff" stroke-width="2.30" fill="none" stroke-linejoin="round" stroke-linecap="butt" stroke-opacity="0.92"/>
<path d="M555.7 723.2L557.2 722.8L558.7 722.4L560.2 722.0L561.7 721.6L563.2 721.2L564.6 720.9L566.1 720.5L567.6 720.1L569.0 719.7L570.5 719.3L571.9 719.0L573.4 718.6L574.8 718.2L576.3 717.9L577.7 717.5L579.1 717.1L580.5 716.8L582.0 716.4L583.4 716.1L584.8 715.7L586.2 715.4L587.6 715.0L589.0 714.7L590.4 714.3L591.8 714.0L593.2 713.6L594.6 713.3L596.0 713.0L597.3 712.6L598.7 712.3L600.1 712.0L601.4 711.7L602.8 711.4L604.2 711.0L605.5 710.7L606.8 710.4L608.2 710.1L609.5 709.8L610.8 709.5L612.1 709.2L613.5 708.9L614.8 708.6L616.1 708.3L617.4 708.0L618.7 707.7L620.0 707.5L621.2 707.2L622.5 706.9L623.8 706.6L625.0 706.4L626.3 706.1L627.6 705.8L628.8 705.6L630.0 705.3L631.3 705.1L632.5 704.8L633.7 704.6L634.9 704.3L636.1 704.1L637.4 703.9L638.6 703.6L639.7 703.4L640.9 703.2L642.1 703.0L643.3 702.7L644.4 702.5L645.6 702.3L646.8 702.1L647.9 701.9" stroke="#0000ff" stroke-width="2.30" fill="none" stroke-linejoin="round" stroke-linecap="butt" stroke-opacity="0.83"/>
<path d="M343.7 764.6L496.0 794.4L665.6 691.1L520.8 665.4Z" fill="#0000ff" fill-opacity="0.18"/>
<path d="M1208.6 637.5L1216.8 639.0L1214.0 460.5L1205.4 459.1Z" fill="#0000ff" fill-opacity="0.18"/>
<path d="M1216.8 639.0L1364.5 665.1L1369.1 484.1L1214.0 460.5Z" fill="#008000" fill-opacity="0.18"/>
<path d="M1023.9 732.3L1032.5 734.0L1216.8 639.0L1208.6 637.5Z" fill="#0000ff" fill-opacity="0.18"/>
<path d="M1208.3 619.4h0L1209.4 619.6L1210.6 619.9L1211.8 620.1L1212.9 620.3L1214.1 620.5L1215.3 620.7L1216.4 620.9L1217.6 621.1L1218.8 621.3L1219.9 621.5L1221.1 621.7L1222.3 621.9L1223.4 622.1L1224.6 622.3L1225.8 622.5L1226.9 622.7L1228.1 622.9L1229.3 623.0L1230.4 623.2L1231.6 623.4L1232.8 623.6L1234.0 623.8L1235.1 624.0L1236.3 624.1L1237.5 624.3L1238.6 624.5L1239.8 624.6L1241.0 624.8L1242.2 624.9L1243.3 625.1L1244.5 625.2L1245.7 625.4L1246.9 625.5L1248.0 625.7L1249.2 625.8L1250.4 625.9L1251.6 626.0L1252.8 626.1L1253.9 626.2L1255.1 626.3L1256.3 626.4L1257.5 626.5L1258.7 626.6L1259.8 626.6L1261.0 626.7L1262.2 626.7L1263.4 626.8L1264.6 626.8L1265.7 626.8L1266.9 626.8L1268.1 626.8L1269.3 626.7L1270.5 626.7L1271.7 626.6L1272.8 626.5L1274.0 626.4L1275.2 626.3L1276.4 626.2L1277.6 626.0L1278.8 625.9L1280.0 625.7L1281.2 625.5L1282.4 625.2L1283.6 625.0L1284.7 624.7L1285.9 624.4L1287.1 624.0L1288.3 623.6L1289.5 623.2L1290.7 622.8L1291.9 622.4L1293.1 621.9L1294.3 621.3L1295.5 620.8L1296.7 620.2L1297.9 619.6L1299.1 618.9L1300.3 618.2L1300.9 617.8L1301.5 617.4L1302.1 617.1L1302.7 616.7L1303.4 616.3L1304.0 615.8L1304.6 615.4L1305.2 615.0L1305.8 614.5L1306.4 614.1L1307.0 613.6L1307.6 613.1L1308.2 612.7L1308.8 612.2L1309.4 611.7L1310.0 611.2L1310.6 610.6L1311.3 610.1L1311.9 609.5L1312.5 609.0L1313.1 608.4L1313.7 607.9L1314.3 607.3L1314.9 606.7L1315.5 606.1L1316.1 605.4L1316.8 604.8L1317.4 604.2L1318.0 603.5L1318.6 602.9L1319.2 602.2L1319.8 601.5L1320.5 600.8L1321.1 600.1L1321.7 599.4L1322.3 598.7L1322.9 598.0L1323.5 597.2L1324.2 596.5L1324.8 595.7L1325.4 595.0L1326.0 594.2L1326.6 593.4L1327.3 592.6L1327.9 591.8L1328.5 591.0L1329.1 590.1L1329.8 589.3L1330.4 588.5L1331.0 587.6L1331.6 586.7L1332.3 585.9L1332.9 585.0L1333.5 584.1L1334.2 583.2L1334.8 582.3L1335.4 581.4L1336.0 580.5L1336.7 579.5L1337.3 578.6L1337.9 577.6L1338.6 576.7L1339.2 575.7L1339.8 574.8L1340.5 573.8L1341.1 572.8L1341.7 571.8L1342.4 570.9L1343.0 569.9L1343.6 568.9L1344.3 567.9L1344.9 566.9L1345.6 565.9L1346.2 564.8L1346.8 563.8L1347.5 562.8L1348.1 561.8L1348.8 560.7L1349.4 559.7L1350.1 558.7L1350.7 557.7L1351.3 556.6L1352.0 555.6L1352.6 554.5L1353.3 553.5L1353.9 552.5L1354.6 551.4L1355.2 550.4L1355.9 549.4L1356.5 548.3L1357.2 547.3L1357.8 546.3L1358.5 545.2L1359.1 544.2L1359.8 543.2L1360.4 542.2L1361.1 541.2L1361.7 540.2L1362.4 539.1L1363.0 538.1L1363.7 537.2L1364.3 536.2L1365.0 535.2L1365.6 534.2L1366.3 533.2L1366.9 532.3L1367.6 531.3L1368.2 530.4L1368.9 529.5L1369.5 528.5L1370.2 527.6L1370.8 526.7L1371.5 525.8L1372.2 524.9L1372.8 524.1L1373.5 523.2L1374.1 522.4L1374.8 521.5L1375.4 520.7L1376.1 519.9L1376.7 519.1L1377.4 518.3L1378.1 517.6L1378.7 516.8L1379.4 516.1L1380.0 515.4L1380.7 514.7L1381.3 514.0L1382.0 513.4L1382.6 512.8L1383.3 512.2L1383.9 511.6L1384.6 511.0L1385.3 510.5L1385.9 510.0L1386.6 509.5L1387.2 509.1L1387.9 508.7L1388.5 508.3L1389.2 508.0L1389.8 507.7L1391.1 507.2L1392.4 506.9L1393.7 506.7L1394.9 506.8L1396.2 507.0L1397.5 507.3L1398.7 507.9L1399.4 508.3L1400.0 508.7L1400.6 509.2L1401.3 509.7L1401.9 510.3L1402.5 511.0L1403.1 511.7L1403.7 512.4L1404.3 513.2L1404.9 514.1L1405.6 515.0L1406.2 515.9L1406.8 516.9L1407.4 518.0L1408.0 519.1L1408.6 520.2L1409.2 521.4L1409.8 522.6L1410.4 523.8L1410.9 525.1L1411.5 526.5L1412.1 527.8M1412.7 529.2h0M1413.3 530.7h0M1413.9 532.2h0M1414.5 533.7h0M1415.1 535.2h0M1415.6 536.7h0M1416.2 538.3h0M1416.8 539.9h0M1417.4 541.6h0M1417.9 543.2h0M1418.5 544.9h0M1419.1 546.6h0M1419.7 548.3h0M1420.2 550.0h0M1420.8 551.8h0M1421.4 553.6h0M1421.9 555.3h0M1422.5 557.1h0M1423.1 558.9h0M1423.6 560.8h0M1424.2 562.6h0M1424.7 564.4h0M1425.3 566.2h0M1425.9 568.1h0M1426.4 569.9h0M1427.0 571.8h0M1427.5 573.6h0M1428.1 575.5h0M1428.7 577.3h0M1429.2 579.2h0M1429.8 581.0h0M1430.3 582.8h0M1430.9 584.7h0M1431.4 586.5h0M1432.0 588.3h0M1432.5 590.1h0M1433.1 591.9h0M1433.7 593.7h0M1434.2 595.5h0M1434.8 597.3h0M1435.3 599.1h0M1435.9 600.8h0M1436.4 602.5h0M1437.0 604.3h0M1437.6 606.0h0M1438.1 607.7h0M1438.7 609.3h0M1439.2 611.0h0M1439.8 612.6h0M1440.3 614.2h0M1440.9 615.8h0M1441.5 617.4h0M1442.0 619.0h0M1442.6 620.5h0M1443.1 622.0h0M1443.7 623.5h0M1444.3 625.0h0M1444.8 626.4h0M1445.4 627.8h0M1446.0 629.2h0L1446.5 630.6L1447.1 631.9L1447.7 633.3L1448.2 634.6L1448.8 635.8L1449.4 637.1L1449.9 638.3L1450.5 639.5L1451.1 640.6L1451.6 641.8L1452.2 642.9L1452.8 644.0L1453.4 645.0L1454.0 646.1L1454.5 647.1L1455.1 648.1L1455.7 649.0L1456.3 650.0L1456.9 650.9L1457.5 651.7L1458.0 652.6L1458.6 653.4L1459.2 654.2L1459.8 655.0L1460.4 655.7L1461.0 656.5L1461.6 657.1L1462.2 657.8L1462.8 658.5L1463.4 659.1L1464.0 659.7L1464.6 660.3L1465.2 660.8L1465.8 661.3L1466.4 661.8L1467.0 662.3L1467.6 662.7L1468.2 663.2L1468.8 663.6L1469.4 663.9L1470.0 664.3L1471.3 664.9L1472.5 665.5L1473.7 665.9L1475.0 666.3L1476.2 666.6L1477.5 666.9L1478.7 667.1L1480.0 667.4L1481.2 667.6L1482.5 667.8L1483.7 668.0L1485.0 668.2L1486.2 668.4L1487.5 668.7L1488.7 668.9L1490.0 669.1L1491.3 669.3L1492.5 669.6L1493.8 669.8L1495.0 670.0L1496.3 670.2L1497.5 670.4L1498.8 670.6L1500.1 670.9L1501.3 671.1L1502.6 671.3L1503.8 671.5L1505.1 671.7L1506.4 672.0L1507.6 672.2L1508.9 672.4L1510.2 672.6" stroke="#0000ff" stroke-width="2.00" fill="none" stroke-linecap="round" stroke-linejoin="round"/>
<path d="M1206.5 521.4h0L1207.1 520.4L1207.7 519.4L1208.3 518.3L1208.8 517.3L1209.4 516.3L1210.0 515.4L1210.6 514.4L1211.2 513.4L1211.8 512.5L1212.3 511.6L1212.9 510.7L1213.5 509.8L1214.1 508.9L1214.7 508.0L1215.3 507.2L1215.9 506.4L1216.4 505.5L1217.0 504.7L1217.6 504.0L1218.2 503.2L1218.8 502.5L1219.4 501.8L1220.0 501.1L1220.6 500.4L1221.2 499.7L1221.8 499.1L1222.4 498.5L1223.0 497.9L1223.6 497.3L1224.2 496.8L1224.7 496.2L1225.3 495.8L1225.9 495.3L1226.5 494.8L1227.1 494.4L1227.7 494.0L1228.3 493.6L1229.5 493.0L1230.7 492.4L1232.0 492.0L1233.2 491.6L1234.4 491.4L1235.6 491.3L1236.8 491.3L1238.0 491.4L1239.2 491.7L1240.5 492.1L1241.7 492.6L1242.9 493.2L1243.5 493.6L1244.1 494.0L1244.7 494.4L1245.3 494.9L1246.0 495.4L1246.6 495.9L1247.2 496.5L1247.8 497.0L1248.4 497.7L1249.0 498.3L1249.6 499.0L1250.2 499.7L1250.9 500.5L1251.5 501.3L1252.1 502.1L1252.7 502.9L1253.3 503.8L1253.9 504.7L1254.5 505.6L1255.2 506.6L1255.8 507.6L1256.4 508.6L1257.0 509.7L1257.6 510.8L1258.2 511.9L1258.8 513.1L1259.4 514.3L1260.1 515.5L1260.7 516.7L1261.3 518.0L1261.9 519.3L1262.5 520.6L1263.1 521.9M1263.7 523.3h0M1264.3 524.7h0M1264.9 526.1h0M1265.6 527.6h0M1266.2 529.1h0M1266.8 530.6h0M1267.4 532.1h0M1268.0 533.6h0M1268.6 535.2h0M1269.2 536.8h0M1269.8 538.4h0M1270.4 540.0h0M1271.0 541.7h0M1271.6 543.4h0M1272.3 545.0h0M1272.9 546.7h0M1273.5 548.5h0M1274.1 550.2h0M1274.7 552.0h0M1275.3 553.7h0M1275.9 555.5h0M1276.5 557.3h0M1277.1 559.0h0M1277.7 560.8h0M1278.3 562.6h0M1278.9 564.4h0M1279.5 566.2h0M1280.1 568.0h0M1280.7 569.8h0M1281.3 571.6h0M1281.9 573.4h0M1282.5 575.1h0M1283.1 576.9h0M1283.7 578.6h0M1284.3 580.4h0M1284.9 582.1h0M1285.5 583.8h0M1286.1 585.5h0M1286.7 587.2h0M1287.3 588.8h0M1287.9 590.4h0M1288.5 592.0h0M1289.1 593.5h0M1289.7 595.0h0M1290.3 596.5h0M1290.8 597.9h0M1291.4 599.3h0L1292.0 600.6L1292.6 602.0L1293.2 603.2L1293.8 604.5L1294.4 605.7L1295.0 606.9L1295.6 608.1L1296.2 609.2L1296.8 610.3L1297.4 611.4L1298.0 612.4L1298.6 613.4L1299.2 614.4L1299.8 615.3L1300.3 616.3L1300.9 617.2L1301.5 618.0L1302.1 618.9L1302.7 619.7L1303.3 620.5L1303.9 621.3L1304.5 622.0L1305.1 622.8L1305.7 623.5L1306.3 624.2L1306.9 624.9L1307.5 625.5L1308.1 626.1L1308.7 626.8L1309.3 627.3L1309.9 627.9L1310.5 628.5L1311.0 629.0L1311.6 629.6L1312.2 630.1L1312.8 630.6L1313.4 631.0L1314.0 631.5L1314.6 631.9L1315.2 632.4L1315.8 632.8L1316.4 633.2L1317.0 633.6L1317.6 634.0L1318.2 634.4L1319.4 635.1L1320.6 635.7L1321.8 636.3L1323.0 636.9L1324.2 637.5L1325.4 638.0L1326.6 638.5L1327.8 638.9L1329.0 639.4L1330.2 639.8L1331.4 640.1L1332.6 640.5L1333.8 640.8L1335.0 641.2L1336.2 641.5L1337.4 641.8L1338.6 642.0L1339.8 642.3L1341.0 642.6L1342.2 642.8L1343.4 643.1L1344.6 643.3L1345.8 643.6L1347.1 643.8L1348.3 644.1L1349.5 644.3L1350.7 644.5L1351.9 644.8L1353.1 645.0L1354.3 645.2L1355.5 645.5L1356.7 645.7L1357.9 645.9L1359.2 646.2L1360.4 646.4L1361.6 646.6L1362.8 646.8L1364.0 647.1L1365.2 647.3L1366.4 647.5L1367.7 647.7L1368.9 647.9L1370.1 648.1L1371.3 648.4L1372.5 648.6L1373.7 648.8L1375.0 649.0L1376.2 649.2L1377.4 649.4L1378.6 649.6L1379.8 649.8L1381.1 650.0L1382.3 650.2L1383.5 650.4L1384.7 650.6L1385.9 650.7L1387.2 650.9L1388.4 651.0L1389.6 651.2L1390.8 651.3L1392.1 651.4L1393.3 651.5L1394.5 651.6L1395.8 651.6L1397.0 651.7L1398.2 651.7L1399.5 651.8L1400.7 651.8L1401.9 651.8L1403.2 651.8L1404.4 651.9L1405.6 651.9L1406.9 651.9L1408.1 651.9L1409.3 651.9L1410.6 651.9L1411.8 651.8L1413.1 651.8L1414.3 651.8L1415.5 651.8L1416.8 651.7L1418.0 651.7L1419.3 651.7L1420.5 651.6L1421.8 651.6L1423.0 651.5L1424.3 651.4L1425.5 651.3L1426.8 651.2L1428.0 651.1L1429.3 651.0L1430.5 650.8L1431.8 650.7L1433.0 650.5L1434.3 650.2L1435.6 650.0L1436.8 649.7L1438.1 649.4L1439.4 649.1L1440.6 648.7L1441.9 648.3L1443.2 647.9L1444.5 647.5L1445.7 647.0L1447.0 646.5L1448.3 645.9L1448.9 645.6L1449.6 645.3L1450.2 645.0L1450.9 644.7L1451.5 644.4L1452.2 644.1L1452.8 643.7L1453.5 643.4L1454.1 643.0L1454.8 642.6L1455.4 642.3L1456.1 641.9L1456.7 641.5L1457.4 641.1L1458.0 640.7L1458.7 640.2L1459.3 639.8L1460.0 639.3L1460.6 638.9L1461.3 638.4L1462.0 638.0L1462.6 637.5L1463.3 637.0L1463.9 636.5L1464.6 636.0L1465.3 635.4L1465.9 634.9L1466.6 634.4L1467.3 633.8L1467.9 633.2L1468.6 632.7L1469.3 632.1L1469.9 631.5L1470.6 630.9L1471.3 630.3L1471.9 629.6L1472.6 629.0L1473.3 628.4L1474.0 627.7L1474.6 627.1L1475.3 626.4L1476.0 625.7L1476.7 625.0L1477.3 624.3L1478.0 623.6L1478.7 622.9L1479.4 622.1L1480.1 621.4L1480.7 620.6L1481.4 619.9L1482.1 619.1L1482.8 618.3L1483.5 617.5L1484.2 616.7L1484.9 615.9L1485.6 615.1L1486.2 614.3L1486.9 613.4L1487.6 612.6L1488.3 611.7L1489.0 610.9L1489.7 610.0L1490.4 609.1L1491.1 608.2L1491.8 607.3L1492.5 606.4L1493.2 605.5L1493.9 604.6L1494.6 603.7L1495.3 602.7L1496.0 601.8L1496.7 600.8L1497.4 599.9L1498.1 598.9L1498.9 597.9L1499.6 596.9L1500.3 596.0L1501.0 595.0L1501.7 594.0L1502.4 593.0L1503.1 592.0L1503.8 590.9L1504.6 589.9L1505.3 588.9L1506.0 587.9L1506.7 586.8L1507.4 585.8L1508.1 584.7L1508.9 583.7L1509.6 582.6L1510.3 581.6L1511.0 580.5L1511.8 579.4L1512.5 578.4L1513.2 577.3L1513.9 576.2L1514.7 575.1L1515.4 574.1L1516.1 573.0L1516.8 571.9L1517.6 570.8" stroke="#008000" stroke-width="2.00" fill="none" stroke-linecap="round" stroke-linejoin="round"/>
<path d="M1183.7 650.3L1184.8 650.1L1185.9 650.0L1187.0 649.8L1188.0 649.7L1189.1 649.6L1190.1 649.4L1191.1 649.3L1192.1 649.2L1193.1 649.1L1194.1 649.0L1195.1 648.9L1196.1 648.8L1197.1 648.7L1198.0 648.6L1199.0 648.5L1199.9 648.4L1200.8 648.3" stroke="#008000" stroke-width="2.00" fill="none" stroke-linejoin="round" stroke-linecap="butt" stroke-opacity="0.50"/>
<path d="M1200.8 648.3L1201.7 648.3L1202.7 648.2L1203.5 648.2L1204.4 648.1L1205.3 648.1L1206.2 648.0L1207.0 648.0L1207.9 647.9L1208.7 647.9L1209.6 647.9L1210.4 647.9L1211.2 647.9L1212.0 647.9L1212.8 647.9L1213.6 647.9L1214.3 647.9L1215.1 647.9L1215.8 647.9L1216.6 647.9L1217.3 647.9" stroke="#008000" stroke-width="2.00" fill="none" stroke-linejoin="round" stroke-linecap="butt" stroke-opacity="0.58"/>
<path d="M1217.3 647.9L1218.0 648.0L1218.8 648.0L1219.5 648.1L1220.2 648.1L1220.8 648.2L1221.5 648.2L1222.2 648.3L1222.8 648.3L1223.5 648.4L1224.1 648.5L1224.8 648.6L1225.4 648.7L1226.0 648.7L1226.6 648.8L1227.2 648.9" stroke="#008000" stroke-width="2.00" fill="none" stroke-linejoin="round" stroke-linecap="butt" stroke-opacity="0.67"/>
<path d="M1227.2 648.9L1227.8 649.1L1228.3 649.2L1228.9 649.3L1229.4 649.4L1230.0 649.5L1230.5 649.7L1231.1 649.8L1231.6 649.9L1232.1 650.1L1232.6 650.2L1233.1 650.4L1233.5 650.6L1234.0 650.7L1234.5 650.9" stroke="#008000" stroke-width="2.00" fill="none" stroke-linejoin="round" stroke-linecap="butt" stroke-opacity="0.75"/>
<path d="M1234.5 650.9L1234.9 651.1L1235.4 651.2L1235.8 651.4L1236.2 651.6L1236.6 651.8L1237.0 652.0L1237.4 652.2L1237.8 652.4L1238.2 652.7L1238.6 652.9L1238.9 653.1L1239.3 653.3L1239.6 653.6L1239.9 653.8L1240.3 654.1" stroke="#008000" stroke-width="2.00" fill="none" stroke-linejoin="round" stroke-linecap="butt" stroke-opacity="0.83"/>
<path d="M1240.3 654.1L1240.6 654.3L1240.9 654.6L1241.2 654.8L1241.5 655.1L1241.7 655.4L1242.0 655.6L1242.3 655.9L1242.5 656.2L1242.7 656.5L1243.0 656.8L1243.2 657.1L1243.4 657.4L1243.6 657.7L1243.8 658.0L1244.0 658.4L1244.2 658.7L1244.3 659.0L1244.5 659.4L1244.6 659.7L1244.8 660.0L1244.9 660.4L1245.0 660.8L1245.1 661.1L1245.2 661.5L1245.3 661.9L1245.4 662.2L1245.5 662.6L1245.5 663.0L1245.6 663.4L1245.6 663.8L1245.7 664.2L1245.7 664.6L1245.7 665.0L1245.7 665.5L1245.7 665.9L1245.7 666.3L1245.7 666.7L1245.7 667.2L1245.6 667.6L1245.6 668.1L1245.5 668.5L1245.5 669.0L1245.4 669.4L1245.3 669.9L1245.2 670.4L1245.1 670.9L1245.0 671.3L1244.9 671.8L1244.8 672.3L1244.7 672.8L1244.6 673.3L1244.4 673.8L1244.3 674.3L1244.2 674.8L1244.0 675.3L1243.8 675.8L1243.7 676.4L1243.5 676.9L1243.3 677.4L1243.2 677.9L1243.0 678.5L1242.8 679.0L1242.6 679.5L1242.4 680.1L1242.2 680.6L1242.0 681.2L1241.7 681.7L1241.5 682.3L1241.3 682.8L1241.1 683.4L1240.8 684.0L1240.6 684.5L1240.4 685.1L1240.1 685.6L1239.9 686.2L1239.6 686.8L1239.4 687.4L1239.1 687.9L1238.9 688.5L1238.6 689.1L1238.3 689.7L1238.1 690.3L1237.8 690.8L1237.5 691.4L1237.3 692.0L1237.0 692.6L1236.7 693.2L1236.5 693.8L1236.2 694.4L1235.9 695.0L1235.6 695.6L1235.3 696.1L1235.1 696.7L1234.8 697.3L1234.5 697.9L1234.2 698.5" stroke="#008000" stroke-width="2.00" fill="none" stroke-linejoin="round" stroke-linecap="butt" stroke-opacity="0.92"/>
<path d="M1234.2 698.5L1233.9 699.1L1233.7 699.7L1233.4 700.3L1233.1 700.9L1232.8 701.5L1232.5 702.1L1232.3 702.7L1232.0 703.3L1231.7 703.9L1231.4 704.5L1231.2 705.1L1230.9 705.7L1230.6 706.3L1230.4 706.9L1230.1 707.5L1229.8 708.1L1229.6 708.7L1229.3 709.2L1229.1 709.8L1228.8 710.4L1228.6 711.0L1228.3 711.6L1228.1 712.2L1227.8 712.8L1227.6 713.3L1227.4 713.9L1227.1 714.5L1226.9 715.1L1226.7 715.6L1226.5 716.2L1226.3 716.8L1226.1 717.3L1225.9 717.9L1225.7 718.5L1225.5 719.0L1225.3 719.6L1225.2 720.1L1225.0 720.7L1224.8 721.2L1224.7 721.8L1224.5 722.3L1224.4 722.9L1224.2 723.4L1224.1 723.9L1224.0 724.5L1223.9 725.0L1223.7 725.5L1223.6 726.0L1223.5 726.5L1223.5 727.0L1223.4 727.5L1223.3 728.0L1223.3 728.5L1223.2 729.0L1223.2 729.5L1223.1 730.0L1223.1 730.5L1223.1 730.9L1223.1 731.4L1223.1 731.9L1223.1 732.3L1223.1 732.8L1223.1 733.2L1223.2 733.7L1223.2 734.1L1223.3 734.5L1223.4 735.0L1223.5 735.4L1223.6 735.8L1223.7 736.2L1223.8 736.6L1223.9 737.0L1224.1 737.4L1224.2 737.8L1224.4 738.1L1224.6 738.5L1224.7 738.9L1224.9 739.2L1225.2 739.6L1225.4 739.9L1225.6 740.3L1225.9 740.6L1226.2 740.9L1226.4 741.2L1226.7 741.5L1227.0 741.8L1227.3 742.1L1227.7 742.4L1228.0 742.7L1228.4 743.0L1228.7 743.2L1229.1 743.5L1229.5 743.8L1229.9 744.0L1230.3 744.3L1230.7 744.5L1231.1 744.7L1231.6 745.0L1232.0 745.2L1232.5 745.4L1233.0 745.6L1233.5 745.8L1234.0 746.0L1234.5 746.2L1235.0 746.4L1235.5 746.5L1236.1 746.7L1236.6 746.9L1237.2 747.0L1237.8 747.2L1238.3 747.3L1238.9 747.5L1239.5 747.6L1240.2 747.7L1240.8 747.9L1241.4 748.0L1242.1 748.1L1242.7 748.2L1243.4 748.3L1244.1 748.4L1244.8 748.5L1245.5 748.6L1246.2 748.6L1246.9 748.7L1247.6 748.8L1248.3 748.9L1249.1 748.9L1249.8 749.0L1250.6 749.0L1251.4 749.1L1252.2 749.1L1253.0 749.1L1253.8 749.1L1254.6 749.2L1255.4 749.2L1256.2 749.2L1257.0 749.2L1257.9 749.2L1258.7 749.2L1259.6 749.2L1260.5 749.2L1261.4 749.2L1262.2 749.1L1263.1 749.1L1264.0 749.1L1264.9 749.0L1265.9 749.0L1266.8 749.0L1267.7 748.9L1268.7 748.9L1269.6 748.8L1270.6 748.7L1271.5 748.7L1272.5 748.6L1273.5 748.5L1274.5 748.4L1275.5 748.3L1276.5 748.3L1277.5 748.2L1278.5 748.1L1279.5 748.0L1280.6 747.9L1281.6 747.7L1282.6 747.6L1283.7 747.5L1284.8 747.4L1285.8 747.3L1286.9 747.1L1288.0 747.0L1289.1 746.9L1290.1 746.7L1291.2 746.6L1292.3 746.4L1293.5 746.3L1294.6 746.1L1295.7 746.0L1296.8 745.8L1297.9 745.6L1299.1 745.5L1300.2 745.3L1301.4 745.1L1302.5 744.9L1303.7 744.8L1304.9 744.6L1306.0 744.4L1307.2 744.2L1308.4 744.0L1309.6 743.8L1310.8 743.6L1311.9 743.4L1313.1 743.2L1314.4 743.0L1315.6 742.8L1316.8 742.5L1318.0 742.3L1319.2 742.1L1320.4 741.9L1321.7 741.7L1322.9 741.4L1324.2 741.2L1325.4 741.0L1326.7 740.7L1327.9 740.5L1329.2 740.2L1330.4 740.0L1331.7 739.7L1333.0 739.5L1334.2 739.2L1335.5 739.0L1336.8 738.7L1338.1 738.5L1339.3 738.2L1340.6 738.0L1341.9 737.7L1343.2 737.4L1344.5 737.2L1345.8 736.9L1347.1 736.6L1348.4 736.3L1349.7 736.1L1351.1 735.8L1352.4 735.5L1353.7 735.2L1355.0 734.9L1356.3 734.7L1357.7 734.4L1359.0 734.1L1360.3 733.8L1361.7 733.5L1363.0 733.2L1364.3 732.9L1365.7 732.6" stroke="#008000" stroke-width="2.00" fill="none" stroke-linejoin="round" stroke-linecap="butt"/>
<path d="M1365.7 732.6L1367.0 732.3L1368.4 732.0L1369.7 731.7L1371.0 731.4L1372.4 731.1L1373.7 730.8L1375.1 730.5L1376.4 730.2L1377.8 729.9L1379.2 729.6L1380.5 729.3L1381.9 729.0L1383.2 728.7L1384.6 728.3L1386.0 728.0L1387.3 727.7L1388.7 727.4L1390.0 727.1L1391.4 726.8L1392.8 726.5L1394.1 726.1L1395.5 725.8L1396.9 725.5L1398.3 725.2L1399.6 724.9L1401.0 724.5L1402.4 724.2L1403.7 723.9L1405.1 723.6L1406.5 723.3L1407.8 722.9L1409.2 722.6L1410.6 722.3L1412.0 722.0L1413.3 721.7L1414.7 721.3L1416.1 721.0L1417.4 720.7L1418.8 720.4L1420.2 720.0L1421.6 719.7L1422.9 719.4L1424.3 719.1L1425.7 718.8L1427.0 718.4L1428.4 718.1L1429.8 717.8L1431.1 717.5L1432.5 717.1L1433.8 716.8L1435.2 716.5L1436.6 716.2L1437.9 715.9L1439.3 715.5L1440.6 715.2L1442.0 714.9" stroke="#008000" stroke-width="2.00" fill="none" stroke-linejoin="round" stroke-linecap="butt" stroke-opacity="0.92"/>
<path d="M1442.0 714.9L1443.3 714.6L1444.7 714.3L1446.1 714.0L1447.4 713.6L1448.7 713.3L1450.1 713.0L1451.4 712.7L1452.8 712.4L1454.1 712.1L1455.5 711.8L1456.8 711.5L1458.1 711.1L1459.5 710.8L1460.8 710.5L1462.1 710.2L1463.5 709.9L1464.8 709.6L1466.1 709.3L1467.4 709.0L1468.7 708.7L1470.1 708.4L1471.4 708.1L1472.7 707.8L1474.0 707.5L1475.3 707.2L1476.6 706.9L1477.9 706.7L1479.2 706.4L1480.5 706.1L1481.8 705.8L1483.1 705.5L1484.4 705.2L1485.6 704.9L1486.9 704.7" stroke="#008000" stroke-width="2.00" fill="none" stroke-linejoin="round" stroke-linecap="butt" stroke-opacity="0.83"/>
<path d="M1364.5 665.1L1509.6 690.9L1521.8 507.4L1369.1 484.1Z" fill="#0000ff" fill-opacity="0.18"/>
<path d="M1032.5 734.0L1187.4 764.3L1364.5 665.1L1216.8 639.0Z" fill="#008000" fill-opacity="0.18"/>
<g fill="none" stroke-linecap="round" stroke-linejoin="round"><path d="M1180.9 533.4h0L1181.9 532.1" stroke="#ffb400" stroke-width="7.5"/><path d="M1183.0 530.8h0" stroke="#ffb700" stroke-width="7.5"/><path d="M1184.1 529.6h0L1185.2 528.4" stroke="#ffb900" stroke-width="7.5"/><path d="M1186.2 527.1h0" stroke="#ffbc00" stroke-width="7.5"/><path d="M1187.3 525.9h0" stroke="#ffbf00" stroke-width="7.5"/><path d="M1188.3 524.8h0L1189.3 523.6" stroke="#ffc200" stroke-width="7.5"/><path d="M1190.4 522.4h0" stroke="#ffc400" stroke-width="7.5"/><path d="M1191.4 521.3h0L1192.4 520.2" stroke="#ffc700" stroke-width="7.5"/><path d="M1193.4 519.1h0" stroke="#ffca00" stroke-width="7.5"/><path d="M1194.3 518.0h0L1195.3 517.0" stroke="#ffcc00" stroke-width="7.5"/><path d="M1196.3 516.0h0L1197.2 515.0" stroke="#ffcf00" stroke-width="7.5"/><path d="M1198.2 514.0h0" stroke="#ffd200" stroke-width="7.5"/><path d="M1199.1 513.0h0L1200.0 512.1" stroke="#ffd400" stroke-width="7.5"/><path d="M1200.9 511.2h0L1201.8 510.3" stroke="#ffd700" stroke-width="7.0"/><path d="M1202.7 509.4h0L1203.6 508.6" stroke="#ffda00" stroke-width="7.0"/><path d="M1204.5 507.8h0L1205.4 507.0" stroke="#ffdc00" stroke-width="7.0"/><path d="M1206.2 506.2h0L1207.1 505.5" stroke="#ffdf00" stroke-width="7.0"/><path d="M1207.9 504.8h0L1208.7 504.1" stroke="#ffe200" stroke-width="7.0"/><path d="M1209.6 503.5h0L1210.4 502.9L1211.2 502.3" stroke="#ffe500" stroke-width="7.0"/><path d="M1212.0 501.7h0L1212.8 501.2L1213.5 500.7" stroke="#ffe700" stroke-width="7.0"/><path d="M1214.3 500.2h0L1215.1 499.7L1215.8 499.3" stroke="#ffea00" stroke-width="7.0"/><path d="M1216.5 498.9h0L1217.3 498.6L1218.0 498.3L1218.7 498.0L1219.4 497.7" stroke="#ffed00" stroke-width="7.0"/><path d="M1220.1 497.5h0L1220.8 497.3L1221.4 497.2L1222.1 497.0L1222.8 497.0L1223.4 496.9L1224.0 496.9L1224.7 496.9L1225.3 496.9L1225.9 497.0L1226.5 497.2L1227.1 497.3L1227.6 497.5L1228.2 497.7L1228.8 498.0L1229.3 498.3L1229.9 498.6L1230.4 499.0L1230.9 499.4" stroke="#ffef00" stroke-width="7.0"/><path d="M1231.4 499.9h0L1231.9 500.3L1232.4 500.9L1232.9 501.4" stroke="#ffed00" stroke-width="7.0"/><path d="M1233.4 502.0h0L1233.8 502.6L1234.3 503.3" stroke="#ffea00" stroke-width="7.0"/><path d="M1234.7 504.0h0L1235.2 504.8L1235.6 505.5" stroke="#ffe700" stroke-width="7.0"/><path d="M1236.0 506.4h0L1236.4 507.2" stroke="#ffe500" stroke-width="7.0"/><path d="M1236.8 508.1h0L1237.2 509.0" stroke="#ffe200" stroke-width="7.0"/><path d="M1237.6 510.0h0L1238.0 511.0" stroke="#ffdf00" stroke-width="7.0"/><path d="M1238.3 512.0h0L1238.7 513.1" stroke="#ffdc00" stroke-width="7.0"/><path d="M1239.0 514.2h0L1239.4 515.3" stroke="#ffda00" stroke-width="7.0"/><path d="M1239.7 516.5h0" stroke="#ffd700" stroke-width="7.0"/><path d="M1240.0 517.7h0" stroke="#ffd400" stroke-width="7.0"/><path d="M1240.3 519.0h0" stroke="#ffd400" stroke-width="7.5"/><path d="M1240.6 520.3h0" stroke="#ffd200" stroke-width="7.5"/><path d="M1240.9 521.6h0L1241.1 522.9" stroke="#ffcf00" stroke-width="7.5"/><path d="M1241.4 524.3h0" stroke="#ffcc00" stroke-width="7.5"/><path d="M1241.7 525.7h0L1241.9 527.2" stroke="#ffca00" stroke-width="7.5"/><path d="M1242.2 528.7h0" stroke="#ffc700" stroke-width="7.5"/><path d="M1242.4 530.2h0" stroke="#ffc400" stroke-width="7.5"/><path d="M1242.6 531.7h0" stroke="#ffc200" stroke-width="7.5"/><path d="M1242.8 533.3h0" stroke="#ffbf00" stroke-width="7.5"/><path d="M1243.0 534.9h0L1243.2 536.6" stroke="#ffbc00" stroke-width="7.5"/><path d="M1243.4 538.3h0" stroke="#ffb900" stroke-width="7.5"/><path d="M1243.6 540.0h0" stroke="#ffb700" stroke-width="7.5"/><path d="M1243.7 541.7h0" stroke="#ffb400" stroke-width="7.5"/><path d="M1243.9 543.5h0" stroke="#ffb100" stroke-width="7.5"/><path d="M1244.0 545.2h0" stroke="#ffaf00" stroke-width="7.5"/><path d="M1244.1 547.1h0" stroke="#ffac00" stroke-width="7.5"/><path d="M1244.3 548.9h0" stroke="#ffa900" stroke-width="7.5"/><path d="M1244.4 550.8h0" stroke="#ffa700" stroke-width="7.5"/><path d="M1244.5 552.7h0" stroke="#ffa400" stroke-width="7.5"/><path d="M1244.6 554.6h0" stroke="#ffa100" stroke-width="7.5"/><path d="M1244.7 556.5h0" stroke="#ff9e00" stroke-width="7.5"/><path d="M1244.7 558.5h0" stroke="#ff9c00" stroke-width="7.5"/><path d="M1244.8 560.5h0" stroke="#ff9900" stroke-width="7.5"/><path d="M1244.9 562.5h0" stroke="#ff9600" stroke-width="7.5"/><path d="M1244.9 564.5h0" stroke="#ff9400" stroke-width="7.5"/><path d="M1245.0 566.6h0" stroke="#ff9100" stroke-width="7.5"/><path d="M1245.0 568.7h0" stroke="#ff8e00" stroke-width="7.5"/><path d="M1245.0 570.7h0" stroke="#ff8900" stroke-width="7.5"/><path d="M1245.0 572.8h0" stroke="#ff8600" stroke-width="7.5"/><path d="M1245.0 574.9h0" stroke="#ff8400" stroke-width="7.5"/><path d="M1245.0 577.1h0" stroke="#ff8100" stroke-width="7.5"/><path d="M1245.0 579.2h0" stroke="#ff7e00" stroke-width="7.5"/><path d="M1245.0 581.3h0" stroke="#ff7b00" stroke-width="7.5"/><path d="M1244.9 583.5h0" stroke="#ff7900" stroke-width="7.5"/><path d="M1244.9 585.6h0" stroke="#ff7600" stroke-width="7.5"/><path d="M1244.8 587.8h0" stroke="#ff7300" stroke-width="7.5"/><path d="M1244.8 589.9h0" stroke="#ff6e00" stroke-width="7.5"/><path d="M1244.7 592.0h0" stroke="#ff6b00" stroke-width="7.5"/><path d="M1244.6 594.2h0" stroke="#ff6900" stroke-width="7.5"/><path d="M1244.6 596.3h0" stroke="#ff6600" stroke-width="7.5"/><path d="M1244.5 598.5h0" stroke="#ff6300" stroke-width="7.5"/><path d="M1244.4 600.6h0" stroke="#ff6100" stroke-width="7.5"/><path d="M1244.3 602.7h0" stroke="#ff5e00" stroke-width="7.5"/><path d="M1244.2 604.8h0" stroke="#ff5b00" stroke-width="7.5"/><path d="M1244.1 606.9h0" stroke="#ff5800" stroke-width="7.5"/><path d="M1243.9 608.9h0" stroke="#ff5600" stroke-width="7.5"/><path d="M1243.8 611.0h0" stroke="#ff5300" stroke-width="7.5"/><path d="M1243.7 613.0h0" stroke="#ff5000" stroke-width="7.5"/><path d="M1243.5 615.0h0" stroke="#ff4e00" stroke-width="7.5"/><path d="M1243.4 616.9h0" stroke="#ff4b00" stroke-width="7.5"/><path d="M1243.2 618.8h0" stroke="#ff4800" stroke-width="7.5"/><path d="M1243.1 620.7h0" stroke="#ff4600" stroke-width="7.5"/><path d="M1242.9 622.6h0" stroke="#ff4300" stroke-width="7.5"/><path d="M1242.7 624.4h0" stroke="#ff4000" stroke-width="7.5"/><path d="M1242.5 626.2h0" stroke="#ff3d00" stroke-width="7.5"/><path d="M1242.4 627.9h0" stroke="#ff3b00" stroke-width="7.5"/><path d="M1242.2 629.7h0L1242.0 631.4" stroke="#ff3800" stroke-width="7.5"/><path d="M1241.8 633.0h0" stroke="#ff3500" stroke-width="7.5"/><path d="M1241.6 634.7h0" stroke="#ff3300" stroke-width="7.5"/><path d="M1241.4 636.3h0L1241.1 637.8" stroke="#ff3000" stroke-width="7.5"/><path d="M1240.9 639.4h0" stroke="#ff2d00" stroke-width="7.5"/><path d="M1240.7 640.9h0L1240.5 642.4" stroke="#ff2b00" stroke-width="7.5"/><path d="M1240.2 643.9h0L1240.0 645.3" stroke="#ff2800" stroke-width="7.5"/><path d="M1239.8 646.8h0" stroke="#ff2500" stroke-width="7.5"/><path d="M1239.5 648.2h0L1239.3 649.5" stroke="#ff2300" stroke-width="7.5"/><path d="M1239.0 650.9h0L1238.8 652.2" stroke="#ff2000" stroke-width="7.5"/><path d="M1238.5 653.5h0L1238.3 654.8" stroke="#ff1d00" stroke-width="7.5"/><path d="M1238.0 656.0h0L1237.8 657.3L1237.5 658.5" stroke="#ff1a00" stroke-width="7.5"/><path d="M1237.2 659.7h0L1237.0 660.9" stroke="#ff1800" stroke-width="7.5"/><path d="M1236.7 662.0h0L1236.4 663.2L1236.2 664.3" stroke="#ff1500" stroke-width="7.5"/><path d="M1235.9 665.4h0L1235.6 666.5L1235.3 667.5" stroke="#ff1200" stroke-width="7.5"/><path d="M1235.1 668.6h0L1234.8 669.6L1234.5 670.6" stroke="#ff1000" stroke-width="7.5"/><path d="M1234.2 671.6h0L1233.9 672.6L1233.7 673.6L1233.4 674.5" stroke="#ff0d00" stroke-width="7.5"/><path d="M1233.1 675.5h0L1232.8 676.4L1232.5 677.3L1232.3 678.2L1232.0 679.1" stroke="#ff0a00" stroke-width="7.5"/><path d="M1231.7 680.0h0L1231.4 680.9L1231.2 681.7L1230.9 682.5L1230.6 683.4L1230.4 684.2" stroke="#ff0800" stroke-width="7.5"/><path d="M1230.1 685.0h0L1229.8 685.8L1229.6 686.6L1229.3 687.3L1229.1 688.1L1228.8 688.8L1228.6 689.6L1228.3 690.3L1228.1 691.0" stroke="#ff0500" stroke-width="7.5"/><path d="M1227.8 691.8h0L1227.6 692.5L1227.3 693.2L1227.1 693.8L1226.9 694.5L1226.7 695.2L1226.5 695.9L1226.2 696.5L1226.0 697.2L1225.8 697.8L1225.6 698.4L1225.4 699.1L1225.3 699.7" stroke="#ff0200" stroke-width="7.5"/><path d="M1225.1 700.3h0L1224.9 700.9L1224.7 701.5L1224.6 702.1" stroke="#ff0200" stroke-width="8.0"/><path d="M1224.4 702.7h0L1224.2 703.2L1224.1 703.8L1224.0 704.4L1223.8 704.9L1223.7 705.5L1223.6 706.0L1223.5 706.6L1223.4 707.1L1223.3 707.6L1223.2 708.2L1223.1 709.2L1222.9 710.2L1222.9 711.2L1222.8 712.2L1222.8 713.1L1222.8 714.1L1222.9 715.0L1223.0 715.9L1223.2 716.7L1223.4 717.6L1223.7 718.4L1224.0 719.2L1224.3 719.9L1224.7 720.6L1225.1 721.3L1225.6 722.0L1226.2 722.7L1226.5 723.0L1226.8 723.3L1227.1 723.6L1227.4 723.9L1227.8 724.1L1228.1 724.4L1228.5 724.7L1228.9 724.9L1229.2 725.2L1229.6 725.5L1230.1 725.7L1230.5 725.9L1230.9 726.2L1231.4 726.4L1231.8 726.6L1232.3 726.8L1232.8 727.0L1233.3 727.2L1233.8 727.4L1234.3 727.6L1234.8 727.8L1235.3 727.9L1235.9 728.1L1236.4 728.3L1237.0 728.4L1237.6 728.6L1238.2 728.7L1238.8 728.8L1239.4 729.0L1240.0 729.1L1240.6 729.2L1241.3 729.3L1241.9 729.4L1242.6 729.5L1243.2 729.6L1243.9 729.6L1244.6 729.7L1245.3 729.8L1246.0 729.8L1246.7 729.8L1247.5 729.9L1248.2 729.9L1249.0 729.9L1249.7 729.9L1250.5 729.9L1251.3 729.9L1252.1 729.9L1252.8 729.8L1253.7 729.8" stroke="#ff0000" stroke-width="8.0"/><path d="M1254.5 729.7h0L1255.3 729.7L1256.1 729.6L1257.0 729.6L1257.8 729.5L1258.7 729.4L1259.5 729.3L1260.4 729.2L1261.3 729.1L1262.2 729.0L1263.1 728.8L1264.0 728.7L1264.9 728.6L1265.8 728.4L1266.8 728.3L1267.7 728.1L1268.7 728.0" stroke="#ff0200" stroke-width="8.0"/><path d="M1269.6 727.8h0L1270.6 727.7L1271.5 727.5L1272.5 727.3L1273.5 727.1L1274.5 726.9L1275.5 726.7L1276.5 726.5L1277.5 726.3L1278.6 726.1L1279.6 725.9L1280.6 725.7L1281.7 725.4" stroke="#ff0500" stroke-width="8.0"/><path d="M1282.7 725.2h0L1283.8 725.0L1284.8 724.7L1285.9 724.5L1287.0 724.2L1288.1 724.0L1289.2 723.7L1290.3 723.5L1291.4 723.2L1292.5 722.9L1293.6 722.6L1294.7 722.3" stroke="#ff0800" stroke-width="8.0"/><path d="M1295.8 722.0h0L1297.0 721.7L1298.1 721.4L1299.3 721.1L1300.4 720.8L1301.6 720.5L1302.7 720.2L1303.9 719.8L1305.1 719.5L1306.3 719.2L1307.4 718.8" stroke="#ff0a00" stroke-width="8.0"/><path d="M1308.6 718.4h0L1309.8 718.1L1311.0 717.7L1312.2 717.3L1313.5 716.9L1314.7 716.5L1315.9 716.1L1317.1 715.7" stroke="#ff0d00" stroke-width="8.0"/><path d="M1318.3 715.3h0L1319.6 714.9L1320.8 714.4L1322.1 714.0L1323.3 713.5L1324.6 713.1L1325.8 712.6" stroke="#ff1000" stroke-width="8.0"/><path d="M1327.1 712.1h0L1328.4 711.6L1329.6 711.1L1330.9 710.6L1332.2 710.1" stroke="#ff1200" stroke-width="8.0"/><path d="M1333.5 709.6h0L1334.8 709.0L1336.0 708.5L1337.3 707.9L1338.6 707.4" stroke="#ff1500" stroke-width="7.5"/><path d="M1339.9 706.8h0L1341.3 706.2L1342.6 705.6L1343.9 705.0L1345.2 704.4" stroke="#ff1800" stroke-width="7.5"/><path d="M1346.5 703.7h0L1347.8 703.1L1349.2 702.4L1350.5 701.8" stroke="#ff1a00" stroke-width="7.5"/><path d="M1351.8 701.1h0L1353.2 700.4L1354.5 699.7L1355.9 699.0" stroke="#ff1d00" stroke-width="7.5"/><path d="M1357.2 698.3h0L1358.6 697.6L1359.9 696.8" stroke="#ff2000" stroke-width="7.5"/><path d="M1361.3 696.1h0L1362.6 695.3L1364.0 694.6" stroke="#ff2300" stroke-width="7.5"/><path d="M1365.3 693.8h0L1366.7 693.0L1368.1 692.2" stroke="#ff2500" stroke-width="7.5"/><path d="M1369.5 691.4h0L1370.8 690.6L1372.2 689.8" stroke="#ff2800" stroke-width="7.5"/><path d="M1373.6 688.9h0L1375.0 688.1L1376.4 687.2" stroke="#ff2b00" stroke-width="7.5"/><path d="M1377.7 686.3h0L1379.1 685.4" stroke="#ff2d00" stroke-width="7.5"/><path d="M1380.5 684.5h0L1381.9 683.6L1383.3 682.7" stroke="#ff3000" stroke-width="7.5"/><path d="M1384.7 681.8h0L1386.1 680.8" stroke="#ff3300" stroke-width="7.5"/><path d="M1387.5 679.9h0L1388.9 678.9L1390.3 678.0" stroke="#ff3500" stroke-width="7.5"/><path d="M1391.7 677.0h0L1393.1 676.0" stroke="#ff3800" stroke-width="7.5"/><path d="M1394.5 675.0h0L1395.9 674.0" stroke="#ff3b00" stroke-width="7.5"/><path d="M1397.4 672.9h0L1398.8 671.9" stroke="#ff3d00" stroke-width="7.5"/><path d="M1400.2 670.9h0L1401.6 669.8" stroke="#ff4000" stroke-width="7.5"/><path d="M1403.0 668.7h0L1404.4 667.6" stroke="#ff4300" stroke-width="7.5"/><path d="M1405.9 666.6h0L1407.3 665.5" stroke="#ff4600" stroke-width="7.5"/><path d="M1408.7 664.4h0L1410.1 663.2" stroke="#ff4800" stroke-width="7.5"/><path d="M1411.6 662.1h0L1413.0 661.0" stroke="#ff4b00" stroke-width="7.5"/><path d="M1414.4 659.8h0L1415.8 658.7" stroke="#ff4e00" stroke-width="7.5"/><path d="M1417.3 657.5h0L1418.7 656.3" stroke="#ff5000" stroke-width="7.5"/><path d="M1420.1 655.1h0" stroke="#ff5300" stroke-width="7.5"/><path d="M1421.6 653.9h0L1423.0 652.7" stroke="#ff5600" stroke-width="7.5"/><path d="M1424.4 651.5h0L1425.9 650.3" stroke="#ff5800" stroke-width="7.5"/><path d="M1427.3 649.0h0" stroke="#ff5b00" stroke-width="7.5"/><path d="M1428.7 647.8h0L1430.2 646.5" stroke="#ff5e00" stroke-width="7.5"/><path d="M1431.6 645.3h0L1433.0 644.0" stroke="#ff6100" stroke-width="7.5"/><path d="M1434.5 642.7h0" stroke="#ff6300" stroke-width="7.5"/><path d="M1435.9 641.5h0L1437.3 640.2" stroke="#ff6600" stroke-width="7.5"/><path d="M1438.8 638.9h0" stroke="#ff6900" stroke-width="7.5"/><path d="M1440.2 637.5h0L1441.6 636.2" stroke="#ff6b00" stroke-width="7.5"/><path d="M1443.1 634.9h0" stroke="#ff6e00" stroke-width="7.5"/><path d="M1444.5 633.6h0L1446.0 632.2" stroke="#ff7100" stroke-width="7.5"/><path d="M1447.4 630.9h0" stroke="#ff7300" stroke-width="7.5"/><path d="M1448.8 629.5h0L1450.3 628.2" stroke="#ff7600" stroke-width="7.5"/><path d="M1451.7 626.8h0" stroke="#ff7900" stroke-width="7.5"/><path d="M1453.1 625.4h0L1454.6 624.1" stroke="#ff7b00" stroke-width="7.5"/><path d="M1456.0 622.7h0" stroke="#ff7e00" stroke-width="7.5"/><path d="M1457.4 621.3h0L1458.8 619.9" stroke="#ff8100" stroke-width="7.5"/><path d="M1460.3 618.5h0" stroke="#ff8400" stroke-width="7.5"/><path d="M1461.7 617.1h0" stroke="#ff8600" stroke-width="7.5"/><path d="M1463.1 615.7h0L1464.6 614.2" stroke="#ff8900" stroke-width="7.5"/><path d="M1466.0 612.8h0" stroke="#ff8c00" stroke-width="7.5"/><path d="M1467.4 611.4h0" stroke="#ff8e00" stroke-width="7.5"/><path d="M1468.8 610.0h0L1470.3 608.5" stroke="#ff9100" stroke-width="7.5"/><path d="M1471.7 607.1h0" stroke="#ff9400" stroke-width="7.5"/><path d="M1473.1 605.6h0L1474.5 604.2" stroke="#ff9600" stroke-width="7.5"/><path d="M1475.9 602.8h0" stroke="#ff9900" stroke-width="7.5"/><path d="M1477.4 601.3h0" stroke="#ff9c00" stroke-width="7.5"/><path d="M1478.8 599.8h0L1480.2 598.4" stroke="#ff9e00" stroke-width="7.5"/><path d="M1481.6 596.9h0" stroke="#ffa100" stroke-width="7.5"/><path d="M1483.0 595.5h0" stroke="#ffa400" stroke-width="7.5"/><path d="M1484.4 594.0h0L1485.8 592.6" stroke="#ffa700" stroke-width="7.5"/><path d="M1487.2 591.1h0" stroke="#ffa900" stroke-width="7.5"/><path d="M1488.6 589.6h0" stroke="#ffac00" stroke-width="7.5"/><path d="M1490.0 588.2h0L1491.4 586.7" stroke="#ffaf00" stroke-width="7.5"/><path d="M1492.8 585.2h0" stroke="#ffb100" stroke-width="7.5"/><path d="M1494.2 583.8h0" stroke="#ffb400" stroke-width="7.5"/></g>
<g fill="none" stroke-linecap="round" stroke-linejoin="round"><path d="M1052.5 698.3h0L1052.3 698.8L1052.2 699.3L1052.0 700.2L1051.9 701.2L1051.8 702.1L1051.8 702.9L1051.9 703.7L1052.0 704.5L1052.2 705.2L1052.5 705.9L1052.9 706.6L1053.3 707.3L1053.8 707.9L1054.3 708.4L1054.9 709.0L1055.6 709.5L1056.3 709.9L1056.7 710.2L1057.1 710.4L1057.5 710.6L1058.0 710.8L1058.4 711.0L1058.9 711.1L1059.4 711.3L1059.9 711.5L1060.4 711.6L1060.9 711.8L1061.5 711.9L1062.0 712.0L1062.6 712.2L1063.2 712.3L1063.8 712.4L1064.4 712.5L1065.0 712.6L1065.7 712.7L1066.3 712.7L1067.0 712.8" stroke="#ff0000" stroke-width="8.0"/><path d="M1067.7 712.9h0L1068.4 712.9L1069.1 712.9L1069.8 713.0L1070.6 713.0L1071.3 713.0L1072.1 713.0L1072.9 713.0L1073.7 713.0L1074.5 713.0L1075.3 713.0L1076.1 713.0L1077.0 712.9L1077.8 712.9L1078.7 712.8L1079.6 712.8L1080.4 712.7L1081.4 712.6L1082.3 712.6L1083.2 712.5L1084.1 712.4L1085.1 712.3L1086.1 712.1L1087.0 712.0L1088.0 711.9L1089.0 711.8L1090.0 711.6L1091.1 711.5L1092.1 711.3L1093.1 711.1L1094.2 710.9L1095.3 710.8L1096.3 710.6L1097.4 710.4L1098.5 710.2" stroke="#ff0200" stroke-width="8.0"/><path d="M1099.6 709.9h0L1100.7 709.7L1101.9 709.5L1103.0 709.2L1104.1 709.0L1105.3 708.7L1106.5 708.5L1107.7 708.2L1108.8 707.9L1110.0 707.6L1111.2 707.3L1112.5 707.0L1113.7 706.7L1114.9 706.4L1116.1 706.0" stroke="#ff0500" stroke-width="8.0"/><path d="M1117.4 705.7h0L1118.7 705.4L1119.9 705.0L1121.2 704.6L1122.5 704.3L1123.8 703.9L1125.1 703.5L1126.4 703.1L1127.7 702.7L1129.0 702.3" stroke="#ff0800" stroke-width="8.0"/><path d="M1130.4 701.8h0L1131.7 701.4L1133.1 701.0L1134.4 700.5L1135.8 700.0L1137.1 699.6L1138.5 699.1L1139.9 698.6L1141.3 698.1" stroke="#ff0a00" stroke-width="8.0"/><path d="M1142.7 697.6h0L1144.1 697.1L1145.5 696.5L1146.9 696.0L1148.4 695.5L1149.8 694.9" stroke="#ff0d00" stroke-width="8.0"/><path d="M1151.2 694.3h0L1152.7 693.8L1154.1 693.2L1155.6 692.6L1157.0 692.0L1158.5 691.4" stroke="#ff1000" stroke-width="8.0"/><path d="M1160.0 690.7h0L1161.4 690.1L1162.9 689.5L1164.4 688.8L1165.9 688.1" stroke="#ff1200" stroke-width="8.0"/><path d="M1167.4 687.5h0L1168.9 686.8L1170.4 686.1L1171.9 685.4" stroke="#ff1500" stroke-width="8.0"/><path d="M1173.4 684.7h0L1174.9 683.9L1176.4 683.2L1178.0 682.5" stroke="#ff1800" stroke-width="8.0"/><path d="M1179.5 681.7h0L1181.0 680.9L1182.6 680.1L1184.1 679.3" stroke="#ff1a00" stroke-width="8.0"/><path d="M1185.6 678.5h0L1187.2 677.7" stroke="#ff1d00" stroke-width="8.0"/><path d="M1188.7 676.9h0" stroke="#ff1d00" stroke-width="7.5"/><path d="M1190.3 676.1h0L1191.8 675.2L1193.4 674.4L1194.9 673.5" stroke="#ff2000" stroke-width="7.5"/><path d="M1196.5 672.6h0L1198.0 671.7L1199.6 670.8" stroke="#ff2300" stroke-width="7.5"/><path d="M1201.2 669.9h0L1202.7 669.0" stroke="#ff2500" stroke-width="7.5"/><path d="M1204.3 668.1h0L1205.8 667.1L1207.4 666.2" stroke="#ff2800" stroke-width="7.5"/><path d="M1209.0 665.2h0L1210.6 664.2L1212.1 663.2" stroke="#ff2b00" stroke-width="7.5"/><path d="M1213.7 662.2h0L1215.3 661.2" stroke="#ff2d00" stroke-width="7.5"/><path d="M1216.9 660.2h0L1218.4 659.2L1220.0 658.2" stroke="#ff3000" stroke-width="7.5"/><path d="M1221.6 657.1h0L1223.2 656.0" stroke="#ff3300" stroke-width="7.5"/><path d="M1224.7 655.0h0L1226.3 653.9" stroke="#ff3500" stroke-width="7.5"/><path d="M1227.9 652.8h0L1229.5 651.7" stroke="#ff3800" stroke-width="7.5"/><path d="M1231.0 650.6h0L1232.6 649.5" stroke="#ff3b00" stroke-width="7.5"/><path d="M1234.2 648.3h0L1235.8 647.2" stroke="#ff3d00" stroke-width="7.5"/><path d="M1237.3 646.1h0L1238.9 644.9" stroke="#ff4000" stroke-width="7.5"/><path d="M1240.5 643.7h0L1242.0 642.5" stroke="#ff4300" stroke-width="7.5"/><path d="M1243.6 641.4h0L1245.2 640.2" stroke="#ff4600" stroke-width="7.5"/><path d="M1246.7 639.0h0L1248.3 637.7" stroke="#ff4800" stroke-width="7.5"/><path d="M1249.9 636.5h0L1251.4 635.3" stroke="#ff4b00" stroke-width="7.5"/><path d="M1253.0 634.1h0" stroke="#ff4e00" stroke-width="7.5"/><path d="M1254.5 632.8h0L1256.1 631.5" stroke="#ff5000" stroke-width="7.5"/><path d="M1257.6 630.3h0L1259.1 629.0" stroke="#ff5300" stroke-width="7.5"/><path d="M1260.7 627.7h0" stroke="#ff5600" stroke-width="7.5"/><path d="M1262.2 626.4h0L1263.7 625.1" stroke="#ff5800" stroke-width="7.5"/><path d="M1265.3 623.8h0L1266.8 622.5" stroke="#ff5b00" stroke-width="7.5"/><path d="M1268.3 621.2h0" stroke="#ff5e00" stroke-width="7.5"/><path d="M1269.8 619.9h0L1271.3 618.6" stroke="#ff6100" stroke-width="7.5"/><path d="M1272.8 617.2h0" stroke="#ff6300" stroke-width="7.5"/><path d="M1274.4 615.9h0L1275.8 614.6" stroke="#ff6600" stroke-width="7.5"/><path d="M1277.3 613.2h0" stroke="#ff6900" stroke-width="7.5"/><path d="M1278.8 611.8h0L1280.3 610.5" stroke="#ff6b00" stroke-width="7.5"/><path d="M1281.8 609.1h0" stroke="#ff6e00" stroke-width="7.5"/><path d="M1283.3 607.8h0L1284.7 606.4" stroke="#ff7100" stroke-width="7.5"/><path d="M1286.2 605.0h0" stroke="#ff7300" stroke-width="7.5"/><path d="M1287.6 603.6h0L1289.1 602.2" stroke="#ff7600" stroke-width="7.5"/><path d="M1290.5 600.9h0" stroke="#ff7900" stroke-width="7.5"/><path d="M1291.9 599.5h0L1293.4 598.1" stroke="#ff7b00" stroke-width="7.5"/><path d="M1294.8 596.7h0" stroke="#ff7e00" stroke-width="7.5"/><path d="M1296.2 595.3h0" stroke="#ff8100" stroke-width="7.5"/><path d="M1297.6 593.9h0L1299.0 592.5" stroke="#ff8400" stroke-width="7.5"/><path d="M1300.4 591.1h0" stroke="#ff8600" stroke-width="7.5"/><path d="M1301.8 589.7h0L1303.2 588.3" stroke="#ff8900" stroke-width="7.5"/><path d="M1304.5 586.9h0" stroke="#ff8c00" stroke-width="7.5"/><path d="M1305.9 585.5h0" stroke="#ff8e00" stroke-width="7.5"/><path d="M1307.2 584.1h0L1308.6 582.7" stroke="#ff9100" stroke-width="7.5"/><path d="M1309.9 581.3h0" stroke="#ff9400" stroke-width="7.5"/><path d="M1311.2 579.9h0" stroke="#ff9600" stroke-width="7.5"/><path d="M1312.6 578.6h0L1313.9 577.2" stroke="#ff9900" stroke-width="7.5"/><path d="M1315.2 575.8h0" stroke="#ff9c00" stroke-width="7.5"/><path d="M1316.5 574.4h0" stroke="#ff9e00" stroke-width="7.5"/><path d="M1317.8 573.0h0L1319.0 571.7" stroke="#ffa100" stroke-width="7.5"/><path d="M1320.3 570.3h0" stroke="#ffa400" stroke-width="7.5"/><path d="M1321.6 569.0h0" stroke="#ffa700" stroke-width="7.5"/><path d="M1322.8 567.6h0L1324.1 566.2" stroke="#ffa900" stroke-width="7.5"/><path d="M1325.3 564.9h0" stroke="#ffac00" stroke-width="7.5"/><path d="M1326.5 563.6h0" stroke="#ffaf00" stroke-width="7.5"/><path d="M1327.7 562.2h0L1328.9 560.9" stroke="#ffb100" stroke-width="7.5"/><path d="M1330.1 559.6h0" stroke="#ffb400" stroke-width="7.5"/><path d="M1331.3 558.3h0L1332.5 557.0" stroke="#ffb700" stroke-width="7.5"/><path d="M1333.7 555.7h0" stroke="#ffb900" stroke-width="7.5"/><path d="M1334.9 554.4h0" stroke="#ffbc00" stroke-width="7.5"/><path d="M1336.0 553.1h0L1337.2 551.9" stroke="#ffbf00" stroke-width="7.5"/><path d="M1338.3 550.6h0" stroke="#ffc200" stroke-width="7.5"/><path d="M1339.4 549.4h0L1340.6 548.1" stroke="#ffc400" stroke-width="7.5"/><path d="M1341.7 546.9h0" stroke="#ffc700" stroke-width="7.5"/><path d="M1342.8 545.7h0L1343.9 544.5" stroke="#ffca00" stroke-width="7.5"/><path d="M1345.0 543.3h0" stroke="#ffcc00" stroke-width="7.5"/><path d="M1346.1 542.2h0" stroke="#ffcf00" stroke-width="7.5"/><path d="M1347.1 541.0h0L1348.2 539.9" stroke="#ffd200" stroke-width="7.5"/><path d="M1349.2 538.7h0L1350.3 537.6" stroke="#ffd400" stroke-width="7.5"/><path d="M1351.3 536.5h0" stroke="#ffd700" stroke-width="7.5"/><path d="M1352.3 535.4h0L1353.4 534.4" stroke="#ffda00" stroke-width="7.5"/><path d="M1354.4 533.3h0" stroke="#ffdc00" stroke-width="7.5"/><path d="M1355.4 532.3h0L1356.4 531.3" stroke="#ffdf00" stroke-width="7.5"/><path d="M1357.3 530.3h0L1358.3 529.3" stroke="#ffe200" stroke-width="7.5"/><path d="M1359.3 528.3h0" stroke="#ffe500" stroke-width="7.5"/><path d="M1360.2 527.4h0L1361.2 526.5" stroke="#ffe700" stroke-width="7.0"/><path d="M1362.1 525.6h0L1363.0 524.7" stroke="#ffea00" stroke-width="7.0"/><path d="M1363.9 523.8h0L1364.8 523.0" stroke="#ffed00" stroke-width="7.0"/><path d="M1365.7 522.2h0L1366.6 521.4" stroke="#ffef00" stroke-width="7.0"/><path d="M1367.5 520.6h0L1368.3 519.9" stroke="#fff200" stroke-width="7.0"/><path d="M1369.2 519.2h0L1370.0 518.5L1370.9 517.9" stroke="#fff500" stroke-width="7.0"/><path d="M1371.7 517.3h0L1372.5 516.7" stroke="#fff700" stroke-width="7.0"/><path d="M1373.3 516.1h0L1374.1 515.6L1374.9 515.2" stroke="#fffa00" stroke-width="7.0"/><path d="M1375.7 514.7h0L1376.4 514.3L1377.2 514.0L1377.9 513.7L1378.6 513.4" stroke="#fffd00" stroke-width="7.0"/><path d="M1379.4 513.2h0L1380.1 513.0L1380.8 512.9L1381.4 512.8L1382.1 512.8L1382.8 512.8L1383.4 512.9L1384.1 513.0L1384.7 513.2L1385.3 513.4L1385.9 513.7L1386.5 514.0L1387.1 514.4" stroke="#ffff00" stroke-width="7.0"/><path d="M1387.7 514.9h0L1388.2 515.4L1388.8 516.0L1389.3 516.6" stroke="#fffd00" stroke-width="7.0"/><path d="M1389.8 517.3h0L1390.3 518.1" stroke="#fffa00" stroke-width="7.0"/><path d="M1390.8 518.9h0L1391.3 519.8L1391.8 520.7" stroke="#fff700" stroke-width="7.0"/><path d="M1392.3 521.7h0" stroke="#fff500" stroke-width="7.0"/><path d="M1392.7 522.7h0L1393.1 523.8" stroke="#fff200" stroke-width="7.0"/><path d="M1393.6 525.0h0L1394.0 526.1" stroke="#ffef00" stroke-width="7.0"/><path d="M1394.4 527.4h0" stroke="#ffed00" stroke-width="7.0"/><path d="M1394.8 528.7h0L1395.1 530.0" stroke="#ffea00" stroke-width="7.0"/><path d="M1395.5 531.4h0" stroke="#ffe700" stroke-width="7.0"/><path d="M1395.9 532.8h0" stroke="#ffe500" stroke-width="7.0"/><path d="M1396.2 534.3h0L1396.5 535.8" stroke="#ffe200" stroke-width="7.0"/><path d="M1396.8 537.4h0" stroke="#ffdf00" stroke-width="7.0"/><path d="M1397.1 539.0h0" stroke="#ffdc00" stroke-width="7.0"/><path d="M1397.4 540.6h0" stroke="#ffda00" stroke-width="7.0"/><path d="M1397.7 542.3h0" stroke="#ffd700" stroke-width="7.5"/><path d="M1398.0 544.0h0" stroke="#ffd400" stroke-width="7.5"/><path d="M1398.2 545.7h0" stroke="#ffd200" stroke-width="7.5"/><path d="M1398.5 547.5h0" stroke="#ffcf00" stroke-width="7.5"/><path d="M1398.7 549.3h0" stroke="#ffcc00" stroke-width="7.5"/><path d="M1398.9 551.1h0" stroke="#ffca00" stroke-width="7.5"/><path d="M1399.1 553.0h0" stroke="#ffc700" stroke-width="7.5"/><path d="M1399.3 554.9h0" stroke="#ffc400" stroke-width="7.5"/><path d="M1399.5 556.8h0" stroke="#ffc200" stroke-width="7.5"/><path d="M1399.7 558.7h0" stroke="#ffbf00" stroke-width="7.5"/><path d="M1399.9 560.7h0" stroke="#ffbc00" stroke-width="7.5"/><path d="M1400.0 562.7h0" stroke="#ffb900" stroke-width="7.5"/><path d="M1400.2 564.7h0" stroke="#ffb700" stroke-width="7.5"/><path d="M1400.3 566.7h0" stroke="#ffb400" stroke-width="7.5"/><path d="M1400.4 568.8h0" stroke="#ffb100" stroke-width="7.5"/><path d="M1400.5 570.8h0" stroke="#ffaf00" stroke-width="7.5"/><path d="M1400.6 572.9h0" stroke="#ffac00" stroke-width="7.5"/><path d="M1400.7 575.0h0" stroke="#ffa900" stroke-width="7.5"/><path d="M1400.7 577.1h0" stroke="#ffa700" stroke-width="7.5"/><path d="M1400.8 579.3h0" stroke="#ffa100" stroke-width="7.5"/><path d="M1400.8 581.4h0" stroke="#ff9e00" stroke-width="7.5"/><path d="M1400.9 583.5h0" stroke="#ff9c00" stroke-width="7.5"/><path d="M1400.9 585.7h0" stroke="#ff9900" stroke-width="7.5"/><path d="M1400.9 587.9h0" stroke="#ff9600" stroke-width="7.5"/><path d="M1400.9 590.0h0" stroke="#ff9400" stroke-width="7.5"/><path d="M1400.9 592.2h0" stroke="#ff9100" stroke-width="7.5"/><path d="M1400.9 594.4h0" stroke="#ff8c00" stroke-width="7.5"/><path d="M1400.9 596.6h0" stroke="#ff8900" stroke-width="7.5"/><path d="M1400.8 598.8h0" stroke="#ff8600" stroke-width="7.5"/><path d="M1400.8 601.0h0" stroke="#ff8400" stroke-width="7.5"/><path d="M1400.7 603.2h0" stroke="#ff8100" stroke-width="7.5"/><path d="M1400.6 605.3h0" stroke="#ff7e00" stroke-width="7.5"/><path d="M1400.5 607.5h0" stroke="#ff7b00" stroke-width="7.5"/><path d="M1400.4 609.7h0" stroke="#ff7900" stroke-width="7.5"/><path d="M1400.3 611.9h0" stroke="#ff7300" stroke-width="7.5"/><path d="M1400.2 614.1h0" stroke="#ff7100" stroke-width="7.5"/><path d="M1400.1 616.3h0" stroke="#ff6e00" stroke-width="7.5"/><path d="M1400.0 618.4h0" stroke="#ff6b00" stroke-width="7.5"/><path d="M1399.8 620.6h0" stroke="#ff6900" stroke-width="7.5"/><path d="M1399.7 622.7h0" stroke="#ff6600" stroke-width="7.5"/><path d="M1399.5 624.9h0" stroke="#ff6300" stroke-width="7.5"/><path d="M1399.4 627.0h0" stroke="#ff6100" stroke-width="7.5"/><path d="M1399.2 629.1h0" stroke="#ff5e00" stroke-width="7.5"/><path d="M1399.0 631.3h0" stroke="#ff5b00" stroke-width="7.5"/><path d="M1398.8 633.4h0" stroke="#ff5800" stroke-width="7.5"/><path d="M1398.7 635.4h0" stroke="#ff5600" stroke-width="7.5"/><path d="M1398.4 637.5h0" stroke="#ff5300" stroke-width="7.5"/><path d="M1398.2 639.6h0" stroke="#ff5000" stroke-width="7.5"/><path d="M1398.0 641.6h0" stroke="#ff4e00" stroke-width="7.5"/><path d="M1397.8 643.6h0" stroke="#ff4b00" stroke-width="7.5"/><path d="M1397.6 645.7h0" stroke="#ff4800" stroke-width="7.5"/><path d="M1397.3 647.6h0" stroke="#ff4600" stroke-width="7.5"/><path d="M1397.1 649.6h0" stroke="#ff4300" stroke-width="7.5"/><path d="M1396.9 651.6h0" stroke="#ff4000" stroke-width="7.5"/><path d="M1396.6 653.5h0" stroke="#ff3d00" stroke-width="7.5"/><path d="M1396.4 655.4h0L1396.1 657.3" stroke="#ff3b00" stroke-width="7.5"/><path d="M1395.8 659.2h0" stroke="#ff3800" stroke-width="7.5"/><path d="M1395.6 661.1h0" stroke="#ff3500" stroke-width="7.5"/><path d="M1395.3 662.9h0" stroke="#ff3300" stroke-width="7.5"/><path d="M1395.0 664.7h0" stroke="#ff3000" stroke-width="7.5"/><path d="M1394.7 666.5h0L1394.4 668.3" stroke="#ff2d00" stroke-width="7.5"/><path d="M1394.1 670.0h0" stroke="#ff2b00" stroke-width="7.5"/><path d="M1393.8 671.8h0L1393.5 673.5" stroke="#ff2800" stroke-width="7.5"/><path d="M1393.2 675.2h0" stroke="#ff2500" stroke-width="7.5"/><path d="M1392.9 676.8h0" stroke="#ff2300" stroke-width="7.5"/><path d="M1392.6 678.4h0L1392.3 680.1" stroke="#ff2000" stroke-width="7.5"/><path d="M1392.0 681.6h0L1391.6 683.2" stroke="#ff1d00" stroke-width="7.5"/><path d="M1391.3 684.7h0" stroke="#ff1a00" stroke-width="7.5"/><path d="M1391.0 686.3h0L1390.6 687.8" stroke="#ff1800" stroke-width="7.5"/><path d="M1390.3 689.2h0L1390.0 690.7" stroke="#ff1500" stroke-width="7.5"/><path d="M1389.6 692.1h0L1389.3 693.5" stroke="#ff1200" stroke-width="7.5"/><path d="M1389.0 694.9h0L1388.6 696.2L1388.3 697.5" stroke="#ff1000" stroke-width="7.5"/><path d="M1387.9 698.8h0L1387.6 700.1" stroke="#ff0d00" stroke-width="7.5"/><path d="M1387.2 701.4h0L1386.9 702.6L1386.5 703.8" stroke="#ff0a00" stroke-width="7.5"/><path d="M1386.2 705.0h0L1385.8 706.1L1385.5 707.3" stroke="#ff0800" stroke-width="7.5"/><path d="M1385.1 708.4h0L1384.8 709.4L1384.4 710.5L1384.1 711.5" stroke="#ff0500" stroke-width="7.5"/><path d="M1383.7 712.6h0L1383.4 713.6L1383.1 714.5L1382.7 715.5L1382.4 716.4L1382.0 717.3" stroke="#ff0200" stroke-width="7.5"/><path d="M1381.7 718.1h0L1381.3 719.0L1381.0 719.8L1380.7 720.6L1380.3 721.4L1380.0 722.1L1379.7 722.9L1379.3 723.6L1379.0 724.3L1378.7 725.1L1378.4 725.8L1378.1 726.5L1377.7 727.1L1377.4 727.8L1377.1 728.5L1376.8 729.2" stroke="#ff0000" stroke-width="7.5"/><path d="M1376.5 729.9h0L1376.2 730.6L1375.9 731.2L1375.6 731.9L1375.4 732.6L1375.1 733.2L1374.8 733.9L1374.5 734.6L1374.3 735.2L1374.0 735.9L1373.8 736.6L1373.5 737.2L1373.3 737.9L1373.0 738.5L1372.8 739.2L1372.6 739.8L1372.3 740.5L1372.1 741.1L1371.9 741.7L1371.7 742.4L1371.5 743.0L1371.3 743.6L1371.2 744.2L1371.0 744.8L1370.8 745.4L1370.7 746.0L1370.5 746.6L1370.4 747.2L1370.3 747.8L1370.1 748.4L1370.0 749.0L1369.9 749.6L1369.8 750.1L1369.7 750.7L1369.7 751.3L1369.6 751.8L1369.6 752.4L1369.5 753.5L1369.4 754.5L1369.4 755.6L1369.5 756.6L1369.6 757.5" stroke="#ff0000" stroke-width="8.0"/></g>
<path d="M1053.7 717.1L1053.5 717.6L1053.4 718.1L1053.3 718.6" stroke="#0000ff" stroke-width="1.70" fill="none" stroke-linejoin="round" stroke-linecap="butt" stroke-opacity="0.92"/>
<path d="M1053.3 718.6L1053.2 719.0L1053.1 719.5L1053.0 720.0L1053.0 720.4L1053.0 720.8L1053.0 721.3L1053.0 721.7L1053.0 722.1L1053.1 722.5L1053.1 722.9L1053.2 723.3L1053.3 723.7L1053.4 724.0L1053.5 724.4L1053.7 724.8L1053.9 725.1L1054.0 725.4L1054.2 725.8L1054.4 726.1L1054.7 726.4L1054.9 726.7L1055.2 727.0L1055.5 727.3L1055.8 727.6L1056.1 727.8L1056.4 728.1L1056.7 728.4L1057.1 728.6L1057.5 728.8L1057.9 729.1L1058.3 729.3L1058.7 729.5L1059.1 729.7L1059.6 729.9L1060.0 730.1L1060.5 730.3L1061.0 730.5L1061.5 730.6L1062.1 730.8L1062.6 730.9L1063.2 731.1L1063.7 731.2L1064.3 731.4L1064.9 731.5L1065.5 731.6" stroke="#0000ff" stroke-width="1.70" fill="none" stroke-linejoin="round" stroke-linecap="butt"/>
<path d="M1065.5 731.6L1066.1 731.7L1066.8 731.8L1067.4 731.9L1068.1 732.0L1068.8 732.1L1069.5 732.1L1070.2 732.2L1070.9 732.3L1071.7 732.3L1072.4 732.4L1073.2 732.4L1074.0 732.4L1074.7 732.5L1075.5 732.5L1076.4 732.5L1077.2 732.5L1078.0 732.5L1078.9 732.5L1079.7 732.5L1080.6 732.5L1081.5 732.4L1082.4 732.4L1083.3 732.3L1084.3 732.3L1085.2 732.2L1086.1 732.2L1087.1 732.1" stroke="#0000ff" stroke-width="1.70" fill="none" stroke-linejoin="round" stroke-linecap="butt" stroke-opacity="0.92"/>
<path d="M1087.1 732.1L1088.1 732.0L1089.1 732.0L1090.1 731.9L1091.1 731.8L1092.1 731.7L1093.1 731.6L1094.2 731.5L1095.2 731.4L1096.3 731.3L1097.3 731.1L1098.4 731.0L1099.5 730.9L1100.6 730.7L1101.7 730.6L1102.9 730.4L1104.0 730.3L1105.2 730.1L1106.3 729.9L1107.5 729.8L1108.6 729.6L1109.8 729.4L1111.0 729.2" stroke="#0000ff" stroke-width="1.70" fill="none" stroke-linejoin="round" stroke-linecap="butt" stroke-opacity="0.83"/>
<path d="M1111.0 729.2L1112.2 729.0L1113.4 728.8L1114.7 728.6L1115.9 728.4L1117.1 728.2L1118.4 728.0L1119.6 727.7L1120.9 727.5L1122.2 727.3L1123.4 727.0L1124.7 726.8L1126.0 726.5L1127.3 726.3L1128.7 726.0L1130.0 725.8L1131.3 725.5L1132.6 725.2L1134.0 725.0L1135.3 724.7L1136.7 724.4L1138.1 724.1L1139.5 723.8" stroke="#0000ff" stroke-width="1.70" fill="none" stroke-linejoin="round" stroke-linecap="butt" stroke-opacity="0.75"/>
<path d="M1139.5 723.8L1140.8 723.5L1142.2 723.2L1143.6 722.9L1145.0 722.6L1146.4 722.3L1147.8 722.0L1149.3 721.7L1150.7 721.4L1152.1 721.1L1153.6 720.7L1155.0 720.4L1156.5 720.1L1157.9 719.7L1159.4 719.4L1160.9 719.0L1162.3 718.7L1163.8 718.4L1165.3 718.0L1166.8 717.6L1168.3 717.3L1169.8 716.9" stroke="#0000ff" stroke-width="1.70" fill="none" stroke-linejoin="round" stroke-linecap="butt" stroke-opacity="0.67"/>
<path d="M1169.8 716.9L1171.3 716.6L1172.8 716.2L1174.3 715.8L1175.8 715.5L1177.3 715.1L1178.8 714.7L1180.3 714.4L1181.9 714.0L1183.4 713.6L1184.9 713.2L1186.5 712.8L1188.0 712.5L1189.5 712.1L1191.1 711.7L1192.6 711.3L1194.2 710.9L1195.7 710.5L1197.3 710.1L1198.8 709.7L1200.4 709.3L1201.9 708.9L1203.5 708.5L1205.0 708.1L1206.6 707.7L1208.2 707.3" stroke="#0000ff" stroke-width="1.70" fill="none" stroke-linejoin="round" stroke-linecap="butt" stroke-opacity="0.58"/>
<path d="M1208.2 707.3L1209.7 706.9L1211.3 706.5L1212.8 706.1L1214.4 705.7L1216.0 705.3L1217.5 704.9L1219.1 704.5L1220.7 704.1L1222.2 703.7L1223.8 703.3L1225.4 702.9L1226.9 702.5L1228.5 702.1L1230.1 701.7L1231.6 701.3L1233.2 700.9L1234.7 700.5L1236.3 700.1L1237.9 699.7L1239.4 699.3L1241.0 698.9L1242.5 698.5L1244.1 698.1L1245.6 697.7L1247.1 697.3L1248.7 696.9L1250.2 696.5L1251.8 696.1L1253.3 695.7L1254.8 695.3L1256.3 694.9L1257.9 694.5L1259.4 694.1" stroke="#0000ff" stroke-width="1.70" fill="none" stroke-linejoin="round" stroke-linecap="butt" stroke-opacity="0.50"/>
<path d="M1259.4 694.1L1260.9 693.8L1262.4 693.4L1263.9 693.0L1265.4 692.6L1266.9 692.2L1268.4 691.9L1269.9 691.5L1271.4 691.1L1272.8 690.8L1274.3 690.4L1275.8 690.0L1277.2 689.7L1278.7 689.3L1280.1 689.0L1281.6 688.6L1283.0 688.3L1284.4 688.0L1285.9 687.6L1287.3 687.3L1288.7 686.9L1290.1 686.6L1291.5 686.3L1292.9 686.0L1294.2 685.7L1295.6 685.4L1297.0 685.0L1298.3 684.7L1299.7 684.4L1301.0 684.2L1302.4 683.9L1303.7 683.6L1305.0 683.3L1306.3 683.0L1307.6 682.8L1308.9 682.5L1310.2 682.2L1311.4 682.0L1312.7 681.7L1313.9 681.5L1315.2 681.2L1316.4 681.0L1317.6 680.7L1318.9 680.5L1320.1 680.3L1321.3 680.1L1322.5 679.9L1323.6 679.7L1324.8 679.4L1326.0 679.2L1327.1 679.1L1328.3 678.9L1329.4 678.7L1330.5 678.5L1331.7 678.3L1332.8 678.1L1333.9 678.0L1335.0 677.8L1336.1 677.7L1337.1 677.5L1338.2 677.4L1339.3 677.2L1340.3 677.1L1341.3 677.0L1342.4 676.8L1343.4 676.7" stroke="#0000ff" stroke-width="1.70" fill="none" stroke-linejoin="round" stroke-linecap="butt" stroke-opacity="0.42"/>
<path d="M1343.4 676.7L1344.4 676.6L1345.4 676.5L1346.4 676.4L1347.4 676.3L1348.4 676.2L1349.3 676.1L1350.3 676.0L1351.2 675.9L1352.2 675.8L1353.1 675.8L1354.0 675.7L1354.9 675.6L1355.8 675.6L1356.7 675.5L1357.6 675.5L1358.5 675.4L1359.4 675.4L1360.2 675.4L1361.1 675.3L1361.9 675.3L1362.7 675.3L1363.5 675.3L1364.4 675.3L1365.2 675.3L1365.9 675.3L1366.7 675.3L1367.5 675.3" stroke="#0000ff" stroke-width="1.70" fill="none" stroke-linejoin="round" stroke-linecap="butt" stroke-opacity="0.50"/>
<path d="M1367.5 675.3L1368.3 675.4L1369.0 675.4L1369.8 675.4L1370.5 675.4L1371.2 675.5L1371.9 675.5L1372.7 675.6L1373.3 675.7L1374.0 675.7L1374.7 675.8L1375.4 675.9L1376.0 675.9L1376.7 676.0L1377.3 676.1L1378.0 676.2L1378.6 676.3" stroke="#0000ff" stroke-width="1.70" fill="none" stroke-linejoin="round" stroke-linecap="butt" stroke-opacity="0.58"/>
<path d="M1378.6 676.3L1379.2 676.4L1379.8 676.5L1380.4 676.7L1381.0 676.8L1381.6 676.9L1382.1 677.1L1382.7 677.2L1383.2 677.3L1383.7 677.5L1384.3 677.7L1384.8 677.8L1385.3 678.0" stroke="#0000ff" stroke-width="1.70" fill="none" stroke-linejoin="round" stroke-linecap="butt" stroke-opacity="0.67"/>
<path d="M1385.3 678.0L1385.8 678.2L1386.3 678.3L1386.7 678.5L1387.2 678.7L1387.7 678.9L1388.1 679.1L1388.5 679.3L1389.0 679.6L1389.4 679.8L1389.8 680.0L1390.2 680.2L1390.6 680.5L1391.0 680.7" stroke="#0000ff" stroke-width="1.70" fill="none" stroke-linejoin="round" stroke-linecap="butt" stroke-opacity="0.75"/>
<path d="M1391.0 680.7L1391.3 681.0L1391.7 681.2L1392.0 681.5L1392.4 681.8L1392.7 682.1L1393.0 682.3L1393.3 682.6L1393.6 682.9L1393.9 683.2L1394.1 683.5L1394.4 683.8L1394.7 684.2L1394.9 684.5L1395.1 684.8L1395.4 685.2L1395.6 685.5L1395.8 685.9L1395.9 686.2L1396.1 686.6L1396.3 686.9L1396.5 687.3L1396.6 687.7L1396.7 688.1L1396.9 688.5L1397.0 688.9L1397.1 689.3L1397.2 689.7L1397.3 690.1L1397.3 690.6L1397.4 691.0L1397.4 691.4L1397.5 691.9L1397.5 692.3L1397.5 692.8L1397.5 693.3L1397.5 693.7L1397.5 694.2L1397.5 694.7L1397.4 695.2L1397.4 695.7L1397.3 696.2L1397.3 696.7L1397.2 697.2L1397.1 697.7L1397.1 698.3L1397.0 698.8L1396.8 699.3L1396.7 699.9L1396.6 700.4L1396.5 701.0L1396.3 701.5L1396.2 702.1L1396.0 702.7L1395.9 703.2L1395.7 703.8L1395.5 704.4L1395.4 705.0L1395.2 705.6L1395.0 706.2L1394.8 706.8L1394.6 707.4L1394.4 708.0L1394.1 708.6L1393.9 709.2L1393.7 709.8L1393.4 710.4L1393.2 711.1L1392.9 711.7L1392.7 712.3L1392.4 713.0L1392.2 713.6L1391.9 714.3L1391.6 714.9L1391.3 715.5L1391.1 716.2" stroke="#0000ff" stroke-width="1.70" fill="none" stroke-linejoin="round" stroke-linecap="butt" stroke-opacity="0.83"/>
<path d="M1391.1 716.2L1390.8 716.9L1390.5 717.5L1390.2 718.2L1389.9 718.8L1389.6 719.5L1389.3 720.2L1389.0 720.8L1388.7 721.5L1388.4 722.2L1388.0 722.9L1387.7 723.5L1387.4 724.2L1387.1 724.9L1386.8 725.6L1386.4 726.3L1386.1 727.0L1385.8 727.6L1385.4 728.3L1385.1 729.0L1384.8 729.7L1384.4 730.4L1384.1 731.1L1383.8 731.8L1383.4 732.5L1383.1 733.2L1382.8 733.9L1382.4 734.6L1382.1 735.3L1381.8 736.0L1381.4 736.7L1381.1 737.4L1380.8 738.1L1380.4 738.8L1380.1 739.5L1379.8 740.2L1379.4 740.9L1379.1 741.6L1378.8 742.3" stroke="#0000ff" stroke-width="1.70" fill="none" stroke-linejoin="round" stroke-linecap="butt" stroke-opacity="0.92"/>
<path d="M1378.8 742.3L1378.5 743.0L1378.1 743.7L1377.8 744.3L1377.5 745.0L1377.2 745.7L1376.9 746.4L1376.6 747.1L1376.3 747.8L1376.0 748.5L1375.7 749.2L1375.4 749.8L1375.1 750.5L1374.8 751.2L1374.5 751.9L1374.3 752.6L1374.0 753.2L1373.7 753.9L1373.5 754.6L1373.2 755.2L1373.0 755.9L1372.7 756.5L1372.5 757.2L1372.3 757.8L1372.0 758.5L1371.8 759.1L1371.6 759.8L1371.4 760.4L1371.2 761.1L1371.0 761.7L1370.8 762.3L1370.6 762.9L1370.5 763.6L1370.3 764.2L1370.1 764.8L1370.0 765.4L1369.9 766.0L1369.7 766.6L1369.6 767.2L1369.5 767.8L1369.4 768.3L1369.3 768.9L1369.2 769.5L1369.2 770.1L1369.1 770.6L1369.0 771.2L1369.0 771.7L1369.0 772.3L1368.9 772.8L1368.9 773.3L1368.9 773.8L1368.9 774.4L1368.9 774.9L1369.0 775.4L1369.0 775.9L1369.1 776.4" stroke="#0000ff" stroke-width="1.70" fill="none" stroke-linejoin="round" stroke-linecap="butt"/>
<path d="M1187.4 764.3L1340.0 794.1L1509.6 690.9L1364.5 665.1Z" fill="#0000ff" fill-opacity="0.18"/>
<defs><linearGradient id="ga" x1="0" y1="0" x2="0" y2="1"><stop offset="0.0000" stop-color="#800000"/><stop offset="0.0312" stop-color="#9f0000"/><stop offset="0.0625" stop-color="#c40000"/><stop offset="0.0938" stop-color="#e80000"/><stop offset="0.1250" stop-color="#ff1e00"/><stop offset="0.1562" stop-color="#ff3b00"/><stop offset="0.1875" stop-color="#ff5900"/><stop offset="0.2188" stop-color="#ff7700"/><stop offset="0.2500" stop-color="#ff9400"/><stop offset="0.2812" stop-color="#ffb200"/><stop offset="0.3125" stop-color="#ffd000"/><stop offset="0.3438" stop-color="#feed00"/><stop offset="0.3750" stop-color="#e4ff13"/><stop offset="0.4062" stop-color="#caff2c"/><stop offset="0.4375" stop-color="#b1ff46"/><stop offset="0.4688" stop-color="#97ff60"/><stop offset="0.5000" stop-color="#7dff7a"/><stop offset="0.5312" stop-color="#63ff94"/><stop offset="0.5625" stop-color="#49ffad"/><stop offset="0.5938" stop-color="#30ffc7"/><stop offset="0.6250" stop-color="#16ffe1"/><stop offset="0.6562" stop-color="#00e0fb"/><stop offset="0.6875" stop-color="#00c0ff"/><stop offset="0.7188" stop-color="#00a0ff"/><stop offset="0.7500" stop-color="#0080ff"/><stop offset="0.7812" stop-color="#0060ff"/><stop offset="0.8125" stop-color="#0040ff"/><stop offset="0.8438" stop-color="#0020ff"/><stop offset="0.8750" stop-color="#0000ff"/><stop offset="0.9062" stop-color="#0000ed"/><stop offset="0.9375" stop-color="#0000c8"/><stop offset="0.9688" stop-color="#0000a4"/><stop offset="1.0000" stop-color="#000080"/></linearGradient></defs><rect x="597.30" y="82.10" width="10.50" height="199.60" fill="url(#ga)" stroke="#000" stroke-width="1.1"/><path d="M607.80 220.44h4.9" stroke="#000" stroke-width="1.1" fill="none"/><path d="M607.80 159.17h4.9" stroke="#000" stroke-width="1.1" fill="none"/><path d="M607.80 97.91h4.9" stroke="#000" stroke-width="1.1" fill="none"/>
<defs><linearGradient id="gd" x1="0" y1="0" x2="0" y2="1"><stop offset="0.0000" stop-color="#ffff66"/><stop offset="0.1250" stop-color="#e0f066"/><stop offset="0.2500" stop-color="#c0e066"/><stop offset="0.3750" stop-color="#a0d066"/><stop offset="0.5000" stop-color="#80c066"/><stop offset="0.6250" stop-color="#60b066"/><stop offset="0.7500" stop-color="#40a066"/><stop offset="0.8750" stop-color="#209066"/><stop offset="1.0000" stop-color="#008066"/></linearGradient></defs><rect x="796.70" y="506.00" width="12.00" height="239.70" fill="url(#gd)" stroke="#000" stroke-width="1.1"/><path d="M808.70 506.00h4.9" stroke="#000" stroke-width="1.1" fill="none"/><path d="M808.70 566.00h4.9" stroke="#000" stroke-width="1.1" fill="none"/><path d="M808.70 626.00h4.9" stroke="#000" stroke-width="1.1" fill="none"/><path d="M808.70 686.00h4.9" stroke="#000" stroke-width="1.1" fill="none"/>
<defs><linearGradient id="ge" x1="0" y1="0" x2="0" y2="1"><stop offset="0.0000" stop-color="#ffff00"/><stop offset="0.1250" stop-color="#ffe000"/><stop offset="0.2500" stop-color="#ffc000"/><stop offset="0.3750" stop-color="#ffa000"/><stop offset="0.5000" stop-color="#ff8000"/><stop offset="0.6250" stop-color="#ff6000"/><stop offset="0.7500" stop-color="#ff4000"/><stop offset="0.8750" stop-color="#ff2000"/><stop offset="1.0000" stop-color="#ff0000"/></linearGradient></defs><rect x="1641.00" y="506.00" width="12.00" height="239.70" fill="url(#ge)" stroke="#000" stroke-width="1.1"/><path d="M1653.00 745.70h4.9" stroke="#000" stroke-width="1.1" fill="none"/><path d="M1653.00 692.50h4.9" stroke="#000" stroke-width="1.1" fill="none"/><path d="M1653.00 639.31h4.9" stroke="#000" stroke-width="1.1" fill="none"/><path d="M1653.00 586.11h4.9" stroke="#000" stroke-width="1.1" fill="none"/><path d="M1653.00 532.92h4.9" stroke="#000" stroke-width="1.1" fill="none"/>
<path d="M793.0 103.3L795.0 105.1L797.1 106.9L799.1 108.6L801.2 110.4L803.2 112.1L805.2 113.9L807.3 115.5L809.3 117.2L811.4 118.9L813.4 120.5L815.5 122.1L817.5 123.7L819.5 125.2L821.6 126.7L823.6 128.2L825.7 129.6L827.7 131.0L829.7 132.4L831.8 133.7L833.8 135.0L835.9 136.3L837.9 137.5L839.9 138.6L842.0 139.7L844.0 140.8L846.1 141.8L848.1 142.8L850.2 143.7L852.2 144.6L854.2 145.4L856.3 146.2L858.3 146.9L860.4 147.6L862.4 148.2L864.4 148.8L866.5 149.3L868.5 149.7L870.6 150.1L872.6 150.4L874.6 150.7L876.7 150.9L878.7 151.1L880.8 151.2L882.8 151.2L884.9 151.2L886.9 151.2L888.9 151.0L891.0 150.8L893.0 150.6L895.1 150.3L897.1 149.9L899.1 149.5L901.2 149.1L903.2 148.5L905.3 148.0L907.3 147.3L909.3 146.7L911.4 145.9L913.4 145.1L915.5 144.3L917.5 143.4L919.6 142.4L921.6 141.5L923.6 140.4L925.7 139.3L927.7 138.2L929.8 137.0L931.8 135.8L933.8 134.5L935.9 133.2L937.9 131.9L940.0 130.5L942.0 129.1L944.0 127.6L946.1 126.1L948.1 124.6L950.2 123.1L952.2 121.5L954.3 119.9L956.3 118.2L958.3 116.6L960.4 114.9L962.4 113.2L964.5 111.5L966.5 109.7L968.5 108.0L970.6 106.2L972.6 104.4L974.7 102.6L976.7 100.8L978.7 99.0L980.8 97.2L982.8 95.3L984.9 93.5L986.9 91.7L989.0 89.9L991.0 88.0L993.0 86.2L995.1 84.4L997.1 82.6L999.2 80.8L1001.2 79.1L1003.2 77.3L1005.3 75.6L1007.3 73.8L1009.4 72.1L1011.4 70.4L1013.5 68.8L1015.5 67.1L1017.5 65.5L1019.6 63.9L1021.6 62.4L1023.7 60.9L1025.7 59.4L1027.7 57.9L1029.8 56.5L1031.8 55.1L1033.9 53.7L1035.9 52.4L1037.9 51.2L1040.0 49.9L1042.0 48.8L1044.1 47.6L1046.1 46.5L1048.2 45.5L1050.2 44.5L1052.2 43.5L1054.3 42.6L1056.3 41.8L1058.4 41.0L1060.4 40.3L1062.4 39.6L1064.5 38.9L1066.5 38.3L1068.6 37.8L1070.6 37.3L1072.6 36.9L1074.7 36.6L1076.7 36.3L1078.8 36.0L1080.8 35.8L1082.9 35.7L1084.9 35.6L1086.9 35.6L1089.0 35.6L1091.0 35.7L1093.1 35.9L1095.1 36.1L1097.1 36.4L1099.2 36.7L1101.2 37.1L1103.3 37.5L1105.3 38.0L1107.3 38.6L1109.4 39.2L1111.4 39.8L1113.5 40.5L1115.5 41.3L1117.6 42.1L1119.6 43.0L1121.6 43.9L1123.7 44.9L1125.7 45.9L1127.8 46.9L1129.8 48.1L1131.8 49.2L1133.9 50.4L1135.9 51.7L1138.0 52.9L1140.0 54.3L1142.0 55.6L1144.1 57.0L1146.1 58.5L1148.2 59.9L1150.2 61.4L1152.3 63.0L1154.3 64.5L1156.3 66.1L1158.4 67.8L1160.4 69.4L1162.5 71.1L1164.5 72.8L1166.5 74.5L1168.6 76.2L1170.6 78.0L1172.7 79.7L1174.7 81.5L1176.7 83.3L1178.8 85.1L1180.8 86.9L1182.9 88.7L1184.9 90.6L1187.0 92.4L1189.0 94.2L1191.0 96.0L1193.1 97.9L1195.1 99.7L1197.2 101.5L1199.2 103.3" stroke="#0000ff" stroke-width="1.70" fill="none" stroke-dasharray="1.7 3.0"/><path d="M793.0 93.9L795.0 92.5L797.1 91.0L799.1 89.6L801.2 88.2L803.2 86.9L805.2 85.5L807.3 84.1L809.3 82.8L811.4 81.5L813.4 80.2L815.5 79.0L817.5 77.7L819.5 76.5L821.6 75.3L823.6 74.2L825.7 73.1L827.7 72.0L829.7 70.9L831.8 69.9L833.8 68.9L835.9 67.9L837.9 67.0L839.9 66.1L842.0 65.3L844.0 64.5L846.1 63.7L848.1 62.9L850.2 62.3L852.2 61.6L854.2 61.0L856.3 60.4L858.3 59.9L860.4 59.4L862.4 59.0L864.4 58.6L866.5 58.3L868.5 58.0L870.6 57.7L872.6 57.5L874.6 57.3L876.7 57.2L878.7 57.1L880.8 57.1L882.8 57.2L884.9 57.2L886.9 57.3L888.9 57.5L891.0 57.7L893.0 58.0L895.1 58.3L897.1 58.6L899.1 59.0L901.2 59.4L903.2 59.9L905.3 60.4L907.3 61.0L909.3 61.6L911.4 62.3L913.4 63.0L915.5 63.7L917.5 64.5L919.6 65.3L921.6 66.1L923.6 67.0L925.7 68.0L927.7 68.9L929.8 69.9L931.8 70.9L933.8 72.0L935.9 73.1L937.9 74.2L940.0 75.4L942.0 76.6L944.0 77.8L946.1 79.0L948.1 80.3L950.2 81.6L952.2 82.9L954.3 84.2L956.3 85.5L958.3 86.9L960.4 88.3L962.4 89.7L964.5 91.1L966.5 92.5L968.5 94.0L970.6 95.4L972.6 96.9L974.7 98.3L976.7 99.8L978.7 101.2L980.8 102.7L982.8 104.2L984.9 105.7L986.9 107.1L989.0 108.6L991.0 110.1L993.0 111.5L995.1 113.0L997.1 114.4L999.2 115.8L1001.2 117.3L1003.2 118.7L1005.3 120.1L1007.3 121.4L1009.4 122.8L1011.4 124.1L1013.5 125.4L1015.5 126.7L1017.5 128.0L1019.6 129.3L1021.6 130.5L1023.7 131.7L1025.7 132.8L1027.7 134.0L1029.8 135.1L1031.8 136.2L1033.9 137.2L1035.9 138.2L1037.9 139.2L1040.0 140.1L1042.0 141.1L1044.1 141.9L1046.1 142.8L1048.2 143.5L1050.2 144.3L1052.2 145.0L1054.3 145.7L1056.3 146.3L1058.4 146.9L1060.4 147.4L1062.4 147.9L1064.5 148.4L1066.5 148.8L1068.6 149.2L1070.6 149.5L1072.6 149.8L1074.7 150.0L1076.7 150.2L1078.8 150.3L1080.8 150.4L1082.9 150.5L1084.9 150.5L1086.9 150.4L1089.0 150.3L1091.0 150.2L1093.1 150.0L1095.1 149.8L1097.1 149.5L1099.2 149.2L1101.2 148.8L1103.3 148.4L1105.3 147.9L1107.3 147.4L1109.4 146.9L1111.4 146.3L1113.5 145.7L1115.5 145.0L1117.6 144.3L1119.6 143.5L1121.6 142.7L1123.7 141.9L1125.7 141.0L1127.8 140.1L1129.8 139.2L1131.8 138.2L1133.9 137.2L1135.9 136.1L1138.0 135.1L1140.0 133.9L1142.0 132.8L1144.1 131.6L1146.1 130.4L1148.2 129.2L1150.2 128.0L1152.3 126.7L1154.3 125.4L1156.3 124.1L1158.4 122.7L1160.4 121.4L1162.5 120.0L1164.5 118.6L1166.5 117.2L1168.6 115.8L1170.6 114.4L1172.7 112.9L1174.7 111.5L1176.7 110.0L1178.8 108.6L1180.8 107.1L1182.9 105.6L1184.9 104.1L1187.0 102.7L1189.0 101.2L1191.0 99.7L1193.1 98.3L1195.1 96.8L1197.2 95.4L1199.2 93.9" stroke="#008000" stroke-width="1.70" fill="none" stroke-dasharray="1.7 3.0"/><path d="M793.0 73.3L900.0 73.3L940.0 73.3L945.2 73.3L945.7 73.2L946.2 73.1L946.2 73.1L946.7 73.0L947.2 72.9L947.2 72.9L947.7 72.8L948.2 72.6L948.2 72.6L948.7 72.5L949.2 72.3L949.2 72.3L949.7 72.1L950.2 71.9L950.2 71.9L950.7 71.7L951.2 71.4L951.2 71.4L951.7 71.1L952.2 70.8L952.2 70.8L952.7 70.5L953.2 70.2L953.2 70.2L953.7 69.9L954.2 69.6L954.2 69.5L954.7 69.2L955.2 68.9L955.2 68.9L955.7 68.6L956.2 68.3L956.2 68.3L956.7 68.0L957.2 67.7L957.2 67.7L958.2 67.1L959.2 66.7L960.2 66.3L961.2 66.0L962.2 65.7L963.2 65.6L964.3 65.5L965.3 65.5L966.3 65.6L967.3 65.8L968.3 66.0L969.3 66.3L970.3 66.7L971.3 67.1L972.3 67.6L973.3 68.2L974.3 68.8L975.3 69.5L976.3 70.2L977.3 70.9L978.3 71.7L979.3 72.5L980.3 73.3L981.3 74.1L982.3 74.9L983.3 75.8L984.3 76.6L985.3 77.5L986.3 78.3L987.3 79.1L988.3 80.0L989.3 80.8L990.3 81.7L991.3 82.5L992.3 83.3L993.3 84.2L994.3 85.0L995.3 85.9L996.3 86.7L997.3 87.6L998.3 88.5L999.3 89.3L1000.4 90.2L1001.4 91.1L1002.4 91.9L1003.4 92.8L1004.4 93.6L1005.4 94.5L1006.4 95.4L1007.4 96.2L1008.4 97.0L1009.4 97.9L1010.4 98.7L1011.4 99.5L1012.4 100.4L1013.4 101.2L1014.4 102.0L1015.4 102.8L1016.4 103.6L1017.4 104.4L1018.4 105.1L1019.4 105.9L1020.4 106.7L1021.4 107.5L1022.4 108.2L1023.4 108.9L1024.4 109.6L1025.4 110.3L1026.4 111.0L1027.4 111.6L1028.4 112.2L1029.4 112.8L1030.4 113.3L1031.4 113.8L1032.4 114.3L1033.4 114.7L1034.4 115.0L1035.4 115.3L1036.4 115.6L1037.5 115.7L1038.5 115.9L1039.5 116.0L1040.5 116.0L1041.5 116.0L1042.5 115.9L1043.5 115.8L1044.5 115.6L1045.5 115.4L1046.5 115.2L1047.5 114.9L1048.5 114.6L1049.5 114.2L1050.5 113.8L1051.5 113.4L1052.5 112.9L1053.5 112.5L1054.5 112.0L1055.5 111.4L1056.5 110.9L1057.5 110.3L1058.5 109.7L1059.5 109.1L1060.5 108.4L1061.5 107.7L1062.5 107.0L1063.5 106.3L1064.5 105.5L1065.5 104.7L1066.5 103.9L1067.5 103.1L1068.5 102.3L1069.5 101.5L1070.5 100.6L1071.5 99.8L1072.5 99.0L1073.6 98.2L1074.6 97.4L1075.6 96.6L1076.6 95.9L1077.6 95.1L1078.6 94.4L1079.6 93.6L1080.6 92.9L1081.6 92.3L1082.6 91.6L1083.6 90.9L1084.6 90.3L1085.6 89.7L1086.6 89.1L1087.6 88.5L1088.6 87.9L1089.6 87.4L1090.6 86.8L1091.6 86.3L1092.6 85.8L1093.6 85.3L1094.6 84.8L1095.6 84.4L1096.6 83.9L1097.6 83.5L1098.6 83.1L1099.6 82.7L1100.6 82.3L1101.6 81.9L1102.6 81.6L1103.6 81.2L1104.6 80.9L1105.6 80.5L1106.6 80.2L1107.6 79.9L1108.6 79.6L1109.6 79.3L1110.7 79.1L1111.7 78.8L1112.7 78.5L1113.7 78.3L1114.7 78.0L1115.7 77.8L1116.7 77.6L1117.7 77.3L1118.7 77.1L1119.7 76.9L1120.7 76.7L1121.7 76.5L1122.7 76.4L1123.7 76.2L1124.7 76.0L1125.7 75.9L1126.7 75.7L1127.7 75.6L1128.7 75.4L1129.7 75.3L1130.7 75.2L1131.7 75.0L1132.7 74.9L1133.7 74.8L1134.7 74.7L1135.7 74.6L1136.7 74.5L1137.7 74.5L1138.7 74.4L1139.7 74.3L1140.7 74.2L1141.7 74.1L1142.7 74.1L1143.7 74.0L1144.7 74.0L1145.7 73.9L1146.8 73.8L1147.8 73.8L1148.8 73.7L1149.8 73.7L1150.8 73.6L1151.8 73.6L1152.8 73.6L1153.8 73.5L1154.8 73.5L1155.8 73.4L1156.8 73.4L1157.8 73.4L1158.8 73.4L1159.8 73.3L1160.8 73.3L1161.8 73.3L1162.8 73.3L1163.8 73.3L1164.8 73.3L1199.2 73.3" stroke="#0000ff" stroke-width="1.90" fill="none" stroke-linejoin="round"/><path d="M793.0 73.3L900.0 73.3L940.0 73.3L945.2 73.3L945.7 73.8L946.0 74.1L946.2 74.2L946.7 74.7L946.9 74.9L947.2 75.2L947.7 75.7L947.7 75.7L948.2 76.2L948.5 76.5L948.7 76.7L949.2 77.2L949.3 77.4L949.7 77.8L950.2 78.4L950.2 78.4L950.7 79.1L951.0 79.5L951.2 79.8L951.7 80.6L951.8 80.9L952.2 81.6L952.7 82.5L952.7 82.6L953.2 83.7L953.5 84.3L953.7 84.8L954.2 86.0L954.3 86.3L954.7 87.3L955.1 88.4L955.2 88.5L955.7 89.8L956.0 90.5L956.2 91.1L956.7 92.3L956.8 92.6L957.2 93.6L957.6 94.6L958.5 96.4L959.3 98.1L960.1 99.6L960.9 100.9L961.8 102.2L962.6 103.3L963.4 104.4L964.3 105.3L965.1 106.2L965.9 107.1L966.7 107.8L967.6 108.5L968.4 109.1L969.2 109.6L970.1 110.0L970.9 110.4L971.7 110.6L972.5 110.7L973.4 110.7L974.2 110.6L975.0 110.3L975.9 110.0L976.7 109.6L977.5 109.2L978.4 108.7L979.2 108.2L980.0 107.7L980.8 107.1L981.7 106.5L982.5 106.0L983.3 105.4L984.2 104.7L985.0 104.1L985.8 103.5L986.6 102.8L987.5 102.1L988.3 101.5L989.1 100.8L990.0 100.0L990.8 99.3L991.6 98.6L992.4 97.8L993.3 97.1L994.1 96.3L994.9 95.5L995.8 94.8L996.6 94.0L997.4 93.3L998.2 92.5L999.1 91.8L999.9 91.0L1000.7 90.3L1001.6 89.6L1002.4 88.9L1003.2 88.2L1004.0 87.5L1004.9 86.8L1005.7 86.2L1006.5 85.5L1007.4 84.9L1008.2 84.2L1009.0 83.6L1009.8 82.9L1010.7 82.3L1011.5 81.7L1012.3 81.1L1013.2 80.4L1014.0 79.8L1014.8 79.2L1015.6 78.6L1016.5 78.0L1017.3 77.4L1018.1 76.8L1019.0 76.2L1019.8 75.6L1020.6 75.0L1021.4 74.5L1022.3 73.9L1023.1 73.4L1023.9 72.8L1024.8 72.3L1025.6 71.8L1026.4 71.3L1027.2 70.8L1028.1 70.3L1028.9 69.8L1029.7 69.4L1030.6 68.9L1031.4 68.5L1032.2 68.1L1033.0 67.7L1033.9 67.3L1034.7 66.9L1035.5 66.5L1036.4 66.1L1037.2 65.8L1038.0 65.4L1038.9 65.1L1039.7 64.8L1040.5 64.5L1041.3 64.2L1042.2 64.0L1043.0 63.8L1043.8 63.5L1044.7 63.3L1045.5 63.1L1046.3 63.0L1047.1 62.8L1048.0 62.7L1048.8 62.6L1049.6 62.5L1050.5 62.5L1051.3 62.4L1052.1 62.4L1052.9 62.4L1053.8 62.4L1054.6 62.4L1055.4 62.5L1056.3 62.5L1057.1 62.6L1057.9 62.7L1058.7 62.8L1059.6 62.9L1060.4 63.0L1061.2 63.1L1062.1 63.3L1062.9 63.4L1063.7 63.6L1064.5 63.7L1065.4 63.9L1066.2 64.1L1067.0 64.3L1067.9 64.5L1068.7 64.7L1069.5 64.9L1070.3 65.1L1071.2 65.4L1072.0 65.6L1072.8 65.8L1073.7 66.0L1074.5 66.2L1075.3 66.5L1076.1 66.7L1077.0 66.9L1077.8 67.1L1078.6 67.3L1079.5 67.5L1080.3 67.7L1081.1 67.9L1081.9 68.1L1082.8 68.3L1083.6 68.5L1084.4 68.6L1085.3 68.8L1086.1 69.0L1086.9 69.1L1087.7 69.3L1088.6 69.4L1089.4 69.6L1090.2 69.7L1091.1 69.9L1091.9 70.0L1092.7 70.1L1093.5 70.2L1094.4 70.4L1095.2 70.5L1096.0 70.6L1096.9 70.7L1097.7 70.8L1098.5 70.9L1099.4 71.0L1100.2 71.1L1101.0 71.2L1101.8 71.3L1102.7 71.4L1103.5 71.5L1104.3 71.6L1105.2 71.6L1106.0 71.7L1106.8 71.8L1107.6 71.9L1108.5 72.0L1109.3 72.1L1110.1 72.2L1111.0 72.3L1111.8 72.3L1112.6 72.4L1113.4 72.5L1114.3 72.6L1115.1 72.7L1115.9 72.7L1116.8 72.8L1117.6 72.9L1118.4 73.0L1119.2 73.0L1120.1 73.1L1120.9 73.1L1121.7 73.2L1122.6 73.2L1123.4 73.2L1124.2 73.3L1125.0 73.3L1125.9 73.3L1126.7 73.3L1150.5 73.3L1199.2 73.3" stroke="#008000" stroke-width="1.90" fill="none" stroke-linejoin="round"/><path d="M945.33 31.40V157.10" stroke="#ff0000" stroke-width="2.1" fill="none"/><rect x="793.00" y="31.40" width="406.20" height="125.70" fill="none" stroke="#000" stroke-width="1.1"/><path d="M793.00 157.10v4.9" stroke="#000" stroke-width="1.1" fill="none"/><path d="M894.55 157.10v4.9" stroke="#000" stroke-width="1.1" fill="none"/><path d="M996.10 157.10v4.9" stroke="#000" stroke-width="1.1" fill="none"/><path d="M1097.65 157.10v4.9" stroke="#000" stroke-width="1.1" fill="none"/><path d="M1199.20 157.10v4.9" stroke="#000" stroke-width="1.1" fill="none"/><path d="M793.00 31.40h-4.9" stroke="#000" stroke-width="1.1" fill="none"/><path d="M793.00 73.30h-4.9" stroke="#000" stroke-width="1.1" fill="none"/><path d="M793.00 115.20h-4.9" stroke="#000" stroke-width="1.1" fill="none"/><path d="M793.00 157.10h-4.9" stroke="#000" stroke-width="1.1" fill="none"/>
<rect x="793.00" y="227.40" width="11.50" height="125.20" fill="#0000ff" fill-opacity="0.12"/><rect x="804.50" y="227.40" width="203.06" height="125.20" fill="#008000" fill-opacity="0.1"/><rect x="1007.55" y="227.40" width="191.65" height="125.20" fill="#0000ff" fill-opacity="0.12"/><path d="M793.0 248.6L900.0 248.6L980.0 248.6L980.5 248.6L980.9 248.6L981.0 248.6L981.5 248.6L981.7 248.6L982.0 248.6L982.5 248.6L982.6 248.6L983.0 248.6L983.4 248.6L983.5 248.6L984.0 248.6L984.3 248.6L984.5 248.6L985.0 248.6L985.2 248.6L985.5 248.6L986.0 248.6L986.0 248.6L986.5 248.6L986.9 248.6L987.0 248.6L987.5 248.6L987.8 248.6L988.0 248.6L988.5 248.6L988.6 248.6L989.0 248.6L989.5 248.6L989.5 248.6L990.0 248.6L990.3 248.6L990.5 248.6L991.0 248.6L991.2 248.6L991.5 248.6L992.0 248.6L992.1 248.6L992.9 248.6L993.8 248.6L994.6 248.6L995.5 248.6L996.4 248.7L997.2 248.7L998.1 248.7L998.9 248.8L999.8 248.8L1000.7 248.8L1001.5 248.9L1002.4 248.9L1003.3 249.0L1004.1 249.0L1005.0 249.1L1005.8 249.2L1006.7 249.2L1007.6 249.3L1008.4 249.4L1009.3 249.5L1010.1 249.6L1011.0 249.7L1011.9 249.8L1012.7 249.9L1013.6 250.0L1014.4 250.2L1015.3 250.3L1016.2 250.5L1017.0 250.7L1017.9 251.0L1018.8 251.2L1019.6 251.5L1020.5 251.8L1021.3 252.1L1022.2 252.4L1023.1 252.8L1023.9 253.2L1024.8 253.6L1025.6 254.1L1026.5 254.6L1027.4 255.1L1028.2 255.7L1029.1 256.3L1029.9 257.0L1030.8 257.6L1031.7 258.4L1032.5 259.2L1033.4 260.0L1034.3 260.9L1035.1 261.8L1036.0 262.8L1036.8 263.8L1037.7 264.9L1038.6 266.0L1039.4 267.2L1040.3 268.4L1041.1 269.6L1042.0 270.8L1042.9 272.1L1043.7 273.4L1044.6 274.7L1045.5 276.0L1046.3 277.4L1047.2 278.7L1048.0 280.1L1048.9 281.4L1049.8 282.8L1050.6 284.1L1051.5 285.5L1052.3 286.9L1053.2 288.2L1054.1 289.6L1054.9 291.0L1055.8 292.4L1056.6 293.8L1057.5 295.2L1058.4 296.6L1059.2 298.0L1060.1 299.4L1061.0 300.8L1061.8 302.2L1062.7 303.6L1063.5 305.0L1064.4 306.4L1065.3 307.8L1066.1 309.2L1067.0 310.5L1067.8 311.9L1068.7 313.2L1069.6 314.5L1070.4 315.8L1071.3 317.1L1072.1 318.4L1073.0 319.6L1073.9 320.8L1074.7 321.9L1075.6 323.1L1076.5 324.1L1077.3 325.2L1078.2 326.2L1079.0 327.1L1079.9 328.0L1080.8 328.8L1081.6 329.6L1082.5 330.3L1083.3 330.8L1084.2 331.3L1085.1 331.6L1085.9 331.7L1086.8 331.7L1087.6 331.6L1088.5 331.3L1089.4 330.9L1090.2 330.4L1091.1 329.8L1092.0 329.0L1092.8 328.2L1093.7 327.2L1094.5 326.2L1095.4 325.0L1096.3 323.8L1097.1 322.6L1098.0 321.2L1098.8 319.8L1099.7 318.3L1100.6 316.8L1101.4 315.2L1102.3 313.6L1103.1 311.9L1104.0 310.2L1104.9 308.5L1105.7 306.8L1106.6 305.0L1107.5 303.2L1108.3 301.5L1109.2 299.7L1110.0 298.0L1110.9 296.2L1111.8 294.5L1112.6 292.8L1113.5 291.1L1114.3 289.4L1115.2 287.8L1116.1 286.1L1116.9 284.6L1117.8 283.0L1118.7 281.4L1119.5 279.9L1120.4 278.5L1121.2 277.0L1122.1 275.6L1123.0 274.2L1123.8 272.9L1124.7 271.5L1125.5 270.3L1126.4 269.0L1127.3 267.8L1128.1 266.7L1129.0 265.6L1129.8 264.6L1130.7 263.6L1131.6 262.6L1132.4 261.7L1133.3 260.9L1134.2 260.1L1135.0 259.3L1135.9 258.6L1136.7 257.9L1137.6 257.3L1138.5 256.7L1139.3 256.1L1140.2 255.6L1141.0 255.1L1141.9 254.6L1142.8 254.1L1143.6 253.7L1144.5 253.3L1145.3 252.9L1146.2 252.5L1147.1 252.2L1147.9 251.8L1148.8 251.5L1149.7 251.2L1150.5 251.0L1151.4 250.7L1152.2 250.5L1153.1 250.3L1154.0 250.1L1154.8 249.9L1155.7 249.7L1156.5 249.6L1157.4 249.4L1158.3 249.3L1159.1 249.2L1160.0 249.1L1160.8 249.0L1161.7 248.9L1162.6 248.8L1163.4 248.8L1164.3 248.7L1165.2 248.7L1166.0 248.6L1166.9 248.6L1167.7 248.6L1168.6 248.6L1199.2 248.6" stroke="#0000ff" stroke-width="1.90" fill="none" stroke-linejoin="round"/><path d="M793.0 248.6L900.0 248.6L940.0 248.6L945.2 248.6L945.6 248.7L945.7 248.7L945.9 248.8L946.2 248.8L946.3 248.8L946.6 248.9L946.7 248.9L947.0 249.0L947.2 249.0L947.3 249.1L947.7 249.1L947.7 249.2L948.0 249.2L948.2 249.3L948.4 249.3L948.7 249.4L948.8 249.4L949.1 249.5L949.2 249.5L949.5 249.6L949.7 249.7L949.8 249.7L950.2 249.8L950.2 249.8L950.5 249.9L950.7 249.9L950.9 250.0L951.2 250.1L951.2 250.1L951.6 250.2L951.7 250.2L951.9 250.3L952.2 250.4L952.3 250.5L952.7 250.6L952.7 250.6L953.0 250.7L953.2 250.8L953.4 250.8L953.7 251.0L953.7 251.0L954.1 251.1L954.2 251.2L954.4 251.3L954.7 251.4L954.8 251.4L955.1 251.6L955.2 251.6L955.5 251.7L955.7 251.8L955.9 251.9L956.2 252.0L956.2 252.0L956.6 252.2L956.7 252.3L956.9 252.4L957.2 252.5L957.3 252.5L957.6 252.7L958.0 252.8L958.3 253.0L958.7 253.2L959.1 253.3L959.4 253.5L959.8 253.6L960.1 253.8L960.5 253.9L960.8 254.1L961.2 254.2L961.5 254.4L961.9 254.5L962.3 254.6L962.6 254.7L963.0 254.8L963.3 254.9L963.7 255.0L964.0 255.1L964.4 255.2L964.7 255.3L965.1 255.4L965.4 255.4L965.8 255.5L966.2 255.6L966.5 255.6L966.9 255.7L967.2 255.7L967.6 255.8L967.9 255.8L968.3 255.8L968.6 255.9L969.0 255.9L969.4 255.9L969.7 255.9L970.1 255.9L970.4 255.9L970.8 255.9L971.1 255.9L971.5 255.9L971.8 255.9L972.2 255.9L972.6 255.9L972.9 255.9L973.3 255.9L973.6 255.8L974.0 255.8L974.3 255.8L974.7 255.7L975.0 255.7L975.4 255.7L975.8 255.6L976.1 255.6L976.5 255.5L976.8 255.5L977.2 255.4L977.5 255.4L977.9 255.3L978.2 255.2L978.6 255.2L978.9 255.1L979.3 255.0L979.7 255.0L980.0 254.9L980.4 254.8L980.7 254.8L981.1 254.7L981.4 254.6L981.8 254.5L982.1 254.4L982.5 254.4L982.9 254.3L983.2 254.2L983.6 254.1L983.9 254.0L984.3 253.9L984.6 253.8L985.0 253.8L985.3 253.7L985.7 253.6L986.1 253.5L986.4 253.4L986.8 253.3L987.1 253.2L987.5 253.1L987.8 253.0L988.2 252.9L988.5 252.9L988.9 252.8L989.3 252.7L989.6 252.6L990.0 252.5L990.3 252.4L990.7 252.3L991.0 252.2L991.4 252.1L991.7 252.1L992.1 252.0L992.4 251.9L992.8 251.8L993.2 251.7L993.5 251.6L993.9 251.6L994.2 251.5L994.6 251.4L994.9 251.3L995.3 251.3L995.6 251.2L996.0 251.1L996.4 251.0L996.7 251.0L997.1 250.9L997.4 250.8L997.8 250.8L998.1 250.7L998.5 250.6L998.8 250.6L999.2 250.5L999.6 250.4L999.9 250.4L1000.3 250.3L1000.6 250.2L1001.0 250.2L1001.3 250.1L1001.7 250.1L1002.0 250.0L1002.4 250.0L1002.8 249.9L1003.1 249.9L1003.5 249.8L1003.8 249.8L1004.2 249.7L1004.5 249.7L1004.9 249.6L1005.2 249.6L1005.6 249.5L1005.9 249.5L1006.3 249.4L1006.7 249.4L1007.0 249.4L1007.4 249.3L1007.7 249.3L1008.1 249.3L1008.4 249.2L1008.8 249.2L1009.1 249.2L1009.5 249.1L1009.9 249.1L1010.2 249.1L1010.6 249.0L1010.9 249.0L1011.3 249.0L1011.6 249.0L1012.0 248.9L1012.3 248.9L1012.7 248.9L1013.1 248.9L1013.4 248.8L1013.8 248.8L1014.1 248.8L1014.5 248.8L1014.8 248.8L1015.2 248.8L1015.5 248.7L1015.9 248.7L1016.3 248.7L1016.6 248.7L1017.0 248.7L1017.3 248.7L1017.7 248.7L1018.0 248.7L1018.4 248.7L1018.7 248.6L1019.1 248.6L1019.4 248.6L1019.8 248.6L1020.2 248.6L1020.5 248.6L1020.9 248.6L1021.2 248.6L1021.6 248.6L1021.9 248.6L1022.3 248.6L1022.6 248.6L1023.0 248.6L1100.0 248.6L1199.2 248.6" stroke="#008000" stroke-width="1.90" fill="none" stroke-linejoin="round"/><path d="M945.33 227.40V352.60" stroke="#ff0000" stroke-width="2.1" fill="none"/><rect x="793.00" y="227.40" width="406.20" height="125.20" fill="none" stroke="#000" stroke-width="1.1"/><path d="M793.00 352.60v4.9" stroke="#000" stroke-width="1.1" fill="none"/><path d="M894.55 352.60v4.9" stroke="#000" stroke-width="1.1" fill="none"/><path d="M996.10 352.60v4.9" stroke="#000" stroke-width="1.1" fill="none"/><path d="M1097.65 352.60v4.9" stroke="#000" stroke-width="1.1" fill="none"/><path d="M1199.20 352.60v4.9" stroke="#000" stroke-width="1.1" fill="none"/><path d="M793.00 248.60h-4.9" stroke="#000" stroke-width="1.1" fill="none"/><path d="M793.00 290.40h-4.9" stroke="#000" stroke-width="1.1" fill="none"/><path d="M793.00 332.20h-4.9" stroke="#000" stroke-width="1.1" fill="none"/>
<path d="M1329.0 104.2L1331.1 106.0L1333.3 107.8L1335.4 109.5L1337.6 111.3L1339.7 113.0L1341.9 114.7L1344.0 116.4L1346.2 118.1L1348.3 119.7L1350.5 121.3L1352.6 122.9L1354.8 124.5L1356.9 126.0L1359.1 127.5L1361.2 129.0L1363.4 130.4L1365.5 131.8L1367.7 133.2L1369.8 134.5L1371.9 135.8L1374.1 137.0L1376.2 138.2L1378.4 139.4L1380.5 140.5L1382.7 141.5L1384.8 142.6L1387.0 143.5L1389.1 144.4L1391.3 145.3L1393.4 146.1L1395.6 146.9L1397.7 147.6L1399.9 148.3L1402.0 148.9L1404.2 149.4L1406.3 149.9L1408.4 150.4L1410.6 150.8L1412.7 151.1L1414.9 151.4L1417.0 151.6L1419.2 151.7L1421.3 151.8L1423.5 151.9L1425.6 151.9L1427.8 151.8L1429.9 151.7L1432.1 151.5L1434.2 151.3L1436.4 151.0L1438.5 150.6L1440.7 150.2L1442.8 149.7L1445.0 149.2L1447.1 148.7L1449.2 148.0L1451.4 147.3L1453.5 146.6L1455.7 145.8L1457.8 145.0L1460.0 144.1L1462.1 143.2L1464.3 142.2L1466.4 141.1L1468.6 140.1L1470.7 138.9L1472.9 137.8L1475.0 136.5L1477.2 135.3L1479.3 134.0L1481.5 132.7L1483.6 131.3L1485.7 129.9L1487.9 128.4L1490.0 126.9L1492.2 125.4L1494.3 123.9L1496.5 122.3L1498.6 120.7L1500.8 119.1L1502.9 117.4L1505.1 115.8L1507.2 114.1L1509.4 112.3L1511.5 110.6L1513.7 108.9L1515.8 107.1L1518.0 105.3L1520.1 103.5L1522.3 101.7L1524.4 99.9L1526.5 98.1L1528.7 96.3L1530.8 94.5L1533.0 92.7L1535.1 90.9L1537.3 89.0L1539.4 87.2L1541.6 85.4L1543.7 83.7L1545.9 81.9L1548.0 80.1L1550.2 78.4L1552.3 76.6L1554.5 74.9L1556.6 73.2L1558.8 71.5L1560.9 69.9L1563.0 68.2L1565.2 66.6L1567.3 65.1L1569.5 63.5L1571.6 62.0L1573.8 60.5L1575.9 59.1L1578.1 57.6L1580.2 56.3L1582.4 54.9L1584.5 53.6L1586.7 52.4L1588.8 51.1L1591.0 50.0L1593.1 48.8L1595.3 47.8L1597.4 46.7L1599.6 45.7L1601.7 44.8L1603.8 43.9L1606.0 43.0L1608.1 42.2L1610.3 41.5L1612.4 40.8L1614.6 40.2L1616.7 39.6L1618.9 39.1L1621.0 38.6L1623.2 38.2L1625.3 37.8L1627.5 37.5L1629.6 37.3L1631.8 37.1L1633.9 37.0L1636.1 36.9L1638.2 36.9L1640.3 36.9L1642.5 37.0L1644.6 37.2L1646.8 37.4L1648.9 37.6L1651.1 38.0L1653.2 38.3L1655.4 38.8L1657.5 39.3L1659.7 39.8L1661.8 40.4L1664.0 41.1L1666.1 41.8L1668.3 42.5L1670.4 43.4L1672.6 44.2L1674.7 45.1L1676.9 46.1L1679.0 47.1L1681.1 48.2L1683.3 49.3L1685.4 50.4L1687.6 51.6L1689.7 52.8L1691.9 54.1L1694.0 55.4L1696.2 56.8L1698.3 58.2L1700.5 59.6L1702.6 61.1L1704.8 62.6L1706.9 64.1L1709.1 65.7L1711.2 67.3L1713.4 68.9L1715.5 70.5L1717.6 72.2L1719.8 73.9L1721.9 75.6L1724.1 77.3L1726.2 79.0L1728.4 80.8L1730.5 82.6L1732.7 84.3L1734.8 86.1L1737.0 87.9L1739.1 89.7L1741.3 91.6L1743.4 93.4L1745.6 95.2L1747.7 97.0L1749.9 98.8L1752.0 100.6L1754.2 102.4L1756.3 104.2" stroke="#0000ff" stroke-width="1.70" fill="none" stroke-dasharray="1.7 3.0"/><path d="M1329.0 94.2L1331.1 92.7L1333.3 91.3L1335.4 89.9L1337.6 88.5L1339.7 87.1L1341.9 85.7L1344.0 84.3L1346.2 83.0L1348.3 81.7L1350.5 80.4L1352.6 79.1L1354.8 77.9L1356.9 76.6L1359.1 75.5L1361.2 74.3L1363.4 73.2L1365.5 72.1L1367.7 71.0L1369.8 69.9L1371.9 68.9L1374.1 68.0L1376.2 67.0L1378.4 66.1L1380.5 65.3L1382.7 64.5L1384.8 63.7L1387.0 63.0L1389.1 62.3L1391.3 61.6L1393.4 61.0L1395.6 60.4L1397.7 59.9L1399.9 59.4L1402.0 59.0L1404.2 58.6L1406.3 58.2L1408.4 57.9L1410.6 57.7L1412.7 57.5L1414.9 57.3L1417.0 57.2L1419.2 57.1L1421.3 57.1L1423.5 57.1L1425.6 57.2L1427.8 57.3L1429.9 57.5L1432.1 57.7L1434.2 57.9L1436.4 58.2L1438.5 58.6L1440.7 59.0L1442.8 59.4L1445.0 59.9L1447.1 60.4L1449.2 61.0L1451.4 61.6L1453.5 62.3L1455.7 63.0L1457.8 63.7L1460.0 64.5L1462.1 65.3L1464.3 66.2L1466.4 67.1L1468.6 68.0L1470.7 69.0L1472.9 70.0L1475.0 71.0L1477.2 72.1L1479.3 73.2L1481.5 74.3L1483.6 75.5L1485.7 76.7L1487.9 77.9L1490.0 79.2L1492.2 80.4L1494.3 81.7L1496.5 83.0L1498.6 84.4L1500.8 85.7L1502.9 87.1L1505.1 88.5L1507.2 89.9L1509.4 91.3L1511.5 92.8L1513.7 94.2L1515.8 95.7L1518.0 97.1L1520.1 98.6L1522.3 100.1L1524.4 101.6L1526.5 103.1L1528.7 104.5L1530.8 106.0L1533.0 107.5L1535.1 109.0L1537.3 110.5L1539.4 111.9L1541.6 113.4L1543.7 114.8L1545.9 116.3L1548.0 117.7L1550.2 119.1L1552.3 120.5L1554.5 121.9L1556.6 123.3L1558.8 124.6L1560.9 126.0L1563.0 127.3L1565.2 128.5L1567.3 129.8L1569.5 131.0L1571.6 132.2L1573.8 133.4L1575.9 134.6L1578.1 135.7L1580.2 136.8L1582.4 137.8L1584.5 138.8L1586.7 139.8L1588.8 140.8L1591.0 141.7L1593.1 142.6L1595.3 143.4L1597.4 144.2L1599.6 145.0L1601.7 145.7L1603.8 146.4L1606.0 147.0L1608.1 147.6L1610.3 148.1L1612.4 148.6L1614.6 149.1L1616.7 149.5L1618.9 149.9L1621.0 150.2L1623.2 150.5L1625.3 150.7L1627.5 150.9L1629.6 151.1L1631.8 151.2L1633.9 151.2L1636.1 151.2L1638.2 151.2L1640.3 151.1L1642.5 150.9L1644.6 150.7L1646.8 150.5L1648.9 150.2L1651.1 149.9L1653.2 149.5L1655.4 149.1L1657.5 148.6L1659.7 148.1L1661.8 147.6L1664.0 147.0L1666.1 146.3L1668.3 145.7L1670.4 144.9L1672.6 144.2L1674.7 143.4L1676.9 142.5L1679.0 141.7L1681.1 140.8L1683.3 139.8L1685.4 138.8L1687.6 137.8L1689.7 136.7L1691.9 135.7L1694.0 134.5L1696.2 133.4L1698.3 132.2L1700.5 131.0L1702.6 129.8L1704.8 128.5L1706.9 127.2L1709.1 125.9L1711.2 124.6L1713.4 123.2L1715.5 121.9L1717.6 120.5L1719.8 119.1L1721.9 117.7L1724.1 116.2L1726.2 114.8L1728.4 113.3L1730.5 111.9L1732.7 110.4L1734.8 108.9L1737.0 107.5L1739.1 106.0L1741.3 104.5L1743.4 103.0L1745.6 101.5L1747.7 100.0L1749.9 98.6L1752.0 97.1L1754.2 95.6L1756.3 94.2" stroke="#008000" stroke-width="1.70" fill="none" stroke-dasharray="1.7 3.0"/><path d="M1329.0 116.4L1440.0 116.4L1484.0 116.4L1489.2 116.4L1489.7 117.9L1490.2 119.3L1490.2 119.3L1490.7 120.8L1491.2 122.2L1491.2 122.2L1491.7 123.6L1492.2 125.0L1492.2 125.0L1492.7 126.3L1493.2 127.6L1493.2 127.6L1493.7 128.8L1494.2 130.0L1494.2 130.0L1494.7 131.1L1495.2 132.1L1495.2 132.1L1495.7 133.0L1496.2 133.8L1496.2 133.9L1496.7 134.7L1497.2 135.3L1497.2 135.3L1497.7 135.9L1498.2 136.3L1498.2 136.4L1498.7 136.8L1499.2 137.0L1499.2 137.1L1499.7 137.3L1500.2 137.5L1500.2 137.5L1500.7 137.6L1501.2 137.6L1501.2 137.6L1502.1 137.6L1503.1 137.4L1504.1 137.0L1505.1 136.5L1506.1 135.9L1507.1 135.1L1508.1 134.3L1509.1 133.4L1510.1 132.4L1511.1 131.4L1512.1 130.3L1513.1 129.3L1514.1 128.3L1515.1 127.4L1516.1 126.5L1517.1 125.6L1518.1 124.7L1519.1 123.8L1520.1 122.9L1521.1 121.9L1522.1 120.9L1523.1 119.9L1524.1 118.8L1525.1 117.6L1526.0 116.4L1527.0 115.2L1528.0 113.9L1529.0 112.7L1530.0 111.4L1531.0 110.2L1532.0 108.9L1533.0 107.7L1534.0 106.5L1535.0 105.3L1536.0 104.1L1537.0 103.0L1538.0 101.9L1539.0 100.7L1540.0 99.7L1541.0 98.6L1542.0 97.5L1543.0 96.5L1544.0 95.5L1545.0 94.4L1546.0 93.4L1547.0 92.4L1548.0 91.4L1549.0 90.5L1549.9 89.5L1550.9 88.6L1551.9 87.7L1552.9 86.8L1553.9 85.9L1554.9 85.1L1555.9 84.3L1556.9 83.6L1557.9 82.9L1558.9 82.2L1559.9 81.6L1560.9 81.0L1561.9 80.5L1562.9 80.0L1563.9 79.5L1564.9 79.0L1565.9 78.6L1566.9 78.2L1567.9 77.9L1568.9 77.5L1569.9 77.2L1570.9 76.9L1571.9 76.6L1572.9 76.3L1573.9 76.0L1574.8 75.8L1575.8 75.6L1576.8 75.4L1577.8 75.3L1578.8 75.2L1579.8 75.1L1580.8 75.0L1581.8 75.0L1582.8 75.0L1583.8 75.0L1584.8 75.1L1585.8 75.2L1586.8 75.4L1587.8 75.5L1588.8 75.7L1589.8 75.9L1590.8 76.1L1591.8 76.4L1592.8 76.6L1593.8 76.9L1594.8 77.2L1595.8 77.5L1596.8 77.8L1597.8 78.2L1598.7 78.5L1599.7 78.9L1600.7 79.2L1601.7 79.6L1602.7 80.0L1603.7 80.4L1604.7 80.9L1605.7 81.3L1606.7 81.8L1607.7 82.3L1608.7 82.8L1609.7 83.4L1610.7 83.9L1611.7 84.5L1612.7 85.1L1613.7 85.6L1614.7 86.2L1615.7 86.8L1616.7 87.5L1617.7 88.1L1618.7 88.7L1619.7 89.3L1620.7 89.9L1621.7 90.5L1622.6 91.1L1623.6 91.7L1624.6 92.3L1625.6 92.9L1626.6 93.5L1627.6 94.1L1628.6 94.7L1629.6 95.3L1630.6 95.8L1631.6 96.4L1632.6 97.0L1633.6 97.5L1634.6 98.1L1635.6 98.6L1636.6 99.2L1637.6 99.7L1638.6 100.3L1639.6 100.8L1640.6 101.4L1641.6 101.9L1642.6 102.4L1643.6 102.9L1644.6 103.4L1645.6 103.9L1646.6 104.4L1647.5 104.9L1648.5 105.3L1649.5 105.8L1650.5 106.2L1651.5 106.6L1652.5 107.0L1653.5 107.4L1654.5 107.7L1655.5 108.1L1656.5 108.4L1657.5 108.7L1658.5 109.1L1659.5 109.4L1660.5 109.7L1661.5 109.9L1662.5 110.2L1663.5 110.5L1664.5 110.7L1665.5 111.0L1666.5 111.2L1667.5 111.4L1668.5 111.6L1669.5 111.9L1670.5 112.1L1671.4 112.3L1672.4 112.5L1673.4 112.7L1674.4 112.8L1675.4 113.0L1676.4 113.2L1677.4 113.4L1678.4 113.5L1679.4 113.7L1680.4 113.8L1681.4 114.0L1682.4 114.1L1683.4 114.3L1684.4 114.4L1685.4 114.6L1686.4 114.7L1687.4 114.8L1688.4 115.0L1689.4 115.1L1690.4 115.2L1691.4 115.4L1692.4 115.5L1693.4 115.6L1694.4 115.7L1695.3 115.8L1696.3 115.9L1697.3 116.0L1698.3 116.0L1699.3 116.1L1700.3 116.2L1701.3 116.2L1702.3 116.3L1703.3 116.3L1704.3 116.4L1705.3 116.4L1706.3 116.4L1707.3 116.4L1731.0 116.4L1756.3 116.4" stroke="#0000ff" stroke-width="1.90" fill="none" stroke-linejoin="round"/><path d="M1329.0 116.4L1440.0 116.4L1484.0 116.4L1489.2 116.4L1489.7 113.3L1490.1 110.6L1490.2 110.2L1490.7 107.0L1491.1 104.5L1491.2 103.8L1491.7 100.3L1492.0 98.0L1492.2 96.7L1492.7 92.9L1493.0 90.8L1493.2 88.9L1493.7 84.8L1493.9 83.0L1494.2 80.6L1494.7 76.5L1494.8 75.3L1495.2 72.6L1495.7 68.8L1495.8 68.2L1496.2 65.4L1496.7 62.2L1496.7 62.0L1497.2 59.4L1497.7 57.0L1497.7 56.9L1498.2 54.6L1498.6 53.0L1498.7 52.7L1499.2 50.9L1499.6 49.8L1499.7 49.4L1500.2 48.1L1500.5 47.5L1500.7 47.1L1501.2 46.2L1501.4 45.8L1502.4 44.7L1503.3 44.0L1504.3 43.7L1505.2 43.6L1506.1 43.7L1507.1 44.0L1508.0 44.4L1509.0 45.1L1509.9 45.9L1510.9 46.9L1511.8 48.1L1512.7 49.4L1513.7 50.9L1514.6 52.4L1515.6 54.0L1516.5 55.5L1517.4 57.0L1518.4 58.5L1519.3 59.9L1520.3 61.3L1521.2 62.6L1522.2 63.9L1523.1 65.2L1524.0 66.5L1525.0 67.7L1525.9 69.0L1526.9 70.2L1527.8 71.4L1528.7 72.7L1529.7 73.9L1530.6 75.1L1531.6 76.4L1532.5 77.6L1533.5 78.9L1534.4 80.1L1535.3 81.4L1536.3 82.6L1537.2 83.8L1538.2 85.0L1539.1 86.2L1540.0 87.4L1541.0 88.6L1541.9 89.7L1542.9 90.8L1543.8 91.9L1544.8 93.0L1545.7 94.1L1546.6 95.1L1547.6 96.1L1548.5 97.1L1549.5 98.1L1550.4 99.1L1551.3 100.0L1552.3 101.0L1553.2 101.9L1554.2 102.8L1555.1 103.7L1556.1 104.6L1557.0 105.5L1557.9 106.4L1558.9 107.2L1559.8 108.0L1560.8 108.9L1561.7 109.7L1562.6 110.5L1563.6 111.2L1564.5 112.0L1565.5 112.8L1566.4 113.5L1567.3 114.2L1568.3 114.9L1569.2 115.6L1570.2 116.3L1571.1 117.0L1572.1 117.6L1573.0 118.2L1573.9 118.8L1574.9 119.4L1575.8 119.9L1576.8 120.5L1577.7 121.0L1578.6 121.4L1579.6 121.9L1580.5 122.3L1581.5 122.7L1582.4 123.1L1583.4 123.5L1584.3 123.8L1585.2 124.1L1586.2 124.4L1587.1 124.7L1588.1 125.0L1589.0 125.2L1589.9 125.4L1590.9 125.6L1591.8 125.8L1592.8 126.0L1593.7 126.2L1594.7 126.3L1595.6 126.4L1596.5 126.5L1597.5 126.6L1598.4 126.6L1599.4 126.7L1600.3 126.7L1601.2 126.7L1602.2 126.7L1603.1 126.7L1604.1 126.6L1605.0 126.5L1606.0 126.5L1606.9 126.4L1607.8 126.3L1608.8 126.2L1609.7 126.0L1610.7 125.9L1611.6 125.8L1612.5 125.6L1613.5 125.5L1614.4 125.3L1615.4 125.1L1616.3 125.0L1617.3 124.8L1618.2 124.6L1619.1 124.5L1620.1 124.3L1621.0 124.1L1622.0 123.9L1622.9 123.7L1623.8 123.5L1624.8 123.4L1625.7 123.2L1626.7 123.0L1627.6 122.8L1628.5 122.6L1629.5 122.4L1630.4 122.3L1631.4 122.1L1632.3 121.9L1633.3 121.8L1634.2 121.6L1635.1 121.4L1636.1 121.3L1637.0 121.1L1638.0 120.9L1638.9 120.8L1639.8 120.6L1640.8 120.5L1641.7 120.3L1642.7 120.2L1643.6 120.1L1644.6 119.9L1645.5 119.8L1646.4 119.7L1647.4 119.6L1648.3 119.4L1649.3 119.3L1650.2 119.2L1651.1 119.1L1652.1 119.0L1653.0 118.9L1654.0 118.8L1654.9 118.7L1655.9 118.6L1656.8 118.5L1657.7 118.4L1658.7 118.4L1659.6 118.3L1660.6 118.2L1661.5 118.1L1662.4 118.0L1663.4 118.0L1664.3 117.9L1665.3 117.8L1666.2 117.8L1667.2 117.7L1668.1 117.6L1669.0 117.6L1670.0 117.5L1670.9 117.4L1671.9 117.4L1672.8 117.3L1673.7 117.3L1674.7 117.2L1675.6 117.1L1676.6 117.1L1677.5 117.0L1678.5 117.0L1679.4 116.9L1680.3 116.9L1681.3 116.8L1682.2 116.8L1683.2 116.7L1684.1 116.7L1685.0 116.6L1686.0 116.6L1686.9 116.6L1687.9 116.5L1688.8 116.5L1689.8 116.5L1690.7 116.5L1691.6 116.4L1692.6 116.4L1693.5 116.4L1694.5 116.4L1695.4 116.4L1756.3 116.4" stroke="#008000" stroke-width="1.90" fill="none" stroke-linejoin="round"/><path d="M1489.24 31.40V157.40" stroke="#ff0000" stroke-width="2.1" fill="none"/><rect x="1329.00" y="31.40" width="427.30" height="126.00" fill="none" stroke="#000" stroke-width="1.1"/><path d="M1329.00 157.40v4.9" stroke="#000" stroke-width="1.1" fill="none"/><path d="M1435.83 157.40v4.9" stroke="#000" stroke-width="1.1" fill="none"/><path d="M1542.65 157.40v4.9" stroke="#000" stroke-width="1.1" fill="none"/><path d="M1649.47 157.40v4.9" stroke="#000" stroke-width="1.1" fill="none"/><path d="M1756.30 157.40v4.9" stroke="#000" stroke-width="1.1" fill="none"/><path d="M1329.00 34.70h-4.9" stroke="#000" stroke-width="1.1" fill="none"/><path d="M1329.00 75.55h-4.9" stroke="#000" stroke-width="1.1" fill="none"/><path d="M1329.00 116.40h-4.9" stroke="#000" stroke-width="1.1" fill="none"/><path d="M1329.00 157.25h-4.9" stroke="#000" stroke-width="1.1" fill="none"/>
<rect x="1329.00" y="234.80" width="12.09" height="120.40" fill="#0000ff" fill-opacity="0.12"/><rect x="1341.09" y="234.80" width="213.61" height="120.40" fill="#008000" fill-opacity="0.1"/><rect x="1554.70" y="234.80" width="201.60" height="120.40" fill="#0000ff" fill-opacity="0.12"/><path d="M1329.0 344.0L1440.0 344.0L1520.0 344.0L1520.5 344.0L1521.0 344.0L1521.0 344.0L1521.5 344.0L1522.0 344.0L1522.0 344.0L1522.5 344.0L1523.0 344.0L1523.0 344.0L1523.5 344.0L1523.9 344.0L1524.0 344.0L1524.5 344.0L1524.9 344.0L1525.0 344.0L1525.5 344.0L1525.9 344.0L1526.0 344.0L1526.5 344.0L1526.9 344.1L1527.0 344.1L1527.5 344.1L1527.9 344.1L1528.0 344.1L1528.5 344.1L1528.9 344.1L1529.0 344.1L1529.5 344.1L1529.9 344.1L1530.0 344.1L1530.5 344.1L1530.8 344.1L1531.0 344.1L1531.5 344.1L1531.8 344.1L1532.0 344.1L1532.8 344.0L1533.8 344.0L1534.8 344.0L1535.8 344.0L1536.8 344.0L1537.7 344.0L1538.7 344.0L1539.7 343.9L1540.7 343.9L1541.7 343.9L1542.7 343.8L1543.7 343.8L1544.6 343.7L1545.6 343.7L1546.6 343.6L1547.6 343.5L1548.6 343.5L1549.6 343.4L1550.6 343.3L1551.5 343.2L1552.5 343.1L1553.5 343.0L1554.5 342.8L1555.5 342.7L1556.5 342.5L1557.5 342.4L1558.4 342.2L1559.4 342.0L1560.4 341.8L1561.4 341.6L1562.4 341.3L1563.4 341.1L1564.4 340.8L1565.3 340.5L1566.3 340.2L1567.3 339.9L1568.3 339.5L1569.3 339.1L1570.3 338.7L1571.3 338.3L1572.2 337.8L1573.2 337.3L1574.2 336.8L1575.2 336.2L1576.2 335.6L1577.2 335.0L1578.2 334.3L1579.2 333.6L1580.1 332.8L1581.1 332.0L1582.1 331.1L1583.1 330.2L1584.1 329.2L1585.1 328.2L1586.1 327.1L1587.0 325.9L1588.0 324.8L1589.0 323.5L1590.0 322.2L1591.0 320.9L1592.0 319.5L1593.0 318.0L1593.9 316.6L1594.9 315.0L1595.9 313.5L1596.9 311.9L1597.9 310.3L1598.9 308.6L1599.9 306.9L1600.8 305.1L1601.8 303.3L1602.8 301.5L1603.8 299.7L1604.8 297.8L1605.8 295.9L1606.8 294.0L1607.7 292.0L1608.7 290.0L1609.7 288.0L1610.7 286.0L1611.7 284.0L1612.7 282.0L1613.7 280.0L1614.6 278.0L1615.6 276.0L1616.6 274.0L1617.6 272.1L1618.6 270.2L1619.6 268.3L1620.6 266.5L1621.5 264.7L1622.5 263.0L1623.5 261.3L1624.5 259.7L1625.5 258.2L1626.5 256.7L1627.5 255.3L1628.4 253.9L1629.4 252.7L1630.4 251.5L1631.4 250.4L1632.4 249.5L1633.4 248.6L1634.4 247.9L1635.3 247.3L1636.3 246.8L1637.3 246.5L1638.3 246.4L1639.3 246.4L1640.3 246.6L1641.3 246.9L1642.2 247.4L1643.2 248.0L1644.2 248.7L1645.2 249.6L1646.2 250.6L1647.2 251.7L1648.2 252.8L1649.1 254.1L1650.1 255.5L1651.1 257.0L1652.1 258.5L1653.1 260.2L1654.1 261.9L1655.1 263.6L1656.0 265.5L1657.0 267.4L1658.0 269.3L1659.0 271.3L1660.0 273.4L1661.0 275.4L1662.0 277.5L1662.9 279.6L1663.9 281.8L1664.9 283.9L1665.9 286.0L1666.9 288.1L1667.9 290.2L1668.9 292.2L1669.8 294.2L1670.8 296.2L1671.8 298.1L1672.8 300.0L1673.8 301.8L1674.8 303.6L1675.8 305.4L1676.7 307.1L1677.7 308.8L1678.7 310.5L1679.7 312.1L1680.7 313.7L1681.7 315.2L1682.7 316.7L1683.7 318.2L1684.6 319.6L1685.6 321.0L1686.6 322.3L1687.6 323.6L1688.6 324.9L1689.6 326.1L1690.6 327.2L1691.5 328.3L1692.5 329.3L1693.5 330.3L1694.5 331.2L1695.5 332.1L1696.5 332.9L1697.5 333.7L1698.4 334.4L1699.4 335.1L1700.4 335.7L1701.4 336.3L1702.4 336.8L1703.4 337.4L1704.4 337.8L1705.3 338.3L1706.3 338.7L1707.3 339.1L1708.3 339.5L1709.3 339.9L1710.3 340.2L1711.3 340.5L1712.2 340.8L1713.2 341.1L1714.2 341.3L1715.2 341.6L1716.2 341.8L1717.2 342.0L1718.2 342.2L1719.1 342.4L1720.1 342.6L1721.1 342.7L1722.1 342.9L1723.1 343.0L1724.1 343.2L1725.1 343.3L1726.0 343.4L1727.0 343.5L1728.0 343.6L1729.0 343.7L1730.0 343.8L1731.0 343.9L1732.0 343.9L1732.9 343.9L1733.9 344.0L1734.9 344.0L1735.9 344.0L1756.3 344.0" stroke="#0000ff" stroke-width="1.90" fill="none" stroke-linejoin="round"/><path d="M1329.0 344.0L1440.0 344.0L1484.0 344.0L1489.2 344.0L1489.6 343.8L1489.7 343.7L1489.9 343.6L1490.2 343.4L1490.3 343.4L1490.7 343.1L1490.7 343.1L1491.0 342.9L1491.2 342.7L1491.4 342.6L1491.7 342.3L1491.8 342.3L1492.1 341.9L1492.2 341.8L1492.5 341.5L1492.7 341.3L1492.9 341.1L1493.2 340.6L1493.2 340.6L1493.6 340.0L1493.7 339.9L1493.9 339.5L1494.2 339.1L1494.3 338.9L1494.7 338.2L1494.7 338.2L1495.0 337.6L1495.2 337.3L1495.4 336.9L1495.7 336.3L1495.8 336.2L1496.1 335.4L1496.2 335.3L1496.5 334.7L1496.7 334.3L1496.9 333.9L1497.2 333.2L1497.2 333.1L1497.6 332.3L1497.7 332.1L1498.0 331.6L1498.2 331.1L1498.3 330.8L1498.7 330.0L1498.7 330.0L1499.1 329.2L1499.2 328.9L1499.4 328.5L1499.7 327.9L1499.8 327.7L1500.2 327.0L1500.2 326.9L1500.5 326.3L1500.7 325.9L1500.9 325.6L1501.2 325.0L1501.3 324.9L1501.6 324.3L1502.0 323.7L1502.4 323.1L1502.7 322.6L1503.1 322.1L1503.4 321.6L1503.8 321.2L1504.2 320.8L1504.5 320.4L1504.9 320.0L1505.3 319.7L1505.6 319.5L1506.0 319.2L1506.4 319.0L1506.7 318.8L1507.1 318.7L1507.5 318.5L1507.8 318.4L1508.2 318.4L1508.6 318.3L1508.9 318.3L1509.3 318.3L1509.7 318.3L1510.0 318.4L1510.4 318.5L1510.8 318.6L1511.1 318.7L1511.5 318.9L1511.8 319.0L1512.2 319.2L1512.6 319.4L1512.9 319.6L1513.3 319.9L1513.7 320.1L1514.0 320.4L1514.4 320.6L1514.8 320.9L1515.1 321.2L1515.5 321.5L1515.9 321.8L1516.2 322.1L1516.6 322.4L1517.0 322.7L1517.3 323.1L1517.7 323.4L1518.1 323.7L1518.4 324.0L1518.8 324.3L1519.2 324.7L1519.5 325.0L1519.9 325.3L1520.3 325.7L1520.6 326.0L1521.0 326.3L1521.3 326.7L1521.7 327.0L1522.1 327.3L1522.4 327.6L1522.8 328.0L1523.2 328.3L1523.5 328.6L1523.9 328.9L1524.3 329.3L1524.6 329.6L1525.0 329.9L1525.4 330.2L1525.7 330.5L1526.1 330.8L1526.5 331.1L1526.8 331.4L1527.2 331.7L1527.6 332.0L1527.9 332.3L1528.3 332.6L1528.7 332.9L1529.0 333.2L1529.4 333.4L1529.7 333.7L1530.1 334.0L1530.5 334.2L1530.8 334.5L1531.2 334.7L1531.6 335.0L1531.9 335.2L1532.3 335.5L1532.7 335.7L1533.0 335.9L1533.4 336.2L1533.8 336.4L1534.1 336.6L1534.5 336.8L1534.9 337.0L1535.2 337.2L1535.6 337.4L1536.0 337.6L1536.3 337.8L1536.7 338.0L1537.1 338.2L1537.4 338.4L1537.8 338.5L1538.1 338.7L1538.5 338.9L1538.9 339.0L1539.2 339.2L1539.6 339.3L1540.0 339.5L1540.3 339.6L1540.7 339.7L1541.1 339.9L1541.4 340.0L1541.8 340.1L1542.2 340.3L1542.5 340.4L1542.9 340.5L1543.3 340.6L1543.6 340.7L1544.0 340.8L1544.4 340.9L1544.7 341.0L1545.1 341.1L1545.5 341.2L1545.8 341.3L1546.2 341.4L1546.6 341.5L1546.9 341.6L1547.3 341.6L1547.6 341.7L1548.0 341.8L1548.4 341.9L1548.7 341.9L1549.1 342.0L1549.5 342.1L1549.8 342.1L1550.2 342.2L1550.6 342.3L1550.9 342.3L1551.3 342.4L1551.7 342.4L1552.0 342.5L1552.4 342.6L1552.8 342.6L1553.1 342.7L1553.5 342.7L1553.9 342.8L1554.2 342.8L1554.6 342.9L1555.0 342.9L1555.3 343.0L1555.7 343.0L1556.0 343.0L1556.4 343.1L1556.8 343.1L1557.1 343.2L1557.5 343.2L1557.9 343.3L1558.2 343.3L1558.6 343.4L1559.0 343.4L1559.3 343.4L1559.7 343.5L1560.1 343.5L1560.4 343.5L1560.8 343.6L1561.2 343.6L1561.5 343.6L1561.9 343.7L1562.3 343.7L1562.6 343.7L1563.0 343.8L1563.4 343.8L1563.7 343.8L1564.1 343.8L1564.5 343.9L1564.8 343.9L1565.2 343.9L1565.5 343.9L1565.9 343.9L1566.3 343.9L1566.6 344.0L1567.0 344.0L1567.4 344.0L1567.7 344.0L1568.1 344.0L1568.5 344.0L1568.8 344.0L1569.2 344.0L1600.0 344.0L1756.3 344.0" stroke="#008000" stroke-width="1.90" fill="none" stroke-linejoin="round"/><path d="M1489.24 234.00V355.20" stroke="#ff0000" stroke-width="2.1" fill="none"/><rect x="1329.00" y="229.00" width="427.30" height="126.20" fill="none" stroke="#000" stroke-width="1.1"/><path d="M1329.00 355.20v4.9" stroke="#000" stroke-width="1.1" fill="none"/><path d="M1435.83 355.20v4.9" stroke="#000" stroke-width="1.1" fill="none"/><path d="M1542.65 355.20v4.9" stroke="#000" stroke-width="1.1" fill="none"/><path d="M1649.47 355.20v4.9" stroke="#000" stroke-width="1.1" fill="none"/><path d="M1756.30 355.20v4.9" stroke="#000" stroke-width="1.1" fill="none"/><path d="M1329.00 229.00h-4.9" stroke="#000" stroke-width="1.1" fill="none"/><path d="M1329.00 286.50h-4.9" stroke="#000" stroke-width="1.1" fill="none"/><path d="M1329.00 344.00h-4.9" stroke="#000" stroke-width="1.1" fill="none"/>
<g font-family="'DejaVu Sans','Liberation Sans',sans-serif" fill="#000">
<text x="16.20" y="322.10" font-size="19.40" text-anchor="middle">0</text>
<text x="86.30" y="338.30" font-size="19.40" text-anchor="middle">0.5<tspan font-style="italic">π</tspan></text>
<text x="158.30" y="352.60" font-size="19.40" text-anchor="middle"><tspan font-style="italic">π</tspan></text>
<text x="232.70" y="368.40" font-size="19.40" text-anchor="middle">1.5<tspan font-style="italic">π</tspan></text>
<text x="307.20" y="384.50" font-size="19.40" text-anchor="middle">2<tspan font-style="italic">π</tspan></text>
<text x="341.70" y="383.80" font-size="20.30" text-anchor="middle">-6</text>
<text x="370.30" y="364.10" font-size="20.30" text-anchor="middle">-4</text>
<text x="398.60" y="345.80" font-size="20.30" text-anchor="middle">-2</text>
<text x="426.60" y="327.00" font-size="20.30" text-anchor="middle">0</text>
<text x="453.00" y="308.70" font-size="20.30" text-anchor="middle">2</text>
<text x="479.40" y="291.70" font-size="20.30" text-anchor="middle">4</text>
<text x="518.00" y="243.90" font-size="20.90" text-anchor="middle">0</text>
<text x="522.90" y="161.30" font-size="20.90" text-anchor="middle">0.01</text>
<text x="528.80" y="75.20" font-size="20.90" text-anchor="middle">0.02</text>
<text x="140.60" y="371.40" font-size="20.70" text-anchor="middle" transform="rotate(11.60 140.60 371.40)">Locomotion phase</text>
<text x="450.80" y="340.05" font-size="20.30" text-anchor="middle" transform="rotate(-33.20 450.80 340.05)">Input</text>
<text x="562.20" y="151.80" font-size="20.30" text-anchor="middle" transform="rotate(-86.50 562.20 151.80)">Output</text>
<text x="196.80" y="68.50" font-size="19.00" text-anchor="start">SMBVL</text>
<text x="362.80" y="72.90" font-size="19.30" text-anchor="start">SMBDL</text>
<text x="617.20" y="227.00" font-size="18.00" text-anchor="start">0.005</text>
<text x="617.20" y="165.73" font-size="18.00" text-anchor="start">0.010</text>
<text x="617.20" y="104.47" font-size="18.00" text-anchor="start">0.015</text>
<text x="691.30" y="183.40" font-size="20.20" text-anchor="middle" transform="rotate(-90.00 691.30 183.40)">Output</text>
<text x="171.02" y="766.41" font-size="19.00" text-anchor="middle">0</text>
<text x="245.33" y="781.40" font-size="19.00" text-anchor="middle">0.5<tspan font-style="italic">π</tspan></text>
<text x="323.43" y="796.81" font-size="19.00" text-anchor="middle"><tspan font-style="italic">π</tspan></text>
<text x="402.65" y="812.56" font-size="19.00" text-anchor="middle">1.5<tspan font-style="italic">π</tspan></text>
<text x="483.77" y="828.67" font-size="19.00" text-anchor="middle">2<tspan font-style="italic">π</tspan></text>
<text x="522.01" y="827.31" font-size="19.00" text-anchor="middle">-8</text>
<text x="552.20" y="808.80" font-size="19.00" text-anchor="middle">-6</text>
<text x="581.62" y="790.77" font-size="19.00" text-anchor="middle">-4</text>
<text x="610.31" y="773.18" font-size="19.00" text-anchor="middle">-2</text>
<text x="638.28" y="756.04" font-size="19.00" text-anchor="middle">0</text>
<text x="665.58" y="739.31" font-size="19.00" text-anchor="middle">2</text>
<text x="704.17" y="702.37" font-size="19.00" text-anchor="middle">-0.09</text>
<text x="708.31" y="642.91" font-size="19.00" text-anchor="middle">-0.06</text>
<text x="712.58" y="581.44" font-size="19.00" text-anchor="middle">-0.03</text>
<text x="717.01" y="517.85" font-size="19.00" text-anchor="middle">0.0</text>
<text x="304.60" y="814.20" font-size="22.20" text-anchor="middle" transform="rotate(10.50 304.60 814.20)">Locomotion phase</text>
<text x="638.20" y="783.20" font-size="22.00" text-anchor="middle" transform="rotate(-30.50 638.20 783.20)">Difference in input</text>
<text x="754.80" y="595.00" font-size="22.00" text-anchor="middle" transform="rotate(-86.70 754.80 595.00)">Difference in output</text>
<text x="194.50" y="717.00" font-size="20.70" text-anchor="start">SMBVL</text>
<text x="372.00" y="760.00" font-size="20.70" text-anchor="start">SMBDL</text>
<text x="817.90" y="512.20" font-size="17.00" text-anchor="start">0.00</text>
<text x="817.90" y="572.20" font-size="17.00" text-anchor="start">−0.02</text>
<text x="817.90" y="632.20" font-size="17.00" text-anchor="start">−0.04</text>
<text x="817.90" y="692.20" font-size="17.00" text-anchor="start">−0.06</text>
<text x="891.50" y="625.50" font-size="20.50" text-anchor="middle" transform="rotate(-90.00 891.50 625.50)">Difference in output</text>
<text x="1014.46" y="766.19" font-size="19.00" text-anchor="middle">0</text>
<text x="1088.88" y="781.19" font-size="19.00" text-anchor="middle">0.5<tspan font-style="italic">π</tspan></text>
<text x="1167.09" y="796.63" font-size="19.00" text-anchor="middle"><tspan font-style="italic">π</tspan></text>
<text x="1246.43" y="812.40" font-size="19.00" text-anchor="middle">1.5<tspan font-style="italic">π</tspan></text>
<text x="1327.67" y="828.53" font-size="19.00" text-anchor="middle">2<tspan font-style="italic">π</tspan></text>
<text x="1396.07" y="808.88" font-size="19.00" text-anchor="middle">-5</text>
<text x="1422.50" y="792.68" font-size="19.00" text-anchor="middle">0</text>
<text x="1448.34" y="776.84" font-size="19.00" text-anchor="middle">5</text>
<text x="1473.61" y="761.36" font-size="19.00" text-anchor="middle">10</text>
<text x="1498.31" y="746.21" font-size="19.00" text-anchor="middle">15</text>
<text x="1522.48" y="731.40" font-size="19.00" text-anchor="middle">20</text>
<text x="1549.04" y="684.12" font-size="19.00" text-anchor="middle">0.0</text>
<text x="1553.45" y="620.67" font-size="19.00" text-anchor="middle">0.1</text>
<text x="1558.03" y="554.94" font-size="19.00" text-anchor="middle">0.2</text>
<text x="1148.60" y="814.20" font-size="22.20" text-anchor="middle" transform="rotate(10.50 1148.60 814.20)">Locomotion phase</text>
<text x="1481.80" y="783.20" font-size="22.00" text-anchor="middle" transform="rotate(-30.50 1481.80 783.20)">Difference in input</text>
<text x="1598.80" y="595.00" font-size="22.00" text-anchor="middle" transform="rotate(-86.70 1598.80 595.00)">Difference in output</text>
<text x="1211.00" y="481.50" font-size="20.70" text-anchor="start">SMBVL</text>
<text x="1369.00" y="499.50" font-size="20.70" text-anchor="start">SMBDL</text>
<text x="1663.70" y="751.90" font-size="17.00" text-anchor="start">0.00</text>
<text x="1663.70" y="698.70" font-size="17.00" text-anchor="start">0.05</text>
<text x="1663.70" y="645.51" font-size="17.00" text-anchor="start">0.10</text>
<text x="1663.70" y="592.31" font-size="17.00" text-anchor="start">0.15</text>
<text x="1663.70" y="539.11" font-size="17.00" text-anchor="start">0.20</text>
<text x="1722.00" y="625.50" font-size="20.50" text-anchor="middle" transform="rotate(-90.00 1722.00 625.50)">Difference in output</text>
<text x="793.00" y="182.10" font-size="17.30" text-anchor="middle">0</text>
<text x="894.55" y="182.10" font-size="17.30" text-anchor="middle">0.5<tspan font-style="italic">π</tspan></text>
<text x="996.10" y="182.10" font-size="17.30" text-anchor="middle"><tspan font-style="italic">π</tspan></text>
<text x="1097.65" y="182.10" font-size="17.30" text-anchor="middle">1.5<tspan font-style="italic">π</tspan></text>
<text x="1199.20" y="182.10" font-size="17.30" text-anchor="middle">2<tspan font-style="italic">π</tspan></text>
<text x="950.83" y="182.10" font-size="17.30" text-anchor="middle" fill="#e60d1a">0.75<tspan font-style="italic">π</tspan></text>
<text x="784.40" y="37.71" font-size="17.30" text-anchor="end">0.05</text>
<text x="784.40" y="79.61" font-size="17.30" text-anchor="end">0.00</text>
<text x="784.40" y="121.51" font-size="17.30" text-anchor="end">−0.05</text>
<text x="784.40" y="163.41" font-size="17.30" text-anchor="end">−0.10</text>
<text x="996.10" y="24.00" font-size="19.40" text-anchor="middle">Instantaneous difference in neuronal input</text>
<text x="793.00" y="377.60" font-size="17.30" text-anchor="middle">0</text>
<text x="894.55" y="377.60" font-size="17.30" text-anchor="middle">0.5<tspan font-style="italic">π</tspan></text>
<text x="996.10" y="377.60" font-size="17.30" text-anchor="middle"><tspan font-style="italic">π</tspan></text>
<text x="1097.65" y="377.60" font-size="17.30" text-anchor="middle">1.5<tspan font-style="italic">π</tspan></text>
<text x="1199.20" y="377.60" font-size="17.30" text-anchor="middle">2<tspan font-style="italic">π</tspan></text>
<text x="950.83" y="374.70" font-size="17.30" text-anchor="middle" fill="#e60d1a">0.75<tspan font-style="italic">π</tspan></text>
<text x="784.40" y="254.91" font-size="17.30" text-anchor="end">0.0000</text>
<text x="784.40" y="296.71" font-size="17.30" text-anchor="end">−0.0002</text>
<text x="784.40" y="338.51" font-size="17.30" text-anchor="end">−0.0004</text>
<text x="996.10" y="218.30" font-size="19.40" text-anchor="middle">Instantaneous difference in neuronal output</text>
<text x="996.00" y="401.80" font-size="19.30" text-anchor="middle">Locomotion phase</text>
<text x="691.00" y="183.50" font-size="20.30" text-anchor="middle" transform="rotate(-90.00 691.00 183.50)">Output</text>
<text x="1329.00" y="181.70" font-size="16.00" text-anchor="middle">0</text>
<text x="1435.83" y="181.70" font-size="16.00" text-anchor="middle">0.5<tspan font-style="italic">π</tspan></text>
<text x="1542.65" y="181.70" font-size="16.00" text-anchor="middle"><tspan font-style="italic">π</tspan></text>
<text x="1649.47" y="181.70" font-size="16.00" text-anchor="middle">1.5<tspan font-style="italic">π</tspan></text>
<text x="1756.30" y="181.70" font-size="16.00" text-anchor="middle">2<tspan font-style="italic">π</tspan></text>
<text x="1494.74" y="181.70" font-size="16.00" text-anchor="middle" fill="#e60d1a">0.75<tspan font-style="italic">π</tspan></text>
<text x="1320.40" y="40.53" font-size="16.00" text-anchor="end">0.2</text>
<text x="1320.40" y="81.38" font-size="16.00" text-anchor="end">0.1</text>
<text x="1320.40" y="122.23" font-size="16.00" text-anchor="end">0.0</text>
<text x="1320.40" y="163.08" font-size="16.00" text-anchor="end">−0.1</text>
<text x="1542.40" y="24.00" font-size="19.40" text-anchor="middle">Instantaneous difference in neuronal input</text>
<text x="1329.00" y="379.20" font-size="16.00" text-anchor="middle">0</text>
<text x="1435.83" y="379.20" font-size="16.00" text-anchor="middle">0.5<tspan font-style="italic">π</tspan></text>
<text x="1542.65" y="379.20" font-size="16.00" text-anchor="middle"><tspan font-style="italic">π</tspan></text>
<text x="1649.47" y="379.20" font-size="16.00" text-anchor="middle">1.5<tspan font-style="italic">π</tspan></text>
<text x="1756.30" y="379.20" font-size="16.00" text-anchor="middle">2<tspan font-style="italic">π</tspan></text>
<text x="1494.74" y="378.70" font-size="16.00" text-anchor="middle" fill="#e60d1a">0.75<tspan font-style="italic">π</tspan></text>
<text x="1320.40" y="234.83" font-size="16.00" text-anchor="end">0.0010</text>
<text x="1320.40" y="292.33" font-size="16.00" text-anchor="end">0.0005</text>
<text x="1320.40" y="349.83" font-size="16.00" text-anchor="end">0.0000</text>
<text x="1542.40" y="218.30" font-size="19.40" text-anchor="middle">Instantaneous difference in neuronal output</text>
<text x="1542.80" y="402.40" font-size="17.80" text-anchor="middle">Locomotion phase</text>
<text x="2.0" y="32.1" font-size="44.5" font-family="'Liberation Serif','DejaVu Serif',serif" font-weight="bold">a</text>
<text x="701.0" y="32.1" font-size="44.5" font-family="'Liberation Serif','DejaVu Serif',serif" font-weight="bold">b</text>
<text x="1248.5" y="32.1" font-size="44.5" font-family="'Liberation Serif','DejaVu Serif',serif" font-weight="bold">c</text>
<text x="95.5" y="500.0" font-size="44.5" font-family="'Liberation Serif','DejaVu Serif',serif" font-weight="bold">d</text>
<text x="965.0" y="500.0" font-size="44.5" font-family="'Liberation Serif','DejaVu Serif',serif" font-weight="bold">e</text>
</g></g>
</svg>

</body></html>
